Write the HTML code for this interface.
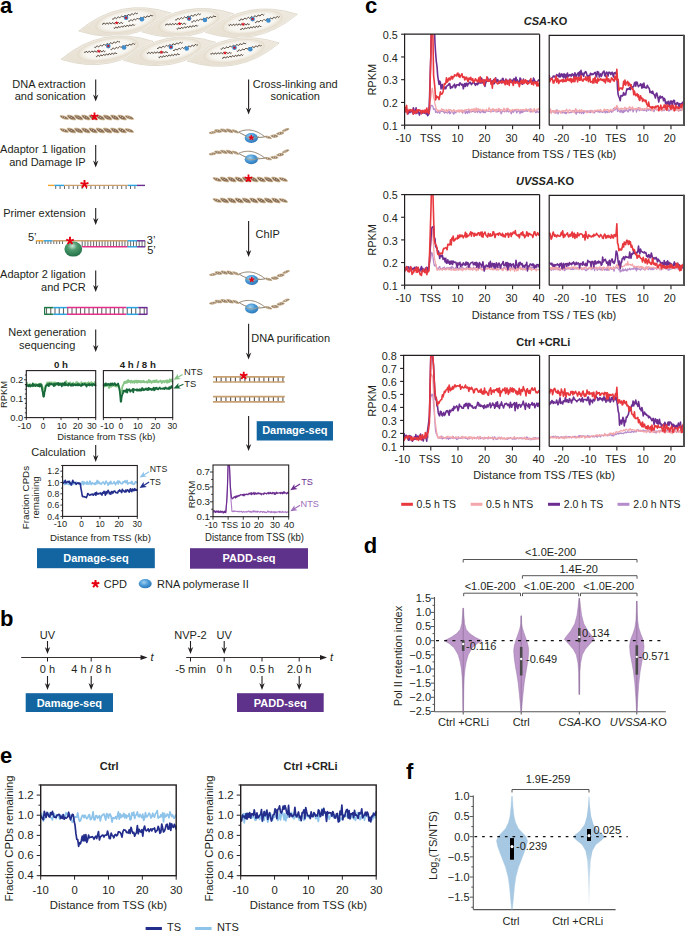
<!DOCTYPE html>
<html><head><meta charset="utf-8"><style>
html,body{margin:0;padding:0;background:#fff;}
svg{display:block;}
text{font-family:"Liberation Sans", sans-serif;}
</style></head><body>
<svg width="685" height="932" viewBox="0 0 685 932" font-family="Liberation Sans, sans-serif">
<rect width="685" height="932" fill="#fff"/>
<text x="365.00" y="12.50" font-size="22" text-anchor="start" font-weight="bold" font-style="normal" fill="#000" >c</text>
<clipPath id="c34a"><rect x="404.6" y="34.2" width="135.0" height="91.0"/></clipPath>
<clipPath id="c34b"><rect x="549.2" y="35.4" width="134.79999999999995" height="89.80000000000001"/></clipPath>
<g clip-path="url(#c34a)">
<polyline points="404.60,112.24 405.28,111.56 405.95,112.25 406.62,112.35 407.30,112.93 407.98,112.29 408.65,111.11 409.33,111.75 410.00,111.21 410.68,111.95 411.35,111.84 412.03,112.04 412.70,113.75 413.38,111.47 414.05,111.81 414.73,111.84 415.40,113.85 416.08,113.91 416.75,113.16 417.43,112.79 418.10,112.11 418.78,112.44 419.45,111.95 420.12,113.03 420.80,112.18 421.48,112.12 422.15,113.10 422.83,110.95 423.50,112.03 424.18,111.47 424.85,113.14 425.53,113.27 426.20,112.92 426.88,112.73 427.55,112.07 428.23,112.44 428.90,113.09 429.58,111.57 430.25,109.18 430.93,105.60 431.60,105.46 432.28,105.64 432.95,106.61 433.62,109.49 434.30,109.23 434.98,108.77 435.65,112.47 436.33,111.62 437.00,112.10 437.68,112.74 438.35,111.54 439.03,112.04 439.70,113.31 440.38,111.22 441.05,111.36 441.73,111.10 442.40,110.65 443.08,111.62 443.75,111.84 444.43,113.12 445.10,111.37 445.78,112.48 446.45,112.33 447.12,113.07 447.80,112.79 448.48,112.39 449.15,110.72 449.83,113.74 450.50,113.21 451.18,111.66 451.85,110.56 452.53,111.34 453.20,113.59 453.88,114.15 454.55,111.52 455.23,112.51 455.90,112.86 456.58,110.94 457.25,110.82 457.93,111.68 458.60,111.59 459.28,111.41 459.95,110.35 460.62,111.23 461.30,111.32 461.98,111.29 462.65,113.20 463.33,110.61 464.00,110.90 464.68,111.28 465.35,113.55 466.03,112.32 466.70,110.98 467.38,113.38 468.05,111.90 468.73,110.80 469.40,112.91 470.08,110.25 470.75,111.20 471.43,111.84 472.10,111.40 472.78,111.10 473.45,111.57 474.12,110.63 474.80,112.27 475.48,112.04 476.15,110.71 476.83,111.63 477.50,112.45 478.18,110.78 478.85,110.30 479.53,112.03 480.20,112.88 480.88,111.74 481.55,111.75 482.23,111.88 482.90,110.32 483.58,112.53 484.25,110.44 484.93,112.73 485.60,112.29 486.28,110.99 486.95,110.53 487.62,110.77 488.30,111.24 488.98,111.41 489.65,111.40 490.33,111.01 491.00,111.69 491.68,111.27 492.35,110.99 493.03,111.51 493.70,110.81 494.38,110.98 495.05,109.66 495.73,111.19 496.40,111.87 497.08,111.81 497.75,111.48 498.43,110.62 499.10,111.76 499.78,111.10 500.45,109.77 501.12,113.77 501.80,112.45 502.48,111.20 503.15,111.06 503.83,111.20 504.50,111.80 505.18,110.80 505.85,111.14 506.53,111.86 507.20,109.17 507.88,111.05 508.55,111.87 509.23,111.45 509.90,111.56 510.58,111.41 511.25,113.83 511.93,111.78 512.60,110.42 513.28,112.39 513.95,111.38 514.62,110.45 515.30,110.53 515.98,109.95 516.65,112.85 517.33,111.61 518.00,111.60 518.68,110.71 519.35,110.28 520.02,113.71 520.70,110.27 521.38,112.57 522.05,110.63 522.73,112.60 523.40,111.08 524.08,110.15 524.75,111.36 525.43,111.05 526.10,110.49 526.77,111.08 527.45,111.28 528.12,109.80 528.80,110.24 529.48,111.45 530.15,108.68 530.83,112.22 531.50,110.33 532.17,111.40 532.85,111.03 533.52,110.51 534.20,110.94 534.88,110.56 535.55,112.52 536.23,112.50 536.90,110.56 537.58,111.99 538.25,112.04 538.92,112.44 539.60,109.94" fill="none" stroke="#b68bcb" stroke-width="1.3" stroke-linejoin="round" />
<polyline points="404.60,109.73 405.28,109.10 405.95,111.33 406.62,110.51 407.30,111.58 407.98,109.87 408.65,109.16 409.33,111.44 410.00,109.25 410.68,109.80 411.35,110.89 412.03,112.55 412.70,109.51 413.38,110.91 414.05,111.40 414.73,110.52 415.40,110.54 416.08,109.59 416.75,111.91 417.43,109.98 418.10,109.69 418.78,109.75 419.45,111.27 420.12,111.82 420.80,110.24 421.48,111.10 422.15,111.12 422.83,109.97 423.50,111.54 424.18,113.42 424.85,111.71 425.53,113.08 426.20,110.68 426.88,111.17 427.55,112.04 428.23,111.53 428.90,110.79 429.58,106.60 430.25,100.59 430.93,97.05 431.60,91.49 432.28,88.20 432.95,91.88 433.62,97.75 434.30,99.18 434.98,104.30 435.65,106.18 436.33,109.59 437.00,109.44 437.68,111.53 438.35,110.42 439.03,110.57 439.70,110.42 440.38,110.93 441.05,110.17 441.73,108.75 442.40,110.34 443.08,109.89 443.75,109.46 444.43,110.54 445.10,111.50 445.78,110.86 446.45,109.37 447.12,111.84 447.80,110.88 448.48,109.42 449.15,109.61 449.83,110.32 450.50,109.59 451.18,110.17 451.85,111.39 452.53,111.73 453.20,110.89 453.88,109.46 454.55,110.81 455.23,111.11 455.90,110.99 456.58,111.68 457.25,110.38 457.93,111.35 458.60,109.94 459.28,112.41 459.95,109.96 460.62,110.84 461.30,112.02 461.98,109.59 462.65,110.49 463.33,112.27 464.00,111.03 464.68,109.96 465.35,110.64 466.03,109.51 466.70,109.53 467.38,109.60 468.05,109.91 468.73,108.99 469.40,109.60 470.08,109.78 470.75,112.08 471.43,109.37 472.10,108.99 472.78,110.44 473.45,110.60 474.12,108.40 474.80,111.76 475.48,109.73 476.15,107.95 476.83,110.99 477.50,109.52 478.18,108.42 478.85,110.24 479.53,109.62 480.20,109.30 480.88,110.94 481.55,110.20 482.23,109.85 482.90,109.36 483.58,110.13 484.25,110.28 484.93,111.02 485.60,110.42 486.28,109.27 486.95,109.99 487.62,110.85 488.30,110.84 488.98,107.64 489.65,109.02 490.33,109.48 491.00,112.41 491.68,109.48 492.35,109.61 493.03,108.51 493.70,109.65 494.38,110.09 495.05,109.55 495.73,111.79 496.40,109.08 497.08,109.72 497.75,110.65 498.43,108.80 499.10,108.35 499.78,111.27 500.45,110.60 501.12,109.72 501.80,109.81 502.48,110.34 503.15,110.86 503.83,108.04 504.50,109.02 505.18,111.05 505.85,111.18 506.53,108.40 507.20,109.05 507.88,108.28 508.55,109.20 509.23,110.73 509.90,109.69 510.58,111.89 511.25,110.60 511.93,109.97 512.60,109.43 513.28,110.57 513.95,110.01 514.62,109.48 515.30,109.55 515.98,109.31 516.65,109.69 517.33,110.17 518.00,109.16 518.68,109.82 519.35,110.62 520.02,110.43 520.70,109.86 521.38,109.95 522.05,109.70 522.73,109.84 523.40,109.68 524.08,109.96 524.75,110.97 525.43,109.44 526.10,108.86 526.77,109.42 527.45,109.98 528.12,109.40 528.80,110.68 529.48,111.52 530.15,109.74 530.83,110.64 531.50,109.11 532.17,110.77 532.85,112.17 533.52,110.72 534.20,108.33 534.88,110.11 535.55,111.00 536.23,110.45 536.90,109.27 537.58,109.29 538.25,109.58 538.92,108.38 539.60,109.09" fill="none" stroke="#f3a7aa" stroke-width="1.3" stroke-linejoin="round" />
<polyline points="404.60,111.59 405.28,110.53 405.95,108.67 406.62,109.97 407.30,109.94 407.98,113.84 408.65,112.20 409.33,110.66 410.00,112.60 410.68,110.17 411.35,111.10 412.03,110.59 412.70,112.69 413.38,107.74 414.05,110.18 414.73,112.89 415.40,112.40 416.08,107.90 416.75,113.31 417.43,111.16 418.10,111.03 418.78,112.87 419.45,115.06 420.12,112.66 420.80,112.41 421.48,111.07 422.15,111.77 422.83,113.21 423.50,111.77 424.18,112.40 424.85,113.07 425.53,113.41 426.20,114.02 426.88,112.39 427.55,115.62 428.23,114.91 428.90,113.82 429.58,96.18 430.25,73.99 430.93,53.02 431.60,12.69 432.28,10.42 432.95,10.42 433.62,11.55 434.30,24.87 434.98,43.28 435.65,53.62 436.33,61.70 437.00,66.33 437.68,75.62 438.35,80.04 439.03,84.43 439.70,81.12 440.38,82.26 441.05,88.84 441.73,85.60 442.40,84.47 443.08,88.94 443.75,89.16 444.43,87.89 445.10,87.22 445.78,88.74 446.45,86.24 447.12,85.96 447.80,85.37 448.48,85.11 449.15,83.51 449.83,83.98 450.50,88.34 451.18,86.73 451.85,87.60 452.53,87.49 453.20,85.54 453.88,85.24 454.55,84.21 455.23,87.85 455.90,87.07 456.58,84.72 457.25,84.90 457.93,84.96 458.60,84.37 459.28,85.58 459.95,82.86 460.62,83.43 461.30,84.18 461.98,85.19 462.65,84.23 463.33,88.81 464.00,85.58 464.68,83.67 465.35,86.42 466.03,83.26 466.70,83.30 467.38,86.02 468.05,83.91 468.73,83.97 469.40,82.50 470.08,82.17 470.75,83.29 471.43,84.72 472.10,83.38 472.78,83.17 473.45,81.66 474.12,82.41 474.80,84.20 475.48,85.29 476.15,83.45 476.83,84.06 477.50,84.68 478.18,82.81 478.85,83.44 479.53,82.29 480.20,81.48 480.88,83.12 481.55,78.09 482.23,82.84 482.90,80.20 483.58,81.92 484.25,80.06 484.93,86.36 485.60,83.34 486.28,81.51 486.95,80.85 487.62,77.68 488.30,81.33 488.98,79.57 489.65,80.49 490.33,80.15 491.00,80.93 491.68,82.13 492.35,80.91 493.03,83.78 493.70,79.65 494.38,83.64 495.05,81.32 495.73,77.90 496.40,82.15 497.08,81.70 497.75,79.60 498.43,81.66 499.10,83.16 499.78,81.21 500.45,80.60 501.12,80.36 501.80,83.04 502.48,78.43 503.15,78.57 503.83,81.56 504.50,81.09 505.18,82.34 505.85,78.97 506.53,82.82 507.20,80.29 507.88,82.38 508.55,82.75 509.23,80.17 509.90,79.04 510.58,81.47 511.25,82.67 511.93,79.94 512.60,81.50 513.28,80.83 513.95,78.61 514.62,79.30 515.30,82.30 515.98,77.18 516.65,81.31 517.33,79.88 518.00,82.47 518.68,81.36 519.35,84.45 520.02,78.00 520.70,78.75 521.38,83.43 522.05,83.95 522.73,84.14 523.40,79.04 524.08,82.00 524.75,81.26 525.43,81.71 526.10,81.34 526.77,83.09 527.45,81.05 528.12,83.70 528.80,81.20 529.48,80.49 530.15,80.19 530.83,81.44 531.50,82.65 532.17,80.70 532.85,81.86 533.52,78.12 534.20,79.55 534.88,81.15 535.55,81.78 536.23,82.19 536.90,82.60 537.58,81.52 538.25,80.33 538.92,79.91 539.60,79.80" fill="none" stroke="#6d2e91" stroke-width="1.6" stroke-linejoin="round" />
<polyline points="404.60,106.59 405.28,111.73 405.95,110.46 406.62,105.43 407.30,113.94 407.98,111.53 408.65,110.30 409.33,110.37 410.00,109.94 410.68,111.15 411.35,110.08 412.03,110.68 412.70,109.41 413.38,114.29 414.05,112.49 414.73,110.92 415.40,112.83 416.08,112.88 416.75,109.87 417.43,112.23 418.10,109.93 418.78,109.76 419.45,110.59 420.12,110.26 420.80,111.41 421.48,113.81 422.15,111.34 422.83,110.49 423.50,112.31 424.18,111.56 424.85,110.05 425.53,113.05 426.20,110.32 426.88,108.13 427.55,112.56 428.23,112.10 428.90,113.45 429.58,105.33 430.25,79.12 430.93,49.63 431.60,12.71 432.28,11.48 432.95,38.77 433.62,76.11 434.30,81.95 434.98,89.03 435.65,99.95 436.33,95.69 437.00,97.57 437.68,96.80 438.35,97.23 439.03,99.49 439.70,96.01 440.38,91.77 441.05,94.40 441.73,94.07 442.40,93.55 443.08,91.78 443.75,87.43 444.43,83.44 445.10,84.23 445.78,83.04 446.45,77.91 447.12,82.16 447.80,81.69 448.48,78.74 449.15,77.94 449.83,80.03 450.50,79.55 451.18,76.61 451.85,76.41 452.53,78.95 453.20,76.66 453.88,76.99 454.55,74.88 455.23,75.65 455.90,75.31 456.58,75.94 457.25,73.52 457.93,73.05 458.60,76.39 459.28,74.32 459.95,77.38 460.62,76.01 461.30,74.92 461.98,73.72 462.65,77.36 463.33,76.99 464.00,76.69 464.68,79.96 465.35,77.40 466.03,78.84 466.70,77.13 467.38,80.05 468.05,81.78 468.73,78.30 469.40,78.09 470.08,79.75 470.75,77.32 471.43,79.63 472.10,80.42 472.78,78.64 473.45,82.55 474.12,81.12 474.80,80.12 475.48,78.72 476.15,80.75 476.83,80.09 477.50,82.03 478.18,80.34 478.85,77.91 479.53,82.24 480.20,76.73 480.88,82.26 481.55,81.10 482.23,80.87 482.90,79.37 483.58,83.54 484.25,85.16 484.93,80.28 485.60,79.99 486.28,80.35 486.95,76.75 487.62,81.21 488.30,81.17 488.98,79.99 489.65,81.06 490.33,78.76 491.00,84.09 491.68,82.57 492.35,88.20 493.03,80.50 493.70,82.71 494.38,80.40 495.05,78.21 495.73,82.19 496.40,82.69 497.08,83.19 497.75,83.86 498.43,83.53 499.10,81.27 499.78,82.37 500.45,82.33 501.12,82.78 501.80,80.81 502.48,81.59 503.15,82.76 503.83,81.30 504.50,82.80 505.18,84.63 505.85,79.90 506.53,81.71 507.20,84.31 507.88,80.61 508.55,81.96 509.23,85.45 509.90,79.68 510.58,82.02 511.25,81.01 511.93,82.29 512.60,82.93 513.28,85.49 513.95,80.91 514.62,82.64 515.30,83.22 515.98,82.08 516.65,82.58 517.33,81.51 518.00,83.42 518.68,82.83 519.35,86.66 520.02,83.55 520.70,81.56 521.38,80.37 522.05,83.48 522.73,83.05 523.40,79.96 524.08,83.44 524.75,81.53 525.43,79.82 526.10,82.81 526.77,80.66 527.45,84.20 528.12,82.54 528.80,83.07 529.48,82.73 530.15,80.90 530.83,78.62 531.50,84.19 532.17,84.03 532.85,82.09 533.52,84.93 534.20,82.12 534.88,81.99 535.55,83.55 536.23,82.09 536.90,85.89 537.58,81.70 538.25,85.90 538.92,84.37 539.60,84.12" fill="none" stroke="#e8373d" stroke-width="1.6" stroke-linejoin="round" />
</g>
<g clip-path="url(#c34b)">
<polyline points="549.20,112.54 549.88,111.40 550.55,112.10 551.23,112.52 551.91,111.67 552.58,110.73 553.26,112.14 553.94,111.82 554.61,111.03 555.29,111.89 555.97,113.28 556.64,109.89 557.32,110.14 557.99,113.90 558.67,112.15 559.35,111.73 560.02,111.23 560.70,111.50 561.38,112.34 562.05,113.03 562.73,111.99 563.41,111.15 564.08,113.05 564.76,112.99 565.44,112.08 566.11,113.80 566.79,112.29 567.47,112.44 568.14,111.64 568.82,112.67 569.50,112.82 570.17,112.38 570.85,112.07 571.52,112.61 572.20,112.00 572.88,111.33 573.55,110.94 574.23,110.47 574.91,112.70 575.58,112.37 576.26,114.21 576.94,110.27 577.61,112.62 578.29,112.00 578.97,111.49 579.64,113.18 580.32,111.54 581.00,111.97 581.67,113.58 582.35,111.68 583.03,110.86 583.70,113.61 584.38,111.20 585.05,111.73 585.73,111.49 586.41,111.51 587.08,110.73 587.76,112.10 588.44,111.11 589.11,112.26 589.79,111.23 590.47,112.61 591.14,111.97 591.82,110.32 592.50,111.47 593.17,112.00 593.85,112.88 594.53,112.56 595.20,111.67 595.88,111.00 596.56,111.45 597.23,111.36 597.91,111.87 598.58,110.61 599.26,112.17 599.94,112.31 600.61,111.01 601.29,111.75 601.97,112.05 602.64,112.31 603.32,112.02 604.00,111.22 604.67,111.46 605.35,112.86 606.03,111.39 606.70,111.60 607.38,112.66 608.06,111.06 608.73,112.00 609.41,112.05 610.09,111.03 610.76,110.55 611.44,112.35 612.11,110.92 612.79,111.67 613.47,108.39 614.14,110.49 614.82,108.55 615.50,109.79 616.17,108.05 616.85,106.37 617.53,111.49 618.20,110.44 618.88,110.44 619.56,111.81 620.23,112.22 620.91,109.57 621.59,111.32 622.26,112.76 622.94,110.40 623.62,112.60 624.29,109.91 624.97,111.35 625.64,110.59 626.32,109.48 627.00,110.39 627.67,111.63 628.35,111.79 629.03,109.10 629.70,109.38 630.38,110.67 631.06,109.16 631.73,109.48 632.41,109.34 633.09,111.94 633.76,110.18 634.44,109.09 635.12,109.24 635.79,109.10 636.47,112.09 637.14,109.73 637.82,109.43 638.50,107.58 639.17,110.72 639.85,110.15 640.53,109.82 641.20,109.05 641.88,110.24 642.56,108.80 643.23,110.53 643.91,109.58 644.59,110.29 645.26,109.67 645.94,110.43 646.62,111.23 647.29,108.81 647.97,109.52 648.65,110.28 649.32,109.60 650.00,108.88 650.67,110.64 651.35,109.86 652.03,109.27 652.70,109.28 653.38,110.04 654.06,111.63 654.73,108.62 655.41,109.43 656.09,109.71 656.76,109.97 657.44,109.47 658.12,110.09 658.79,110.62 659.47,110.36 660.15,110.22 660.82,110.23 661.50,110.72 662.18,109.10 662.85,110.84 663.53,109.07 664.21,110.56 664.88,109.33 665.56,108.41 666.23,109.45 666.91,110.29 667.59,109.58 668.26,109.49 668.94,111.17 669.62,110.15 670.29,109.46 670.97,110.02 671.65,109.52 672.32,108.93 673.00,108.89 673.68,108.76 674.35,109.04 675.03,109.82 675.71,109.57 676.38,109.80 677.06,109.83 677.74,109.70 678.41,111.08 679.09,109.83 679.76,109.55 680.44,110.39 681.12,109.53 681.79,109.04 682.47,109.65 683.15,107.63 683.82,111.83 684.50,109.67" fill="none" stroke="#b68bcb" stroke-width="1.3" stroke-linejoin="round" />
<polyline points="549.20,112.92 549.88,110.39 550.55,108.88 551.23,113.51 551.91,111.14 552.58,110.78 553.26,111.51 553.94,110.73 554.61,113.24 555.29,110.45 555.97,110.87 556.64,111.18 557.32,111.72 557.99,110.61 558.67,111.61 559.35,110.97 560.02,111.62 560.70,113.17 561.38,111.18 562.05,110.96 562.73,110.46 563.41,111.91 564.08,111.15 564.76,110.56 565.44,110.97 566.11,109.98 566.79,109.30 567.47,111.90 568.14,112.80 568.82,110.30 569.50,109.69 570.17,110.23 570.85,110.32 571.52,111.59 572.20,111.67 572.88,110.23 573.55,111.84 574.23,112.64 574.91,111.90 575.58,108.76 576.26,109.26 576.94,111.60 577.61,111.63 578.29,110.76 578.97,111.63 579.64,109.78 580.32,111.01 581.00,111.91 581.67,109.75 582.35,111.45 583.03,110.72 583.70,110.92 584.38,111.18 585.05,110.60 585.73,111.51 586.41,112.53 587.08,112.85 587.76,112.00 588.44,111.54 589.11,110.87 589.79,110.79 590.47,110.34 591.14,110.72 591.82,111.53 592.50,111.45 593.17,112.71 593.85,110.95 594.53,110.36 595.20,110.31 595.88,110.88 596.56,110.92 597.23,109.92 597.91,110.74 598.58,110.08 599.26,110.22 599.94,110.54 600.61,109.55 601.29,111.23 601.97,111.03 602.64,111.43 603.32,111.41 604.00,109.29 604.67,109.10 605.35,110.65 606.03,110.16 606.70,109.60 607.38,109.93 608.06,109.56 608.73,111.77 609.41,111.20 610.09,110.22 610.76,109.33 611.44,110.51 612.11,110.96 612.79,110.08 613.47,109.94 614.14,109.69 614.82,107.15 615.50,108.64 616.17,107.64 616.85,105.30 617.53,106.85 618.20,108.29 618.88,109.81 619.56,109.57 620.23,108.28 620.91,108.98 621.59,108.21 622.26,109.06 622.94,108.49 623.62,108.94 624.29,108.18 624.97,107.19 625.64,109.66 626.32,108.44 627.00,108.19 627.67,108.93 628.35,108.70 629.03,107.73 629.70,106.65 630.38,107.90 631.06,108.18 631.73,109.88 632.41,106.77 633.09,108.45 633.76,108.56 634.44,109.55 635.12,108.60 635.79,109.55 636.47,108.52 637.14,108.17 637.82,108.58 638.50,108.37 639.17,109.40 639.85,107.36 640.53,109.24 641.20,110.30 641.88,108.85 642.56,109.38 643.23,109.61 643.91,109.04 644.59,108.47 645.26,109.81 645.94,108.88 646.62,107.49 647.29,108.17 647.97,108.93 648.65,108.69 649.32,108.93 650.00,108.88 650.67,108.19 651.35,108.94 652.03,111.03 652.70,108.90 653.38,109.70 654.06,108.33 654.73,109.47 655.41,108.80 656.09,106.99 656.76,109.90 657.44,109.98 658.12,110.26 658.79,111.15 659.47,110.70 660.15,108.70 660.82,109.61 661.50,110.73 662.18,110.40 662.85,108.52 663.53,109.79 664.21,109.43 664.88,108.82 665.56,107.91 666.23,107.40 666.91,108.23 667.59,109.04 668.26,109.01 668.94,107.57 669.62,107.92 670.29,109.50 670.97,108.82 671.65,108.98 672.32,109.21 673.00,109.72 673.68,110.47 674.35,109.77 675.03,110.69 675.71,108.22 676.38,108.85 677.06,110.43 677.74,108.10 678.41,108.57 679.09,111.10 679.76,107.74 680.44,108.68 681.12,107.57 681.79,110.54 682.47,108.97 683.15,109.08 683.82,109.29 684.50,109.33" fill="none" stroke="#f3a7aa" stroke-width="1.3" stroke-linejoin="round" />
<polyline points="549.20,75.04 549.88,79.56 550.55,79.05 551.23,79.27 551.91,77.71 552.58,77.74 553.26,75.94 553.94,76.06 554.61,76.43 555.29,77.64 555.97,77.16 556.64,74.60 557.32,74.89 557.99,76.02 558.67,76.73 559.35,73.30 560.02,77.10 560.70,74.81 561.38,73.85 562.05,76.34 562.73,74.33 563.41,77.76 564.08,73.88 564.76,75.28 565.44,78.44 566.11,74.33 566.79,77.08 567.47,73.11 568.14,76.58 568.82,75.60 569.50,74.74 570.17,75.79 570.85,74.67 571.52,76.07 572.20,73.82 572.88,74.96 573.55,74.53 574.23,79.80 574.91,72.71 575.58,74.69 576.26,77.89 576.94,74.50 577.61,73.81 578.29,72.70 578.97,76.55 579.64,71.81 580.32,74.85 581.00,70.25 581.67,74.79 582.35,73.29 583.03,75.15 583.70,76.47 584.38,72.48 585.05,72.80 585.73,71.64 586.41,72.85 587.08,75.40 587.76,77.33 588.44,75.50 589.11,75.52 589.79,75.75 590.47,73.22 591.14,73.66 591.82,74.71 592.50,73.90 593.17,74.45 593.85,73.78 594.53,72.80 595.20,72.40 595.88,75.34 596.56,76.79 597.23,71.50 597.91,73.84 598.58,72.04 599.26,76.96 599.94,74.58 600.61,73.92 601.29,76.53 601.97,74.85 602.64,72.60 603.32,71.95 604.00,71.00 604.67,75.40 605.35,76.34 606.03,72.87 606.70,72.10 607.38,73.42 608.06,76.08 608.73,72.32 609.41,72.28 610.09,72.69 610.76,74.54 611.44,73.10 612.11,72.21 612.79,74.61 613.47,76.90 614.14,72.97 614.82,72.70 615.50,73.54 616.17,71.97 616.85,74.62 617.53,88.68 618.20,94.83 618.88,96.70 619.56,98.31 620.23,100.70 620.91,95.64 621.59,95.65 622.26,96.05 622.94,95.49 623.62,92.44 624.29,95.02 624.97,93.97 625.64,94.84 626.32,91.24 627.00,88.83 627.67,89.45 628.35,88.80 629.03,89.08 629.70,87.57 630.38,89.59 631.06,84.73 631.73,86.93 632.41,87.76 633.09,86.70 633.76,86.41 634.44,82.97 635.12,82.19 635.79,86.11 636.47,82.10 637.14,82.26 637.82,84.99 638.50,86.71 639.17,85.47 639.85,85.37 640.53,83.71 641.20,85.06 641.88,88.15 642.56,84.18 643.23,87.45 643.91,83.16 644.59,87.52 645.26,87.16 645.94,88.01 646.62,88.01 647.29,85.27 647.97,86.63 648.65,87.64 649.32,88.71 650.00,92.62 650.67,91.34 651.35,91.95 652.03,93.28 652.70,91.17 653.38,93.98 654.06,94.48 654.73,95.65 655.41,98.03 656.09,93.82 656.76,93.06 657.44,95.70 658.12,98.33 658.79,102.00 659.47,97.39 660.15,96.08 660.82,98.06 661.50,97.27 662.18,96.62 662.85,97.58 663.53,100.74 664.21,98.39 664.88,99.22 665.56,103.71 666.23,102.02 666.91,104.18 667.59,102.16 668.26,101.26 668.94,104.56 669.62,106.67 670.29,100.98 670.97,102.97 671.65,101.10 672.32,106.20 673.00,102.01 673.68,100.28 674.35,100.49 675.03,104.56 675.71,103.79 676.38,104.64 677.06,102.66 677.74,102.68 678.41,104.48 679.09,107.17 679.76,103.48 680.44,105.75 681.12,103.87 681.79,104.61 682.47,102.26 683.15,103.22 683.82,106.16 684.50,104.82" fill="none" stroke="#6d2e91" stroke-width="1.6" stroke-linejoin="round" />
<polyline points="549.20,77.58 549.88,81.70 550.55,79.94 551.23,78.56 551.91,78.43 552.58,79.74 553.26,83.02 553.94,82.90 554.61,80.17 555.29,79.91 555.97,76.01 556.64,82.12 557.32,78.51 557.99,79.15 558.67,83.52 559.35,81.97 560.02,80.19 560.70,81.36 561.38,80.73 562.05,79.59 562.73,81.88 563.41,79.57 564.08,81.53 564.76,81.35 565.44,79.39 566.11,81.37 566.79,79.81 567.47,77.43 568.14,80.24 568.82,80.54 569.50,78.94 570.17,80.90 570.85,78.28 571.52,82.51 572.20,79.08 572.88,81.10 573.55,81.59 574.23,76.96 574.91,81.65 575.58,76.96 576.26,78.91 576.94,77.47 577.61,81.82 578.29,77.89 578.97,77.41 579.64,80.22 580.32,80.23 581.00,75.57 581.67,79.64 582.35,80.71 583.03,81.06 583.70,79.11 584.38,79.30 585.05,79.56 585.73,76.77 586.41,80.44 587.08,78.98 587.76,77.20 588.44,81.60 589.11,77.92 589.79,76.48 590.47,82.18 591.14,81.71 591.82,81.58 592.50,83.02 593.17,78.87 593.85,83.00 594.53,78.76 595.20,77.03 595.88,82.52 596.56,80.17 597.23,83.03 597.91,78.17 598.58,80.88 599.26,80.02 599.94,79.42 600.61,78.53 601.29,80.11 601.97,79.45 602.64,80.44 603.32,79.23 604.00,81.53 604.67,79.29 605.35,82.86 606.03,80.25 606.70,75.92 607.38,79.20 608.06,81.59 608.73,78.85 609.41,81.04 610.09,82.24 610.76,80.58 611.44,77.92 612.11,78.54 612.79,79.38 613.47,80.86 614.14,81.11 614.82,76.40 615.50,78.04 616.17,79.83 616.85,69.27 617.53,80.29 618.20,79.45 618.88,90.45 619.56,89.04 620.23,88.06 620.91,88.25 621.59,88.00 622.26,89.50 622.94,87.58 623.62,81.31 624.29,84.35 624.97,80.13 625.64,85.08 626.32,82.93 627.00,82.36 627.67,81.36 628.35,85.63 629.03,82.93 629.70,83.70 630.38,86.11 631.06,84.96 631.73,88.46 632.41,89.31 633.09,88.94 633.76,94.81 634.44,91.16 635.12,93.79 635.79,95.65 636.47,94.81 637.14,93.71 637.82,96.83 638.50,94.86 639.17,99.69 639.85,100.43 640.53,95.75 641.20,98.29 641.88,97.78 642.56,101.43 643.23,98.97 643.91,100.41 644.59,100.18 645.26,101.77 645.94,100.12 646.62,103.92 647.29,104.95 647.97,106.34 648.65,102.07 649.32,105.95 650.00,106.96 650.67,107.24 651.35,106.82 652.03,108.43 652.70,106.70 653.38,107.33 654.06,107.23 654.73,108.00 655.41,106.24 656.09,107.16 656.76,106.16 657.44,105.95 658.12,105.82 658.79,110.40 659.47,107.46 660.15,107.96 660.82,105.17 661.50,109.43 662.18,107.91 662.85,107.19 663.53,107.29 664.21,104.94 664.88,107.55 665.56,105.05 666.23,109.45 666.91,110.11 667.59,104.69 668.26,106.13 668.94,106.07 669.62,106.76 670.29,106.14 670.97,109.23 671.65,105.37 672.32,108.07 673.00,105.37 673.68,107.02 674.35,110.75 675.03,109.55 675.71,105.25 676.38,107.55 677.06,108.05 677.74,106.93 678.41,108.16 679.09,108.41 679.76,107.28 680.44,107.24 681.12,104.80 681.79,107.48 682.47,104.22 683.15,104.39 683.82,104.57 684.50,105.78" fill="none" stroke="#e8373d" stroke-width="1.6" stroke-linejoin="round" />
</g>
<path d="M404.6,125.2 L404.6,34.2 L539.6,34.2" fill="none" stroke="#231f20" stroke-width="1.2"/>
<path d="M539.6,34.2 L539.6,125.2 L404.6,125.2" fill="none" stroke="#231f20" stroke-width="1.2"/>
<path d="M549.2,125.2 L549.2,35.4 L684.0,35.4" fill="none" stroke="#231f20" stroke-width="1.2"/>
<path d="M549.2,125.2 L685.0,125.2" fill="none" stroke="#231f20" stroke-width="1.2"/>
<rect x="683" y="34.8" width="2" height="91.00000000000001" fill="#505050"/>
<line x1="401.10" y1="125.20" x2="404.60" y2="125.20" stroke="#231f20" stroke-width="1.1" />
<text x="397.80" y="129.80" font-size="10.8" text-anchor="end" font-weight="normal" font-style="normal" fill="#231f20" >0.1</text>
<line x1="401.10" y1="102.45" x2="404.60" y2="102.45" stroke="#231f20" stroke-width="1.1" />
<text x="397.80" y="107.05" font-size="10.8" text-anchor="end" font-weight="normal" font-style="normal" fill="#231f20" >0.2</text>
<line x1="401.10" y1="79.70" x2="404.60" y2="79.70" stroke="#231f20" stroke-width="1.1" />
<text x="397.80" y="84.30" font-size="10.8" text-anchor="end" font-weight="normal" font-style="normal" fill="#231f20" >0.3</text>
<line x1="401.10" y1="56.95" x2="404.60" y2="56.95" stroke="#231f20" stroke-width="1.1" />
<text x="397.80" y="61.55" font-size="10.8" text-anchor="end" font-weight="normal" font-style="normal" fill="#231f20" >0.4</text>
<line x1="401.10" y1="34.20" x2="404.60" y2="34.20" stroke="#231f20" stroke-width="1.1" />
<text x="397.80" y="38.80" font-size="10.8" text-anchor="end" font-weight="normal" font-style="normal" fill="#231f20" >0.5</text>
<line x1="404.60" y1="125.20" x2="404.60" y2="129.20" stroke="#231f20" stroke-width="1.1" />
<line x1="431.60" y1="125.20" x2="431.60" y2="129.20" stroke="#231f20" stroke-width="1.1" />
<line x1="458.60" y1="125.20" x2="458.60" y2="129.20" stroke="#231f20" stroke-width="1.1" />
<line x1="485.60" y1="125.20" x2="485.60" y2="129.20" stroke="#231f20" stroke-width="1.1" />
<line x1="512.60" y1="125.20" x2="512.60" y2="129.20" stroke="#231f20" stroke-width="1.1" />
<line x1="539.60" y1="125.20" x2="539.60" y2="129.20" stroke="#231f20" stroke-width="1.1" />
<line x1="562.73" y1="125.20" x2="562.73" y2="129.20" stroke="#231f20" stroke-width="1.1" />
<line x1="589.79" y1="125.20" x2="589.79" y2="129.20" stroke="#231f20" stroke-width="1.1" />
<line x1="616.85" y1="125.20" x2="616.85" y2="129.20" stroke="#231f20" stroke-width="1.1" />
<line x1="643.91" y1="125.20" x2="643.91" y2="129.20" stroke="#231f20" stroke-width="1.1" />
<line x1="670.97" y1="125.20" x2="670.97" y2="129.20" stroke="#231f20" stroke-width="1.1" />
<text x="403.40" y="141.70" font-size="10.8" text-anchor="middle" font-weight="normal" font-style="normal" fill="#231f20" >-10</text>
<text x="430.40" y="141.70" font-size="10.8" text-anchor="middle" font-weight="normal" font-style="normal" fill="#231f20" >TSS</text>
<text x="457.40" y="141.70" font-size="10.8" text-anchor="middle" font-weight="normal" font-style="normal" fill="#231f20" >10</text>
<text x="484.40" y="141.70" font-size="10.8" text-anchor="middle" font-weight="normal" font-style="normal" fill="#231f20" >20</text>
<text x="511.40" y="141.70" font-size="10.8" text-anchor="middle" font-weight="normal" font-style="normal" fill="#231f20" >30</text>
<text x="538.40" y="141.70" font-size="10.8" text-anchor="middle" font-weight="normal" font-style="normal" fill="#231f20" >40</text>
<text x="561.53" y="141.70" font-size="10.8" text-anchor="middle" font-weight="normal" font-style="normal" fill="#231f20" >-20</text>
<text x="588.59" y="141.70" font-size="10.8" text-anchor="middle" font-weight="normal" font-style="normal" fill="#231f20" >-10</text>
<text x="615.65" y="141.70" font-size="10.8" text-anchor="middle" font-weight="normal" font-style="normal" fill="#231f20" >TES</text>
<text x="642.71" y="141.70" font-size="10.8" text-anchor="middle" font-weight="normal" font-style="normal" fill="#231f20" >10</text>
<text x="669.77" y="141.70" font-size="10.8" text-anchor="middle" font-weight="normal" font-style="normal" fill="#231f20" >20</text>
<text x="544.00" y="158.00" font-size="11" text-anchor="middle" font-weight="normal" font-style="normal" fill="#231f20" >Distance from TSS / TES (kb)</text>
<text x="545.5" y="25.2" font-size="11" font-weight="bold" text-anchor="middle" fill="#231f20"><tspan font-style="italic">CSA</tspan>-KO</text>
<text transform="translate(375.8,79.7) rotate(-90)" font-size="11" text-anchor="middle" fill="#231f20">RPKM</text>
<clipPath id="c194a"><rect x="404.6" y="194.6" width="135.0" height="90.6"/></clipPath>
<clipPath id="c194b"><rect x="549.2" y="195.3" width="134.79999999999995" height="89.89999999999998"/></clipPath>
<g clip-path="url(#c194a)">
<polyline points="404.60,268.77 405.28,268.79 405.95,269.07 406.62,269.63 407.30,269.05 407.98,269.60 408.65,267.56 409.33,268.58 410.00,269.50 410.68,270.85 411.35,269.19 412.03,269.55 412.70,270.18 413.38,270.25 414.05,271.28 414.73,268.75 415.40,269.35 416.08,266.98 416.75,269.37 417.43,269.50 418.10,268.09 418.78,269.30 419.45,269.29 420.12,269.81 420.80,270.04 421.48,268.16 422.15,268.64 422.83,268.02 423.50,269.91 424.18,269.59 424.85,270.44 425.53,268.80 426.20,270.96 426.88,269.21 427.55,268.75 428.23,268.49 428.90,270.65 429.58,264.17 430.25,261.16 430.93,256.55 431.60,252.42 432.28,253.58 432.95,256.53 433.62,261.96 434.30,265.50 434.98,265.97 435.65,264.24 436.33,266.45 437.00,268.70 437.68,269.83 438.35,268.81 439.03,267.12 439.70,266.50 440.38,268.43 441.05,268.81 441.73,268.64 442.40,269.89 443.08,267.35 443.75,269.15 444.43,267.20 445.10,269.71 445.78,269.31 446.45,267.89 447.12,268.84 447.80,267.43 448.48,268.13 449.15,269.20 449.83,267.56 450.50,267.36 451.18,269.85 451.85,266.46 452.53,267.66 453.20,267.42 453.88,269.79 454.55,268.75 455.23,268.41 455.90,267.11 456.58,269.41 457.25,268.88 457.93,269.91 458.60,268.29 459.28,267.75 459.95,269.59 460.62,268.59 461.30,267.59 461.98,266.61 462.65,267.44 463.33,268.31 464.00,269.10 464.68,268.88 465.35,268.63 466.03,267.89 466.70,268.06 467.38,266.50 468.05,267.75 468.73,268.97 469.40,266.60 470.08,267.13 470.75,267.90 471.43,268.64 472.10,269.67 472.78,268.90 473.45,267.15 474.12,268.69 474.80,269.16 475.48,267.78 476.15,267.73 476.83,267.40 477.50,267.35 478.18,266.66 478.85,268.70 479.53,267.04 480.20,268.82 480.88,267.29 481.55,267.76 482.23,267.69 482.90,267.03 483.58,267.92 484.25,266.89 484.93,267.10 485.60,267.77 486.28,268.40 486.95,268.56 487.62,268.36 488.30,268.06 488.98,267.89 489.65,265.16 490.33,267.28 491.00,267.16 491.68,268.63 492.35,268.49 493.03,268.13 493.70,267.66 494.38,268.77 495.05,266.37 495.73,268.33 496.40,266.84 497.08,269.93 497.75,267.82 498.43,267.55 499.10,267.63 499.78,267.25 500.45,267.54 501.12,267.64 501.80,269.50 502.48,268.43 503.15,269.90 503.83,267.20 504.50,267.49 505.18,267.94 505.85,268.50 506.53,268.28 507.20,266.08 507.88,266.17 508.55,267.79 509.23,266.57 509.90,269.17 510.58,269.48 511.25,268.16 511.93,268.51 512.60,268.22 513.28,267.54 513.95,264.96 514.62,268.30 515.30,267.65 515.98,267.44 516.65,267.72 517.33,266.84 518.00,266.07 518.68,268.80 519.35,267.52 520.02,267.90 520.70,267.34 521.38,269.04 522.05,269.24 522.73,269.74 523.40,267.16 524.08,267.46 524.75,267.56 525.43,269.77 526.10,267.96 526.77,268.30 527.45,268.89 528.12,268.44 528.80,266.97 529.48,267.11 530.15,267.62 530.83,267.13 531.50,268.13 532.17,267.52 532.85,267.54 533.52,267.07 534.20,267.63 534.88,267.69 535.55,267.68 536.23,268.14 536.90,265.53 537.58,267.08 538.25,267.15 538.92,265.46 539.60,266.26" fill="none" stroke="#b68bcb" stroke-width="1.3" stroke-linejoin="round" />
<polyline points="404.60,272.34 405.28,270.32 405.95,270.21 406.62,269.28 407.30,269.81 407.98,270.33 408.65,272.11 409.33,271.85 410.00,270.84 410.68,270.64 411.35,272.04 412.03,271.49 412.70,271.52 413.38,271.12 414.05,270.89 414.73,271.47 415.40,272.35 416.08,270.13 416.75,269.82 417.43,271.39 418.10,270.38 418.78,270.92 419.45,270.75 420.12,270.93 420.80,272.08 421.48,270.88 422.15,270.51 422.83,272.25 423.50,269.68 424.18,269.58 424.85,269.85 425.53,269.71 426.20,270.86 426.88,271.86 427.55,272.12 428.23,272.33 428.90,271.50 429.58,261.73 430.25,251.18 430.93,243.71 431.60,233.28 432.28,227.65 432.95,237.01 433.62,246.89 434.30,257.59 434.98,260.60 435.65,263.87 436.33,266.62 437.00,270.09 437.68,269.18 438.35,269.36 439.03,269.05 439.70,270.11 440.38,269.29 441.05,269.28 441.73,268.78 442.40,270.28 443.08,268.94 443.75,268.42 444.43,268.77 445.10,269.64 445.78,269.75 446.45,269.52 447.12,268.64 447.80,267.89 448.48,269.44 449.15,269.87 449.83,268.95 450.50,269.10 451.18,270.11 451.85,269.95 452.53,269.37 453.20,268.66 453.88,270.35 454.55,270.19 455.23,268.81 455.90,270.37 456.58,269.16 457.25,268.94 457.93,269.35 458.60,270.17 459.28,269.30 459.95,269.54 460.62,268.94 461.30,270.00 461.98,268.25 462.65,270.75 463.33,269.39 464.00,269.22 464.68,268.35 465.35,269.77 466.03,268.72 466.70,269.73 467.38,268.54 468.05,267.63 468.73,269.57 469.40,268.80 470.08,270.04 470.75,268.31 471.43,268.10 472.10,269.16 472.78,270.22 473.45,268.82 474.12,268.14 474.80,268.19 475.48,268.44 476.15,270.83 476.83,269.79 477.50,267.88 478.18,270.27 478.85,268.14 479.53,267.45 480.20,268.46 480.88,268.14 481.55,269.45 482.23,270.26 482.90,269.24 483.58,269.32 484.25,269.18 484.93,268.50 485.60,269.26 486.28,268.95 486.95,268.74 487.62,269.13 488.30,267.45 488.98,268.71 489.65,269.04 490.33,269.30 491.00,269.67 491.68,267.89 492.35,268.96 493.03,270.08 493.70,269.60 494.38,269.22 495.05,269.49 495.73,268.10 496.40,270.14 497.08,268.63 497.75,268.95 498.43,270.14 499.10,269.03 499.78,269.15 500.45,268.61 501.12,269.47 501.80,268.78 502.48,270.56 503.15,270.03 503.83,268.34 504.50,268.10 505.18,269.06 505.85,269.58 506.53,268.06 507.20,270.93 507.88,269.76 508.55,268.42 509.23,268.43 509.90,269.96 510.58,270.73 511.25,267.70 511.93,268.88 512.60,269.82 513.28,268.96 513.95,268.19 514.62,271.35 515.30,267.99 515.98,268.33 516.65,270.88 517.33,268.29 518.00,270.60 518.68,267.95 519.35,268.62 520.02,266.94 520.70,269.53 521.38,268.97 522.05,268.02 522.73,269.55 523.40,269.60 524.08,269.30 524.75,269.02 525.43,269.94 526.10,268.51 526.77,268.46 527.45,268.88 528.12,267.40 528.80,269.24 529.48,267.75 530.15,269.43 530.83,268.25 531.50,270.68 532.17,268.75 532.85,269.08 533.52,269.37 534.20,269.47 534.88,269.23 535.55,269.56 536.23,270.89 536.90,269.44 537.58,269.40 538.25,269.37 538.92,269.85 539.60,269.01" fill="none" stroke="#f3a7aa" stroke-width="1.3" stroke-linejoin="round" />
<polyline points="404.60,267.47 405.28,269.36 405.95,269.81 406.62,266.47 407.30,267.17 407.98,267.28 408.65,266.87 409.33,269.57 410.00,269.23 410.68,266.99 411.35,270.02 412.03,269.25 412.70,268.36 413.38,268.38 414.05,269.57 414.73,267.30 415.40,269.42 416.08,267.79 416.75,267.18 417.43,267.94 418.10,267.81 418.78,271.26 419.45,271.54 420.12,270.30 420.80,268.33 421.48,266.49 422.15,271.43 422.83,268.68 423.50,270.79 424.18,270.58 424.85,269.77 425.53,268.03 426.20,268.91 426.88,267.17 427.55,271.11 428.23,267.72 428.90,267.66 429.58,258.70 430.25,247.45 430.93,238.66 431.60,228.28 432.28,227.04 432.95,227.47 433.62,226.17 434.30,237.38 434.98,238.61 435.65,246.33 436.33,247.64 437.00,248.37 437.68,252.64 438.35,251.07 439.03,253.56 439.70,258.50 440.38,255.23 441.05,255.89 441.73,256.63 442.40,255.15 443.08,259.34 443.75,258.23 444.43,258.36 445.10,261.92 445.78,258.25 446.45,263.19 447.12,263.05 447.80,259.88 448.48,262.94 449.15,261.31 449.83,264.22 450.50,261.25 451.18,263.56 451.85,261.02 452.53,264.56 453.20,261.10 453.88,262.53 454.55,262.07 455.23,262.45 455.90,262.22 456.58,264.99 457.25,267.38 457.93,262.81 458.60,264.70 459.28,263.87 459.95,262.32 460.62,266.74 461.30,264.57 461.98,264.34 462.65,265.19 463.33,262.73 464.00,263.62 464.68,264.90 465.35,265.24 466.03,262.04 466.70,264.74 467.38,262.53 468.05,262.82 468.73,267.11 469.40,265.69 470.08,263.77 470.75,263.20 471.43,262.45 472.10,262.46 472.78,262.08 473.45,264.68 474.12,264.43 474.80,262.68 475.48,264.91 476.15,262.27 476.83,267.11 477.50,263.09 478.18,264.63 478.85,267.93 479.53,262.63 480.20,263.89 480.88,264.46 481.55,266.49 482.23,265.43 482.90,261.89 483.58,266.18 484.25,271.02 484.93,266.32 485.60,266.99 486.28,265.05 486.95,265.53 487.62,266.47 488.30,266.34 488.98,262.92 489.65,267.43 490.33,261.27 491.00,265.80 491.68,266.79 492.35,263.39 493.03,263.79 493.70,266.70 494.38,263.46 495.05,268.15 495.73,266.49 496.40,262.77 497.08,265.28 497.75,267.17 498.43,263.88 499.10,263.15 499.78,264.86 500.45,268.09 501.12,265.44 501.80,264.06 502.48,263.42 503.15,261.46 503.83,265.27 504.50,265.69 505.18,264.88 505.85,262.63 506.53,266.52 507.20,262.45 507.88,269.80 508.55,263.37 509.23,266.04 509.90,263.98 510.58,263.57 511.25,266.96 511.93,264.97 512.60,264.38 513.28,263.75 513.95,266.50 514.62,266.61 515.30,268.30 515.98,260.21 516.65,265.16 517.33,265.22 518.00,267.52 518.68,263.13 519.35,265.78 520.02,262.21 520.70,263.27 521.38,264.78 522.05,263.50 522.73,266.83 523.40,265.41 524.08,265.86 524.75,267.12 525.43,264.78 526.10,265.08 526.77,262.21 527.45,270.89 528.12,266.03 528.80,266.48 529.48,265.66 530.15,264.05 530.83,264.08 531.50,264.76 532.17,265.67 532.85,263.92 533.52,264.16 534.20,268.15 534.88,265.29 535.55,267.31 536.23,266.96 536.90,264.55 537.58,264.71 538.25,264.61 538.92,266.40 539.60,265.18" fill="none" stroke="#6d2e91" stroke-width="1.6" stroke-linejoin="round" />
<polyline points="404.60,271.45 405.28,269.16 405.95,268.65 406.62,266.77 407.30,267.71 407.98,271.51 408.65,270.93 409.33,271.85 410.00,269.65 410.68,266.66 411.35,269.02 412.03,274.34 412.70,272.68 413.38,272.79 414.05,269.57 414.73,270.55 415.40,270.06 416.08,267.43 416.75,272.20 417.43,272.29 418.10,267.24 418.78,270.23 419.45,272.32 420.12,274.63 420.80,273.77 421.48,275.49 422.15,270.98 422.83,271.08 423.50,269.41 424.18,271.51 424.85,272.56 425.53,272.70 426.20,267.96 426.88,274.66 427.55,271.19 428.23,271.51 428.90,270.49 429.58,252.93 430.25,231.88 430.93,210.11 431.60,183.54 432.28,184.10 432.95,193.05 433.62,218.05 434.30,240.28 434.98,243.09 435.65,244.80 436.33,245.41 437.00,248.10 437.68,253.92 438.35,254.66 439.03,254.65 439.70,253.24 440.38,254.02 441.05,253.01 441.73,253.77 442.40,253.78 443.08,249.93 443.75,248.31 444.43,248.61 445.10,248.17 445.78,247.63 446.45,248.08 447.12,249.64 447.80,244.36 448.48,244.35 449.15,244.87 449.83,244.76 450.50,239.85 451.18,244.98 451.85,238.07 452.53,239.65 453.20,236.06 453.88,241.20 454.55,239.49 455.23,239.91 455.90,238.26 456.58,238.47 457.25,238.99 457.93,235.23 458.60,238.15 459.28,237.20 459.95,234.82 460.62,236.75 461.30,236.51 461.98,235.03 462.65,236.29 463.33,237.83 464.00,235.71 464.68,235.87 465.35,232.33 466.03,237.36 466.70,233.56 467.38,236.69 468.05,235.86 468.73,235.76 469.40,234.63 470.08,233.50 470.75,231.85 471.43,236.12 472.10,232.51 472.78,233.11 473.45,233.43 474.12,236.27 474.80,233.26 475.48,235.08 476.15,234.24 476.83,235.36 477.50,233.66 478.18,232.84 478.85,232.80 479.53,235.21 480.20,233.03 480.88,232.20 481.55,236.52 482.23,232.15 482.90,237.23 483.58,233.82 484.25,233.72 484.93,232.10 485.60,234.28 486.28,235.65 486.95,236.21 487.62,237.03 488.30,233.37 488.98,235.18 489.65,236.04 490.33,233.77 491.00,236.11 491.68,235.51 492.35,235.54 493.03,231.71 493.70,232.05 494.38,234.98 495.05,237.53 495.73,234.18 496.40,234.54 497.08,234.03 497.75,233.63 498.43,235.23 499.10,232.97 499.78,233.12 500.45,234.25 501.12,235.36 501.80,235.49 502.48,233.36 503.15,236.60 503.83,234.89 504.50,235.95 505.18,237.11 505.85,233.48 506.53,234.62 507.20,234.50 507.88,232.97 508.55,237.26 509.23,234.66 509.90,234.01 510.58,233.02 511.25,236.49 511.93,233.22 512.60,234.11 513.28,232.05 513.95,232.43 514.62,233.49 515.30,230.59 515.98,234.48 516.65,235.24 517.33,235.08 518.00,236.16 518.68,234.50 519.35,237.84 520.02,234.59 520.70,233.66 521.38,232.62 522.05,235.04 522.73,231.89 523.40,235.58 524.08,234.64 524.75,237.79 525.43,235.76 526.10,235.81 526.77,231.72 527.45,233.42 528.12,236.31 528.80,233.40 529.48,233.49 530.15,234.75 530.83,234.29 531.50,234.86 532.17,235.27 532.85,237.44 533.52,234.46 534.20,232.02 534.88,231.75 535.55,234.77 536.23,235.59 536.90,234.64 537.58,232.67 538.25,233.63 538.92,235.28 539.60,233.60" fill="none" stroke="#e8373d" stroke-width="1.6" stroke-linejoin="round" />
</g>
<g clip-path="url(#c194b)">
<polyline points="549.20,269.20 549.88,268.57 550.55,269.38 551.23,270.31 551.91,268.97 552.58,268.35 553.26,269.99 553.94,269.11 554.61,268.25 555.29,269.35 555.97,269.59 556.64,267.24 557.32,268.29 557.99,268.12 558.67,269.85 559.35,267.59 560.02,270.47 560.70,269.47 561.38,268.37 562.05,267.85 562.73,269.83 563.41,269.60 564.08,268.85 564.76,270.70 565.44,268.46 566.11,268.53 566.79,269.41 567.47,268.55 568.14,268.34 568.82,268.75 569.50,268.56 570.17,267.70 570.85,269.43 571.52,268.88 572.20,269.47 572.88,268.12 573.55,269.37 574.23,268.60 574.91,268.90 575.58,268.96 576.26,267.52 576.94,269.09 577.61,267.78 578.29,268.30 578.97,267.87 579.64,269.16 580.32,268.21 581.00,268.36 581.67,269.55 582.35,268.78 583.03,269.13 583.70,269.05 584.38,267.89 585.05,269.64 585.73,270.48 586.41,270.53 587.08,269.41 587.76,269.58 588.44,269.01 589.11,268.53 589.79,267.49 590.47,268.75 591.14,268.62 591.82,269.66 592.50,268.51 593.17,267.84 593.85,267.86 594.53,270.71 595.20,268.25 595.88,267.64 596.56,268.30 597.23,270.31 597.91,269.28 598.58,268.51 599.26,268.66 599.94,269.72 600.61,269.79 601.29,268.18 601.97,270.17 602.64,267.78 603.32,269.00 604.00,268.76 604.67,270.17 605.35,269.53 606.03,268.42 606.70,270.29 607.38,267.23 608.06,270.23 608.73,270.08 609.41,268.98 610.09,268.60 610.76,268.38 611.44,269.34 612.11,269.20 612.79,269.22 613.47,269.52 614.14,271.25 614.82,267.74 615.50,267.90 616.17,267.53 616.85,267.76 617.53,267.85 618.20,268.92 618.88,269.81 619.56,269.64 620.23,271.98 620.91,270.18 621.59,271.22 622.26,270.47 622.94,268.80 623.62,270.94 624.29,269.99 624.97,270.32 625.64,268.89 626.32,270.45 627.00,270.96 627.67,268.97 628.35,269.62 629.03,269.49 629.70,268.18 630.38,269.78 631.06,269.33 631.73,268.87 632.41,268.64 633.09,269.43 633.76,268.08 634.44,267.03 635.12,269.31 635.79,267.34 636.47,270.76 637.14,267.72 637.82,269.22 638.50,268.80 639.17,269.20 639.85,269.45 640.53,269.99 641.20,269.22 641.88,267.76 642.56,267.88 643.23,269.16 643.91,269.31 644.59,269.45 645.26,269.87 645.94,267.27 646.62,268.24 647.29,268.71 647.97,269.22 648.65,269.67 649.32,267.65 650.00,268.10 650.67,269.59 651.35,267.90 652.03,269.70 652.70,268.19 653.38,269.56 654.06,269.08 654.73,268.29 655.41,268.33 656.09,267.82 656.76,269.41 657.44,267.32 658.12,267.51 658.79,268.67 659.47,268.25 660.15,269.32 660.82,268.77 661.50,269.77 662.18,268.54 662.85,268.44 663.53,267.45 664.21,267.78 664.88,267.88 665.56,268.89 666.23,268.77 666.91,268.86 667.59,268.36 668.26,270.21 668.94,267.87 669.62,269.88 670.29,268.97 670.97,268.49 671.65,268.95 672.32,267.06 673.00,268.57 673.68,267.12 674.35,267.46 675.03,268.89 675.71,268.11 676.38,267.32 677.06,268.72 677.74,268.35 678.41,268.90 679.09,268.36 679.76,268.71 680.44,268.32 681.12,267.52 681.79,267.18 682.47,268.25 683.15,268.19 683.82,267.61 684.50,268.59" fill="none" stroke="#b68bcb" stroke-width="1.3" stroke-linejoin="round" />
<polyline points="549.20,269.26 549.88,267.38 550.55,269.14 551.23,267.52 551.91,269.15 552.58,266.73 553.26,269.20 553.94,267.56 554.61,266.99 555.29,269.11 555.97,266.99 556.64,268.98 557.32,269.78 557.99,267.63 558.67,267.64 559.35,268.41 560.02,270.41 560.70,268.27 561.38,268.48 562.05,268.54 562.73,268.45 563.41,269.74 564.08,268.68 564.76,266.63 565.44,266.84 566.11,268.48 566.79,268.78 567.47,267.81 568.14,267.23 568.82,267.52 569.50,269.14 570.17,267.99 570.85,268.00 571.52,266.87 572.20,267.07 572.88,267.65 573.55,267.04 574.23,268.43 574.91,266.75 575.58,268.44 576.26,267.72 576.94,267.26 577.61,268.84 578.29,268.65 578.97,269.55 579.64,267.89 580.32,268.07 581.00,268.30 581.67,267.58 582.35,269.83 583.03,268.01 583.70,267.91 584.38,268.21 585.05,267.29 585.73,266.45 586.41,268.34 587.08,268.76 587.76,268.47 588.44,267.86 589.11,267.42 589.79,268.67 590.47,267.05 591.14,268.79 591.82,267.19 592.50,267.53 593.17,267.49 593.85,266.02 594.53,268.10 595.20,268.01 595.88,267.45 596.56,267.11 597.23,269.00 597.91,267.60 598.58,268.47 599.26,267.28 599.94,266.64 600.61,267.77 601.29,267.89 601.97,267.64 602.64,270.34 603.32,267.12 604.00,267.29 604.67,267.63 605.35,268.10 606.03,268.38 606.70,267.90 607.38,266.69 608.06,267.82 608.73,266.56 609.41,269.94 610.09,268.11 610.76,267.47 611.44,267.71 612.11,269.12 612.79,268.26 613.47,266.60 614.14,268.78 614.82,267.85 615.50,267.27 616.17,266.12 616.85,264.42 617.53,265.02 618.20,267.85 618.88,265.40 619.56,267.73 620.23,267.45 620.91,265.22 621.59,266.45 622.26,267.17 622.94,266.37 623.62,266.16 624.29,266.12 624.97,265.26 625.64,263.93 626.32,264.11 627.00,265.32 627.67,261.44 628.35,264.98 629.03,264.31 629.70,264.66 630.38,264.32 631.06,265.54 631.73,265.14 632.41,264.00 633.09,266.01 633.76,267.13 634.44,266.01 635.12,267.08 635.79,266.81 636.47,266.43 637.14,266.40 637.82,267.03 638.50,266.15 639.17,267.15 639.85,268.21 640.53,266.42 641.20,267.59 641.88,266.33 642.56,268.04 643.23,267.08 643.91,267.40 644.59,270.00 645.26,268.96 645.94,268.64 646.62,266.46 647.29,269.30 647.97,266.88 648.65,266.73 649.32,267.24 650.00,267.09 650.67,268.10 651.35,267.68 652.03,267.48 652.70,267.31 653.38,267.06 654.06,267.85 654.73,268.27 655.41,268.15 656.09,267.31 656.76,269.10 657.44,268.75 658.12,268.02 658.79,268.15 659.47,267.90 660.15,269.97 660.82,267.96 661.50,267.89 662.18,267.00 662.85,269.38 663.53,267.93 664.21,267.26 664.88,267.25 665.56,266.64 666.23,266.76 666.91,268.58 667.59,267.12 668.26,267.96 668.94,268.36 669.62,266.34 670.29,268.21 670.97,268.41 671.65,268.02 672.32,268.41 673.00,266.80 673.68,267.34 674.35,266.46 675.03,267.31 675.71,268.20 676.38,266.76 677.06,268.24 677.74,268.07 678.41,267.81 679.09,267.64 679.76,266.64 680.44,268.19 681.12,267.37 681.79,267.69 682.47,268.76 683.15,268.62 683.82,267.86 684.50,267.32" fill="none" stroke="#f3a7aa" stroke-width="1.3" stroke-linejoin="round" />
<polyline points="549.20,263.29 549.88,263.02 550.55,263.76 551.23,264.62 551.91,263.11 552.58,265.58 553.26,266.17 553.94,264.43 554.61,266.32 555.29,264.74 555.97,265.14 556.64,264.81 557.32,263.93 557.99,265.24 558.67,264.58 559.35,266.81 560.02,263.60 560.70,265.37 561.38,263.15 562.05,268.75 562.73,265.24 563.41,263.43 564.08,268.08 564.76,264.47 565.44,263.68 566.11,263.67 566.79,266.44 567.47,263.45 568.14,263.59 568.82,265.54 569.50,262.56 570.17,263.93 570.85,263.82 571.52,264.63 572.20,262.90 572.88,263.68 573.55,261.88 574.23,263.07 574.91,264.92 575.58,264.24 576.26,262.25 576.94,264.48 577.61,263.18 578.29,262.94 578.97,264.16 579.64,267.89 580.32,263.62 581.00,263.48 581.67,263.61 582.35,265.17 583.03,261.75 583.70,264.08 584.38,264.93 585.05,265.10 585.73,263.23 586.41,265.75 587.08,265.59 587.76,260.37 588.44,261.57 589.11,262.02 589.79,261.48 590.47,262.74 591.14,266.64 591.82,261.56 592.50,261.41 593.17,262.64 593.85,266.83 594.53,261.19 595.20,260.91 595.88,264.07 596.56,262.92 597.23,261.72 597.91,263.15 598.58,261.02 599.26,262.72 599.94,261.59 600.61,262.58 601.29,265.23 601.97,264.32 602.64,257.00 603.32,261.96 604.00,260.09 604.67,260.32 605.35,259.25 606.03,261.20 606.70,263.13 607.38,261.99 608.06,265.30 608.73,262.21 609.41,260.23 610.09,265.51 610.76,261.33 611.44,260.16 612.11,258.91 612.79,262.47 613.47,261.61 614.14,263.37 614.82,261.51 615.50,258.42 616.17,251.02 616.85,251.91 617.53,255.52 618.20,262.35 618.88,264.90 619.56,261.14 620.23,268.67 620.91,263.69 621.59,262.48 622.26,258.44 622.94,258.32 623.62,256.80 624.29,259.82 624.97,257.64 625.64,256.41 626.32,257.34 627.00,257.04 627.67,257.43 628.35,257.26 629.03,258.13 629.70,252.01 630.38,255.64 631.06,258.21 631.73,253.84 632.41,254.08 633.09,253.43 633.76,250.28 634.44,253.36 635.12,253.36 635.79,253.92 636.47,252.37 637.14,252.82 637.82,251.41 638.50,246.03 639.17,251.12 639.85,253.63 640.53,249.09 641.20,251.28 641.88,251.68 642.56,252.18 643.23,252.33 643.91,252.90 644.59,251.94 645.26,252.97 645.94,252.70 646.62,256.26 647.29,255.71 647.97,257.31 648.65,254.68 649.32,255.23 650.00,257.82 650.67,256.31 651.35,253.00 652.03,255.70 652.70,260.08 653.38,258.55 654.06,257.54 654.73,258.98 655.41,258.51 656.09,257.38 656.76,259.14 657.44,261.90 658.12,258.99 658.79,260.67 659.47,260.57 660.15,262.02 660.82,263.72 661.50,263.74 662.18,262.44 662.85,263.96 663.53,267.11 664.21,260.61 664.88,264.83 665.56,264.18 666.23,262.09 666.91,267.36 667.59,260.90 668.26,264.71 668.94,262.32 669.62,264.43 670.29,263.17 670.97,263.63 671.65,263.93 672.32,267.25 673.00,266.73 673.68,264.35 674.35,261.92 675.03,265.46 675.71,263.68 676.38,264.44 677.06,264.00 677.74,263.22 678.41,267.70 679.09,264.70 679.76,265.61 680.44,265.96 681.12,267.02 681.79,267.02 682.47,267.56 683.15,267.79 683.82,261.59 684.50,263.12" fill="none" stroke="#6d2e91" stroke-width="1.6" stroke-linejoin="round" />
<polyline points="549.20,234.39 549.88,233.12 550.55,236.15 551.23,239.32 551.91,237.66 552.58,234.23 553.26,231.97 553.94,234.59 554.61,236.28 555.29,234.96 555.97,236.30 556.64,237.01 557.32,234.99 557.99,235.30 558.67,236.04 559.35,236.18 560.02,236.28 560.70,234.25 561.38,232.24 562.05,235.06 562.73,230.79 563.41,237.56 564.08,234.26 564.76,236.78 565.44,235.05 566.11,234.60 566.79,233.82 567.47,232.83 568.14,235.80 568.82,237.02 569.50,235.19 570.17,234.36 570.85,236.11 571.52,233.34 572.20,231.97 572.88,237.42 573.55,234.31 574.23,233.18 574.91,238.34 575.58,234.63 576.26,235.40 576.94,237.52 577.61,232.73 578.29,234.67 578.97,235.90 579.64,234.30 580.32,233.97 581.00,233.76 581.67,234.11 582.35,234.42 583.03,237.22 583.70,235.91 584.38,234.96 585.05,240.05 585.73,231.48 586.41,235.90 587.08,237.09 587.76,238.45 588.44,234.84 589.11,235.23 589.79,236.33 590.47,236.06 591.14,236.91 591.82,236.69 592.50,235.58 593.17,236.56 593.85,234.27 594.53,235.73 595.20,235.27 595.88,234.82 596.56,233.33 597.23,234.53 597.91,235.21 598.58,235.92 599.26,237.07 599.94,236.28 600.61,234.51 601.29,235.33 601.97,236.43 602.64,238.11 603.32,238.49 604.00,235.27 604.67,234.06 605.35,235.22 606.03,238.31 606.70,236.30 607.38,235.57 608.06,237.59 608.73,235.40 609.41,236.38 610.09,237.52 610.76,238.26 611.44,234.68 612.11,235.50 612.79,237.71 613.47,237.96 614.14,234.65 614.82,235.04 615.50,236.49 616.17,233.04 616.85,223.68 617.53,243.13 618.20,244.54 618.88,250.78 619.56,249.15 620.23,249.00 620.91,250.13 621.59,249.76 622.26,247.33 622.94,243.69 623.62,247.06 624.29,242.09 624.97,243.24 625.64,244.73 626.32,241.47 627.00,240.10 627.67,241.82 628.35,244.54 629.03,240.75 629.70,243.88 630.38,241.73 631.06,247.12 631.73,245.29 632.41,247.73 633.09,250.18 633.76,249.29 634.44,249.84 635.12,252.39 635.79,254.75 636.47,253.59 637.14,258.29 637.82,255.57 638.50,256.92 639.17,255.16 639.85,256.85 640.53,258.09 641.20,258.56 641.88,259.28 642.56,261.95 643.23,257.39 643.91,259.33 644.59,261.06 645.26,262.87 645.94,258.59 646.62,260.56 647.29,263.87 647.97,260.93 648.65,259.10 649.32,262.76 650.00,262.24 650.67,263.87 651.35,264.46 652.03,261.69 652.70,258.40 653.38,263.79 654.06,264.42 654.73,263.02 655.41,265.15 656.09,263.56 656.76,263.60 657.44,267.03 658.12,267.34 658.79,265.80 659.47,264.43 660.15,265.61 660.82,263.95 661.50,268.54 662.18,265.29 662.85,267.26 663.53,266.02 664.21,265.65 664.88,267.92 665.56,266.65 666.23,268.30 666.91,265.82 667.59,267.79 668.26,267.18 668.94,265.96 669.62,267.50 670.29,264.37 670.97,267.51 671.65,264.93 672.32,265.94 673.00,268.26 673.68,266.85 674.35,267.95 675.03,267.14 675.71,267.00 676.38,263.37 677.06,267.29 677.74,263.85 678.41,265.82 679.09,268.90 679.76,270.67 680.44,265.48 681.12,270.15 681.79,265.44 682.47,264.92 683.15,266.05 683.82,267.12 684.50,267.21" fill="none" stroke="#e8373d" stroke-width="1.6" stroke-linejoin="round" />
</g>
<path d="M404.6,285.2 L404.6,194.6 L539.6,194.6" fill="none" stroke="#231f20" stroke-width="1.2"/>
<path d="M539.6,194.6 L539.6,285.2 L404.6,285.2" fill="none" stroke="#231f20" stroke-width="1.2"/>
<path d="M549.2,285.2 L549.2,195.3 L684.0,195.3" fill="none" stroke="#231f20" stroke-width="1.2"/>
<path d="M549.2,285.2 L685.0,285.2" fill="none" stroke="#231f20" stroke-width="1.2"/>
<rect x="683" y="194.70000000000002" width="2" height="91.09999999999998" fill="#505050"/>
<line x1="401.10" y1="285.20" x2="404.60" y2="285.20" stroke="#231f20" stroke-width="1.1" />
<text x="397.80" y="289.80" font-size="10.8" text-anchor="end" font-weight="normal" font-style="normal" fill="#231f20" >0.1</text>
<line x1="401.10" y1="262.55" x2="404.60" y2="262.55" stroke="#231f20" stroke-width="1.1" />
<text x="397.80" y="267.15" font-size="10.8" text-anchor="end" font-weight="normal" font-style="normal" fill="#231f20" >0.2</text>
<line x1="401.10" y1="239.90" x2="404.60" y2="239.90" stroke="#231f20" stroke-width="1.1" />
<text x="397.80" y="244.50" font-size="10.8" text-anchor="end" font-weight="normal" font-style="normal" fill="#231f20" >0.3</text>
<line x1="401.10" y1="217.25" x2="404.60" y2="217.25" stroke="#231f20" stroke-width="1.1" />
<text x="397.80" y="221.85" font-size="10.8" text-anchor="end" font-weight="normal" font-style="normal" fill="#231f20" >0.4</text>
<line x1="401.10" y1="194.60" x2="404.60" y2="194.60" stroke="#231f20" stroke-width="1.1" />
<text x="397.80" y="199.20" font-size="10.8" text-anchor="end" font-weight="normal" font-style="normal" fill="#231f20" >0.5</text>
<line x1="404.60" y1="285.20" x2="404.60" y2="289.20" stroke="#231f20" stroke-width="1.1" />
<line x1="431.60" y1="285.20" x2="431.60" y2="289.20" stroke="#231f20" stroke-width="1.1" />
<line x1="458.60" y1="285.20" x2="458.60" y2="289.20" stroke="#231f20" stroke-width="1.1" />
<line x1="485.60" y1="285.20" x2="485.60" y2="289.20" stroke="#231f20" stroke-width="1.1" />
<line x1="512.60" y1="285.20" x2="512.60" y2="289.20" stroke="#231f20" stroke-width="1.1" />
<line x1="539.60" y1="285.20" x2="539.60" y2="289.20" stroke="#231f20" stroke-width="1.1" />
<line x1="562.73" y1="285.20" x2="562.73" y2="289.20" stroke="#231f20" stroke-width="1.1" />
<line x1="589.79" y1="285.20" x2="589.79" y2="289.20" stroke="#231f20" stroke-width="1.1" />
<line x1="616.85" y1="285.20" x2="616.85" y2="289.20" stroke="#231f20" stroke-width="1.1" />
<line x1="643.91" y1="285.20" x2="643.91" y2="289.20" stroke="#231f20" stroke-width="1.1" />
<line x1="670.97" y1="285.20" x2="670.97" y2="289.20" stroke="#231f20" stroke-width="1.1" />
<text x="403.40" y="302.00" font-size="10.8" text-anchor="middle" font-weight="normal" font-style="normal" fill="#231f20" >-10</text>
<text x="430.40" y="302.00" font-size="10.8" text-anchor="middle" font-weight="normal" font-style="normal" fill="#231f20" >TSS</text>
<text x="457.40" y="302.00" font-size="10.8" text-anchor="middle" font-weight="normal" font-style="normal" fill="#231f20" >10</text>
<text x="484.40" y="302.00" font-size="10.8" text-anchor="middle" font-weight="normal" font-style="normal" fill="#231f20" >20</text>
<text x="511.40" y="302.00" font-size="10.8" text-anchor="middle" font-weight="normal" font-style="normal" fill="#231f20" >30</text>
<text x="538.40" y="302.00" font-size="10.8" text-anchor="middle" font-weight="normal" font-style="normal" fill="#231f20" >40</text>
<text x="561.53" y="302.00" font-size="10.8" text-anchor="middle" font-weight="normal" font-style="normal" fill="#231f20" >-20</text>
<text x="588.59" y="302.00" font-size="10.8" text-anchor="middle" font-weight="normal" font-style="normal" fill="#231f20" >-10</text>
<text x="615.65" y="302.00" font-size="10.8" text-anchor="middle" font-weight="normal" font-style="normal" fill="#231f20" >TES</text>
<text x="642.71" y="302.00" font-size="10.8" text-anchor="middle" font-weight="normal" font-style="normal" fill="#231f20" >10</text>
<text x="669.77" y="302.00" font-size="10.8" text-anchor="middle" font-weight="normal" font-style="normal" fill="#231f20" >20</text>
<text x="544.00" y="319.00" font-size="11" text-anchor="middle" font-weight="normal" font-style="normal" fill="#231f20" >Distance from TSS / TES (kb)</text>
<text x="545" y="185.3" font-size="11" font-weight="bold" text-anchor="middle" fill="#231f20"><tspan font-style="italic">UVSSA</tspan>-KO</text>
<text transform="translate(375.8,239.9) rotate(-90)" font-size="11" text-anchor="middle" fill="#231f20">RPKM</text>
<clipPath id="c355a"><rect x="403.6" y="355.4" width="136.0" height="91.0"/></clipPath>
<clipPath id="c355b"><rect x="549.2" y="355.5" width="134.79999999999995" height="90.89999999999998"/></clipPath>
<g clip-path="url(#c355a)">
<polyline points="403.60,437.14 404.28,437.49 404.96,437.64 405.64,437.53 406.32,436.56 407.00,437.69 407.68,437.06 408.36,438.02 409.04,437.75 409.72,438.17 410.40,437.42 411.08,436.87 411.76,437.11 412.44,437.61 413.12,436.92 413.80,437.52 414.48,437.07 415.16,437.13 415.84,436.96 416.52,438.86 417.20,438.12 417.88,436.81 418.56,437.37 419.24,435.89 419.92,437.45 420.60,437.65 421.28,436.36 421.96,436.95 422.64,436.11 423.32,436.98 424.00,437.43 424.68,436.84 425.36,437.80 426.04,437.58 426.72,437.65 427.40,437.44 428.08,436.81 428.76,426.88 429.44,415.65 430.12,405.44 430.80,393.84 431.48,396.13 432.16,394.53 432.84,394.29 433.52,402.88 434.20,411.31 434.88,421.56 435.56,430.64 436.24,433.55 436.92,434.70 437.60,436.15 438.28,437.68 438.96,438.09 439.64,438.24 440.32,437.80 441.00,438.26 441.68,436.05 442.36,438.98 443.04,437.24 443.72,438.28 444.40,438.14 445.08,437.41 445.76,437.99 446.44,438.76 447.12,437.74 447.80,438.13 448.48,439.30 449.16,437.89 449.84,438.68 450.52,438.49 451.20,437.73 451.88,437.85 452.56,438.22 453.24,436.68 453.92,437.78 454.60,438.44 455.28,437.91 455.96,438.14 456.64,439.45 457.32,439.06 458.00,438.95 458.68,436.78 459.36,438.20 460.04,438.26 460.72,438.44 461.40,437.48 462.08,438.08 462.76,437.03 463.44,437.61 464.12,437.08 464.80,438.19 465.48,437.89 466.16,438.40 466.84,438.24 467.52,439.22 468.20,438.50 468.88,438.74 469.56,438.56 470.24,437.39 470.92,437.99 471.60,437.39 472.28,437.63 472.96,437.59 473.64,437.54 474.32,438.56 475.00,437.68 475.68,438.39 476.36,438.52 477.04,437.45 477.72,436.84 478.40,438.82 479.08,437.12 479.76,437.69 480.44,438.75 481.12,438.05 481.80,437.99 482.48,438.00 483.16,438.46 483.84,439.05 484.52,438.22 485.20,437.71 485.88,437.76 486.56,437.84 487.24,437.57 487.92,438.89 488.60,438.30 489.28,438.06 489.96,437.65 490.64,438.19 491.32,437.96 492.00,438.21 492.68,436.98 493.36,439.67 494.04,438.32 494.72,436.76 495.40,438.17 496.08,439.47 496.76,438.24 497.44,439.23 498.12,438.76 498.80,438.20 499.48,437.27 500.16,438.06 500.84,437.93 501.52,437.72 502.20,438.23 502.88,438.90 503.56,438.43 504.24,438.16 504.92,438.55 505.60,438.80 506.28,438.61 506.96,439.33 507.64,439.03 508.32,438.45 509.00,438.63 509.68,438.38 510.36,437.53 511.04,438.23 511.72,438.44 512.40,439.16 513.08,439.10 513.76,438.20 514.44,438.98 515.12,438.17 515.80,439.12 516.48,438.37 517.16,438.50 517.84,437.84 518.52,438.71 519.20,438.70 519.88,438.32 520.56,438.44 521.24,437.42 521.92,438.65 522.60,438.83 523.28,438.69 523.96,438.20 524.64,438.36 525.32,438.07 526.00,439.38 526.68,436.97 527.36,437.37 528.04,438.54 528.72,439.29 529.40,438.44 530.08,438.28 530.76,439.94 531.44,438.54 532.12,439.48 532.80,438.27 533.48,437.70 534.16,437.92 534.84,439.51 535.52,437.71 536.20,438.01 536.88,438.81 537.56,438.27 538.24,437.64 538.92,438.80 539.60,438.61" fill="none" stroke="#b68bcb" stroke-width="1.3" stroke-linejoin="round" />
<polyline points="403.60,438.30 404.28,437.23 404.96,439.30 405.64,437.06 406.32,438.56 407.00,437.37 407.68,438.97 408.36,438.54 409.04,438.32 409.72,437.43 410.40,438.96 411.08,437.57 411.76,438.35 412.44,437.17 413.12,438.14 413.80,437.65 414.48,438.06 415.16,436.83 415.84,438.18 416.52,437.97 417.20,436.71 417.88,437.90 418.56,437.52 419.24,438.41 419.92,437.83 420.60,439.37 421.28,437.88 421.96,438.35 422.64,438.89 423.32,438.84 424.00,437.24 424.68,437.68 425.36,438.90 426.04,436.82 426.72,438.39 427.40,438.18 428.08,437.80 428.76,422.90 429.44,407.44 430.12,391.13 430.80,374.16 431.48,374.30 432.16,375.89 432.84,376.99 433.52,391.94 434.20,405.87 434.88,420.37 435.56,424.37 436.24,429.48 436.92,433.64 437.60,437.74 438.28,437.54 438.96,436.93 439.64,438.09 440.32,436.34 441.00,437.74 441.68,437.72 442.36,436.92 443.04,437.10 443.72,437.59 444.40,438.06 445.08,438.02 445.76,438.40 446.44,436.70 447.12,436.74 447.80,436.26 448.48,437.13 449.16,437.24 449.84,436.98 450.52,436.87 451.20,437.64 451.88,437.26 452.56,436.14 453.24,438.56 453.92,438.39 454.60,438.12 455.28,437.05 455.96,436.79 456.64,437.75 457.32,437.13 458.00,437.59 458.68,437.38 459.36,437.92 460.04,437.60 460.72,437.60 461.40,436.90 462.08,436.22 462.76,438.76 463.44,437.30 464.12,437.64 464.80,437.04 465.48,436.99 466.16,437.18 466.84,437.17 467.52,438.28 468.20,438.76 468.88,436.65 469.56,436.95 470.24,438.31 470.92,436.92 471.60,437.32 472.28,439.28 472.96,437.19 473.64,438.38 474.32,437.04 475.00,438.20 475.68,438.25 476.36,438.76 477.04,437.94 477.72,437.17 478.40,438.24 479.08,438.99 479.76,436.49 480.44,436.69 481.12,437.42 481.80,438.20 482.48,438.63 483.16,438.91 483.84,437.54 484.52,437.08 485.20,438.57 485.88,437.92 486.56,438.10 487.24,438.09 487.92,437.63 488.60,436.64 489.28,438.36 489.96,437.44 490.64,437.29 491.32,438.16 492.00,438.09 492.68,438.84 493.36,437.34 494.04,438.35 494.72,438.44 495.40,437.99 496.08,438.58 496.76,438.71 497.44,438.25 498.12,437.14 498.80,438.21 499.48,437.76 500.16,439.02 500.84,439.33 501.52,436.98 502.20,438.37 502.88,439.10 503.56,438.21 504.24,437.77 504.92,439.24 505.60,438.72 506.28,438.01 506.96,438.76 507.64,437.69 508.32,437.60 509.00,437.93 509.68,438.49 510.36,438.26 511.04,438.63 511.72,438.33 512.40,438.05 513.08,438.45 513.76,437.66 514.44,436.65 515.12,438.63 515.80,438.08 516.48,437.79 517.16,437.91 517.84,438.47 518.52,438.63 519.20,437.71 519.88,437.96 520.56,438.04 521.24,438.87 521.92,437.98 522.60,437.88 523.28,438.51 523.96,438.00 524.64,437.05 525.32,439.60 526.00,438.05 526.68,439.17 527.36,439.30 528.04,438.60 528.72,438.12 529.40,438.44 530.08,439.21 530.76,439.39 531.44,438.85 532.12,438.50 532.80,439.03 533.48,439.47 534.16,437.43 534.84,439.07 535.52,438.65 536.20,438.90 536.88,438.93 537.56,438.55 538.24,438.77 538.92,438.20 539.60,439.34" fill="none" stroke="#f3a7aa" stroke-width="1.3" stroke-linejoin="round" />
<polyline points="403.60,439.92 404.28,433.87 404.96,437.45 405.64,435.97 406.32,435.25 407.00,436.36 407.68,437.28 408.36,440.09 409.04,440.18 409.72,435.65 410.40,436.18 411.08,436.38 411.76,440.31 412.44,441.16 413.12,439.27 413.80,439.50 414.48,437.14 415.16,439.23 415.84,434.65 416.52,438.54 417.20,438.44 417.88,435.94 418.56,436.89 419.24,439.06 419.92,436.03 420.60,434.10 421.28,439.66 421.96,437.94 422.64,439.41 423.32,440.95 424.00,436.42 424.68,436.31 425.36,435.82 426.04,436.80 426.72,441.12 427.40,431.69 428.08,426.91 428.76,421.89 429.44,415.85 430.12,383.30 430.80,355.92 431.48,351.93 432.16,354.57 432.84,358.77 433.52,364.96 434.20,378.26 434.88,394.34 435.56,399.58 436.24,397.34 436.92,405.82 437.60,406.68 438.28,412.94 438.96,414.82 439.64,415.93 440.32,411.32 441.00,411.49 441.68,414.62 442.36,416.02 443.04,413.45 443.72,412.40 444.40,415.49 445.08,414.56 445.76,412.42 446.44,410.71 447.12,411.55 447.80,410.60 448.48,413.34 449.16,415.26 449.84,410.01 450.52,411.92 451.20,410.23 451.88,410.40 452.56,408.60 453.24,410.55 453.92,406.34 454.60,408.57 455.28,407.41 455.96,406.95 456.64,405.95 457.32,407.00 458.00,410.74 458.68,408.68 459.36,404.18 460.04,406.57 460.72,406.33 461.40,406.42 462.08,408.32 462.76,408.30 463.44,408.17 464.12,404.88 464.80,406.22 465.48,403.62 466.16,405.83 466.84,403.27 467.52,405.75 468.20,408.59 468.88,403.31 469.56,405.73 470.24,404.13 470.92,405.79 471.60,406.68 472.28,405.78 472.96,408.07 473.64,408.19 474.32,407.63 475.00,406.97 475.68,408.44 476.36,406.19 477.04,405.45 477.72,402.36 478.40,402.68 479.08,406.05 479.76,404.36 480.44,406.32 481.12,405.22 481.80,405.97 482.48,406.86 483.16,405.74 483.84,408.51 484.52,405.07 485.20,406.36 485.88,407.76 486.56,406.46 487.24,404.81 487.92,407.00 488.60,404.92 489.28,404.74 489.96,402.96 490.64,407.68 491.32,405.92 492.00,404.79 492.68,403.01 493.36,405.21 494.04,404.32 494.72,408.29 495.40,406.69 496.08,402.66 496.76,406.13 497.44,401.73 498.12,406.90 498.80,406.08 499.48,408.43 500.16,404.41 500.84,405.07 501.52,401.91 502.20,405.22 502.88,405.95 503.56,408.02 504.24,405.62 504.92,403.76 505.60,404.12 506.28,403.23 506.96,403.87 507.64,405.49 508.32,404.31 509.00,405.08 509.68,407.77 510.36,402.28 511.04,404.67 511.72,407.22 512.40,404.63 513.08,404.79 513.76,403.50 514.44,402.68 515.12,410.74 515.80,404.26 516.48,402.49 517.16,406.93 517.84,408.56 518.52,404.70 519.20,404.59 519.88,404.55 520.56,407.16 521.24,405.99 521.92,404.79 522.60,403.78 523.28,401.16 523.96,404.57 524.64,406.17 525.32,409.32 526.00,403.12 526.68,405.28 527.36,405.23 528.04,406.80 528.72,403.68 529.40,408.23 530.08,404.79 530.76,404.75 531.44,404.41 532.12,402.59 532.80,405.11 533.48,404.75 534.16,403.36 534.84,407.69 535.52,405.41 536.20,404.74 536.88,403.13 537.56,406.28 538.24,403.37 538.92,404.12 539.60,407.49" fill="none" stroke="#6d2e91" stroke-width="1.6" stroke-linejoin="round" />
<polyline points="403.60,440.36 404.28,440.29 404.96,437.45 405.64,437.34 406.32,436.41 407.00,436.24 407.68,438.73 408.36,435.81 409.04,436.27 409.72,436.91 410.40,436.90 411.08,440.10 411.76,437.13 412.44,439.66 413.12,439.95 413.80,438.44 414.48,437.56 415.16,437.92 415.84,438.42 416.52,439.64 417.20,437.51 417.88,439.19 418.56,440.41 419.24,437.70 419.92,435.24 420.60,438.61 421.28,439.81 421.96,435.39 422.64,434.81 423.32,438.44 424.00,438.30 424.68,437.54 425.36,432.59 426.04,437.70 426.72,436.15 427.40,432.76 428.08,432.47 428.76,426.78 429.44,422.63 430.12,387.12 430.80,355.21 431.48,352.16 432.16,355.89 432.84,354.84 433.52,366.41 434.20,380.22 434.88,390.20 435.56,397.13 436.24,398.23 436.92,401.80 437.60,405.25 438.28,402.09 438.96,403.22 439.64,401.51 440.32,400.61 441.00,399.78 441.68,399.58 442.36,394.83 443.04,397.05 443.72,394.21 444.40,391.35 445.08,392.45 445.76,390.91 446.44,389.44 447.12,389.18 447.80,387.22 448.48,392.12 449.16,385.16 449.84,387.85 450.52,390.75 451.20,388.41 451.88,389.46 452.56,386.64 453.24,388.98 453.92,387.78 454.60,385.09 455.28,385.02 455.96,386.88 456.64,385.99 457.32,385.87 458.00,385.68 458.68,385.96 459.36,386.48 460.04,384.61 460.72,389.26 461.40,387.37 462.08,386.36 462.76,387.46 463.44,387.86 464.12,387.78 464.80,386.74 465.48,384.99 466.16,387.72 466.84,388.00 467.52,386.99 468.20,388.21 468.88,391.42 469.56,387.55 470.24,388.86 470.92,389.36 471.60,387.31 472.28,388.52 472.96,389.76 473.64,392.83 474.32,392.14 475.00,389.13 475.68,389.51 476.36,388.64 477.04,389.17 477.72,390.58 478.40,392.15 479.08,391.98 479.76,390.38 480.44,392.36 481.12,389.03 481.80,392.96 482.48,393.94 483.16,391.18 483.84,394.19 484.52,388.14 485.20,393.05 485.88,391.48 486.56,391.97 487.24,393.15 487.92,395.02 488.60,395.15 489.28,390.15 489.96,389.83 490.64,387.72 491.32,394.28 492.00,390.56 492.68,391.57 493.36,389.97 494.04,392.41 494.72,390.13 495.40,389.77 496.08,390.26 496.76,388.70 497.44,391.61 498.12,388.45 498.80,392.50 499.48,388.15 500.16,396.15 500.84,391.09 501.52,392.53 502.20,391.04 502.88,389.13 503.56,389.66 504.24,390.76 504.92,387.80 505.60,393.55 506.28,392.31 506.96,388.04 507.64,390.16 508.32,394.49 509.00,390.06 509.68,392.80 510.36,387.92 511.04,388.49 511.72,391.53 512.40,388.15 513.08,392.02 513.76,388.83 514.44,389.45 515.12,390.73 515.80,393.09 516.48,391.01 517.16,394.67 517.84,391.53 518.52,393.87 519.20,388.29 519.88,392.26 520.56,394.93 521.24,389.44 521.92,389.83 522.60,391.42 523.28,386.65 523.96,389.09 524.64,390.38 525.32,391.67 526.00,395.88 526.68,389.63 527.36,388.75 528.04,391.58 528.72,393.07 529.40,390.58 530.08,393.54 530.76,390.49 531.44,389.10 532.12,387.75 532.80,390.02 533.48,390.14 534.16,389.14 534.84,387.95 535.52,391.08 536.20,392.74 536.88,391.94 537.56,392.79 538.24,392.12 538.92,390.72 539.60,389.88" fill="none" stroke="#e8373d" stroke-width="1.6" stroke-linejoin="round" />
</g>
<g clip-path="url(#c355b)">
<polyline points="549.20,437.21 549.88,437.25 550.55,437.52 551.23,437.00 551.91,436.69 552.58,436.76 553.26,436.27 553.94,437.42 554.61,437.39 555.29,436.11 555.97,437.07 556.64,436.92 557.32,437.40 557.99,436.54 558.67,437.42 559.35,437.80 560.02,437.18 560.70,437.41 561.38,436.57 562.05,437.35 562.73,437.01 563.41,437.22 564.08,436.85 564.76,437.47 565.44,436.33 566.11,437.96 566.79,437.28 567.47,437.48 568.14,436.59 568.82,436.97 569.50,436.67 570.17,437.19 570.85,437.43 571.52,437.68 572.20,437.16 572.88,437.28 573.55,436.74 574.23,436.68 574.91,436.26 575.58,436.96 576.26,437.36 576.94,437.56 577.61,436.82 578.29,436.61 578.97,435.57 579.64,436.70 580.32,435.67 581.00,435.59 581.67,437.47 582.35,435.99 583.03,436.03 583.70,435.88 584.38,436.75 585.05,436.12 585.73,437.04 586.41,436.76 587.08,436.69 587.76,435.54 588.44,436.82 589.11,436.05 589.79,436.62 590.47,437.07 591.14,436.39 591.82,436.07 592.50,436.91 593.17,435.98 593.85,436.80 594.53,436.85 595.20,436.08 595.88,436.33 596.56,436.76 597.23,437.12 597.91,436.00 598.58,435.80 599.26,436.20 599.94,435.73 600.61,436.79 601.29,435.49 601.97,435.42 602.64,435.45 603.32,435.98 604.00,435.47 604.67,435.39 605.35,434.72 606.03,435.18 606.70,435.14 607.38,435.72 608.06,434.64 608.73,434.38 609.41,435.41 610.09,434.62 610.76,434.78 611.44,434.96 612.11,435.71 612.79,433.68 613.47,435.98 614.14,434.52 614.82,434.79 615.50,433.65 616.17,434.50 616.85,434.04 617.53,433.57 618.20,433.56 618.88,434.10 619.56,433.22 620.23,433.30 620.91,432.81 621.59,433.68 622.26,433.28 622.94,433.40 623.62,433.59 624.29,432.78 624.97,432.58 625.64,431.82 626.32,432.85 627.00,432.29 627.67,431.70 628.35,432.41 629.03,432.20 629.70,432.05 630.38,432.48 631.06,432.57 631.73,431.11 632.41,431.62 633.09,431.68 633.76,432.33 634.44,431.35 635.12,430.56 635.79,431.97 636.47,431.70 637.14,430.30 637.82,429.99 638.50,429.81 639.17,431.18 639.85,430.45 640.53,431.33 641.20,430.52 641.88,431.10 642.56,430.75 643.23,430.02 643.91,430.67 644.59,431.06 645.26,430.88 645.94,430.75 646.62,431.26 647.29,430.81 647.97,430.56 648.65,429.95 649.32,432.30 650.00,431.75 650.67,431.79 651.35,430.43 652.03,429.43 652.70,430.89 653.38,430.95 654.06,430.30 654.73,432.62 655.41,431.17 656.09,433.08 656.76,430.98 657.44,431.41 658.12,431.41 658.79,430.88 659.47,431.49 660.15,430.41 660.82,431.13 661.50,430.90 662.18,429.51 662.85,431.45 663.53,430.57 664.21,431.71 664.88,430.39 665.56,430.58 666.23,431.12 666.91,430.58 667.59,430.19 668.26,430.35 668.94,431.25 669.62,431.29 670.29,430.55 670.97,432.22 671.65,431.67 672.32,430.98 673.00,430.94 673.68,430.12 674.35,430.19 675.03,431.12 675.71,431.06 676.38,432.20 677.06,431.48 677.74,431.20 678.41,431.53 679.09,431.35 679.76,431.01 680.44,432.02 681.12,431.78 681.79,432.57 682.47,430.70 683.15,432.13 683.82,432.55 684.50,430.97" fill="none" stroke="#b68bcb" stroke-width="1.3" stroke-linejoin="round" />
<polyline points="549.20,438.10 549.88,437.32 550.55,438.15 551.23,436.53 551.91,437.41 552.58,437.75 553.26,437.76 553.94,437.94 554.61,437.27 555.29,436.48 555.97,438.01 556.64,438.42 557.32,437.32 557.99,436.99 558.67,438.61 559.35,438.08 560.02,438.25 560.70,437.23 561.38,437.25 562.05,438.02 562.73,438.25 563.41,437.07 564.08,438.80 564.76,437.05 565.44,437.54 566.11,436.19 566.79,436.76 567.47,437.75 568.14,437.53 568.82,437.51 569.50,437.78 570.17,437.24 570.85,436.65 571.52,438.21 572.20,437.37 572.88,436.25 573.55,436.70 574.23,437.68 574.91,437.65 575.58,437.66 576.26,438.12 576.94,436.34 577.61,437.01 578.29,437.48 578.97,437.92 579.64,437.23 580.32,437.29 581.00,435.84 581.67,437.21 582.35,436.82 583.03,436.19 583.70,436.43 584.38,436.95 585.05,438.21 585.73,435.89 586.41,436.39 587.08,437.02 587.76,436.78 588.44,437.31 589.11,437.26 589.79,437.61 590.47,436.25 591.14,436.15 591.82,436.28 592.50,435.80 593.17,435.87 593.85,436.04 594.53,436.59 595.20,435.56 595.88,435.09 596.56,435.36 597.23,434.87 597.91,435.88 598.58,436.11 599.26,434.60 599.94,435.68 600.61,435.06 601.29,435.25 601.97,435.02 602.64,435.12 603.32,435.20 604.00,435.90 604.67,433.46 605.35,434.46 606.03,435.72 606.70,434.98 607.38,435.03 608.06,434.70 608.73,435.76 609.41,433.68 610.09,432.91 610.76,434.02 611.44,433.30 612.11,433.30 612.79,434.39 613.47,432.73 614.14,434.49 614.82,433.46 615.50,432.99 616.17,431.64 616.85,432.04 617.53,432.06 618.20,432.37 618.88,431.67 619.56,431.57 620.23,431.00 620.91,430.45 621.59,430.74 622.26,431.07 622.94,431.04 623.62,429.80 624.29,430.56 624.97,430.57 625.64,429.29 626.32,429.30 627.00,429.81 627.67,430.11 628.35,430.31 629.03,429.10 629.70,429.94 630.38,428.91 631.06,430.11 631.73,429.65 632.41,429.55 633.09,429.82 633.76,429.86 634.44,429.86 635.12,430.91 635.79,431.00 636.47,430.49 637.14,429.35 637.82,430.67 638.50,431.28 639.17,431.20 639.85,430.86 640.53,430.23 641.20,431.44 641.88,430.82 642.56,431.15 643.23,431.59 643.91,432.07 644.59,431.57 645.26,431.95 645.94,431.16 646.62,432.63 647.29,430.80 647.97,431.05 648.65,431.17 649.32,430.60 650.00,431.18 650.67,432.66 651.35,431.55 652.03,431.31 652.70,432.04 653.38,432.33 654.06,431.35 654.73,431.32 655.41,431.92 656.09,431.81 656.76,431.99 657.44,432.04 658.12,431.73 658.79,431.02 659.47,432.74 660.15,431.94 660.82,430.71 661.50,431.55 662.18,431.66 662.85,431.24 663.53,432.42 664.21,432.56 664.88,432.85 665.56,432.74 666.23,431.67 666.91,431.30 667.59,432.11 668.26,432.29 668.94,431.61 669.62,431.49 670.29,431.73 670.97,433.10 671.65,432.25 672.32,433.52 673.00,431.78 673.68,432.48 674.35,432.37 675.03,431.01 675.71,431.14 676.38,431.68 677.06,431.82 677.74,431.90 678.41,432.39 679.09,432.06 679.76,430.83 680.44,432.60 681.12,432.48 681.79,431.97 682.47,431.52 683.15,431.57 683.82,432.72 684.50,432.20" fill="none" stroke="#f3a7aa" stroke-width="1.3" stroke-linejoin="round" />
<polyline points="549.20,402.72 549.88,404.40 550.55,402.04 551.23,402.99 551.91,400.48 552.58,401.31 553.26,403.42 553.94,401.86 554.61,402.60 555.29,403.05 555.97,402.76 556.64,399.98 557.32,402.56 557.99,404.82 558.67,403.13 559.35,400.29 560.02,397.88 560.70,403.51 561.38,402.24 562.05,402.16 562.73,404.03 563.41,400.80 564.08,401.56 564.76,400.95 565.44,397.45 566.11,401.84 566.79,399.93 567.47,399.82 568.14,402.39 568.82,402.28 569.50,398.44 570.17,399.89 570.85,400.87 571.52,403.02 572.20,399.49 572.88,400.08 573.55,397.10 574.23,398.34 574.91,399.49 575.58,400.40 576.26,400.73 576.94,401.78 577.61,400.23 578.29,400.30 578.97,399.55 579.64,398.75 580.32,400.08 581.00,401.55 581.67,399.13 582.35,397.78 583.03,401.97 583.70,399.71 584.38,399.45 585.05,399.44 585.73,399.46 586.41,400.47 587.08,400.46 587.76,397.26 588.44,397.15 589.11,402.65 589.79,404.62 590.47,399.33 591.14,401.26 591.82,400.95 592.50,402.81 593.17,399.34 593.85,400.02 594.53,400.85 595.20,398.27 595.88,395.52 596.56,397.18 597.23,397.68 597.91,400.44 598.58,398.52 599.26,399.71 599.94,397.57 600.61,398.55 601.29,399.60 601.97,398.53 602.64,400.74 603.32,398.03 604.00,396.74 604.67,400.00 605.35,398.35 606.03,402.24 606.70,397.60 607.38,397.67 608.06,400.99 608.73,396.07 609.41,398.92 610.09,402.14 610.76,401.47 611.44,397.47 612.11,399.46 612.79,396.99 613.47,401.65 614.14,399.05 614.82,397.00 615.50,399.78 616.17,397.24 616.85,401.26 617.53,405.70 618.20,411.32 618.88,413.52 619.56,425.21 620.23,421.32 620.91,420.06 621.59,424.04 622.26,421.58 622.94,417.32 623.62,419.22 624.29,425.99 624.97,420.85 625.64,421.99 626.32,416.97 627.00,417.33 627.67,415.58 628.35,414.60 629.03,411.14 629.70,411.03 630.38,410.34 631.06,407.68 631.73,405.10 632.41,405.87 633.09,400.94 633.76,405.83 634.44,402.18 635.12,403.58 635.79,400.12 636.47,404.03 637.14,404.07 637.82,406.31 638.50,401.47 639.17,404.92 639.85,408.97 640.53,408.68 641.20,410.82 641.88,407.48 642.56,410.47 643.23,415.84 643.91,412.92 644.59,412.14 645.26,414.22 645.94,413.86 646.62,415.36 647.29,415.26 647.97,415.72 648.65,417.82 649.32,416.42 650.00,417.21 650.67,418.04 651.35,419.65 652.03,420.70 652.70,418.95 653.38,418.39 654.06,424.59 654.73,421.73 655.41,418.87 656.09,420.11 656.76,423.17 657.44,419.71 658.12,424.03 658.79,423.86 659.47,419.23 660.15,423.61 660.82,423.41 661.50,426.13 662.18,425.18 662.85,425.66 663.53,424.01 664.21,427.20 664.88,422.26 665.56,424.95 666.23,425.49 666.91,425.63 667.59,423.29 668.26,421.98 668.94,425.51 669.62,422.03 670.29,422.13 670.97,422.69 671.65,424.63 672.32,427.89 673.00,424.15 673.68,426.16 674.35,425.19 675.03,428.95 675.71,426.22 676.38,425.40 677.06,427.56 677.74,425.47 678.41,423.13 679.09,425.77 679.76,427.48 680.44,422.15 681.12,430.27 681.79,428.18 682.47,425.92 683.15,427.78 683.82,430.89 684.50,426.46" fill="none" stroke="#6d2e91" stroke-width="1.6" stroke-linejoin="round" />
<polyline points="549.20,390.26 549.88,393.17 550.55,389.20 551.23,390.94 551.91,389.75 552.58,394.59 553.26,391.93 553.94,389.13 554.61,388.42 555.29,389.69 555.97,392.06 556.64,391.76 557.32,393.23 557.99,390.21 558.67,393.42 559.35,392.00 560.02,395.90 560.70,394.95 561.38,389.16 562.05,392.24 562.73,392.00 563.41,396.30 564.08,392.50 564.76,388.81 565.44,395.16 566.11,396.75 566.79,392.86 567.47,393.55 568.14,393.01 568.82,394.90 569.50,395.11 570.17,394.93 570.85,391.63 571.52,392.89 572.20,391.38 572.88,394.78 573.55,391.85 574.23,393.72 574.91,392.81 575.58,391.34 576.26,392.97 576.94,393.68 577.61,396.05 578.29,393.01 578.97,391.77 579.64,394.31 580.32,393.34 581.00,396.40 581.67,395.66 582.35,392.60 583.03,391.05 583.70,393.94 584.38,396.39 585.05,394.13 585.73,396.27 586.41,394.01 587.08,390.11 587.76,393.05 588.44,393.88 589.11,391.80 589.79,394.35 590.47,393.12 591.14,393.39 591.82,392.98 592.50,396.43 593.17,392.57 593.85,392.30 594.53,397.97 595.20,398.77 595.88,395.57 596.56,391.34 597.23,394.00 597.91,392.86 598.58,393.11 599.26,392.55 599.94,395.30 600.61,395.24 601.29,393.56 601.97,393.18 602.64,393.27 603.32,393.72 604.00,395.23 604.67,392.42 605.35,393.58 606.03,392.56 606.70,399.03 607.38,392.72 608.06,398.91 608.73,394.21 609.41,395.81 610.09,394.44 610.76,395.54 611.44,395.27 612.11,394.40 612.79,394.16 613.47,396.24 614.14,399.37 614.82,396.13 615.50,393.66 616.17,396.03 616.85,387.20 617.53,399.45 618.20,403.20 618.88,400.11 619.56,399.93 620.23,403.02 620.91,402.86 621.59,400.99 622.26,405.02 622.94,404.14 623.62,400.48 624.29,400.83 624.97,403.26 625.64,403.71 626.32,401.62 627.00,405.89 627.67,405.37 628.35,406.00 629.03,411.12 629.70,406.75 630.38,407.55 631.06,408.12 631.73,413.74 632.41,414.57 633.09,414.84 633.76,416.84 634.44,411.91 635.12,418.48 635.79,418.39 636.47,418.16 637.14,418.42 637.82,417.33 638.50,422.60 639.17,419.76 639.85,421.78 640.53,424.87 641.20,423.19 641.88,426.69 642.56,421.94 643.23,426.88 643.91,424.46 644.59,424.09 645.26,427.71 645.94,428.38 646.62,426.69 647.29,428.97 647.97,425.62 648.65,427.09 649.32,428.95 650.00,428.97 650.67,426.59 651.35,430.67 652.03,425.17 652.70,429.64 653.38,428.57 654.06,429.89 654.73,425.29 655.41,426.73 656.09,425.87 656.76,427.04 657.44,428.06 658.12,425.16 658.79,427.02 659.47,427.43 660.15,427.18 660.82,426.89 661.50,427.72 662.18,428.52 662.85,431.11 663.53,424.50 664.21,430.57 664.88,432.12 665.56,429.51 666.23,424.72 666.91,426.01 667.59,429.31 668.26,427.74 668.94,428.26 669.62,431.82 670.29,428.83 670.97,427.69 671.65,426.10 672.32,430.40 673.00,432.31 673.68,431.07 674.35,427.62 675.03,428.07 675.71,427.95 676.38,427.95 677.06,428.88 677.74,430.70 678.41,427.40 679.09,427.52 679.76,427.17 680.44,425.96 681.12,430.47 681.79,432.47 682.47,431.46 683.15,424.34 683.82,429.88 684.50,427.50" fill="none" stroke="#e8373d" stroke-width="1.6" stroke-linejoin="round" />
</g>
<path d="M403.6,446.4 L403.6,355.4 L539.6,355.4" fill="none" stroke="#231f20" stroke-width="1.2"/>
<path d="M539.6,355.4 L539.6,446.4 L403.6,446.4" fill="none" stroke="#231f20" stroke-width="1.2"/>
<path d="M549.2,446.4 L549.2,355.5 L684.0,355.5" fill="none" stroke="#231f20" stroke-width="1.2"/>
<path d="M549.2,446.4 L685.0,446.4" fill="none" stroke="#231f20" stroke-width="1.2"/>
<rect x="683" y="354.9" width="2" height="92.09999999999998" fill="#505050"/>
<line x1="400.10" y1="446.40" x2="403.60" y2="446.40" stroke="#231f20" stroke-width="1.1" />
<text x="396.80" y="451.00" font-size="10.8" text-anchor="end" font-weight="normal" font-style="normal" fill="#231f20" >0.1</text>
<line x1="400.10" y1="433.40" x2="403.60" y2="433.40" stroke="#231f20" stroke-width="1.1" />
<text x="396.80" y="438.00" font-size="10.8" text-anchor="end" font-weight="normal" font-style="normal" fill="#231f20" >0.2</text>
<line x1="400.10" y1="420.40" x2="403.60" y2="420.40" stroke="#231f20" stroke-width="1.1" />
<text x="396.80" y="425.00" font-size="10.8" text-anchor="end" font-weight="normal" font-style="normal" fill="#231f20" >0.3</text>
<line x1="400.10" y1="407.40" x2="403.60" y2="407.40" stroke="#231f20" stroke-width="1.1" />
<text x="396.80" y="412.00" font-size="10.8" text-anchor="end" font-weight="normal" font-style="normal" fill="#231f20" >0.4</text>
<line x1="400.10" y1="394.40" x2="403.60" y2="394.40" stroke="#231f20" stroke-width="1.1" />
<text x="396.80" y="399.00" font-size="10.8" text-anchor="end" font-weight="normal" font-style="normal" fill="#231f20" >0.5</text>
<line x1="400.10" y1="381.40" x2="403.60" y2="381.40" stroke="#231f20" stroke-width="1.1" />
<text x="396.80" y="386.00" font-size="10.8" text-anchor="end" font-weight="normal" font-style="normal" fill="#231f20" >0.6</text>
<line x1="400.10" y1="368.40" x2="403.60" y2="368.40" stroke="#231f20" stroke-width="1.1" />
<text x="396.80" y="373.00" font-size="10.8" text-anchor="end" font-weight="normal" font-style="normal" fill="#231f20" >0.7</text>
<line x1="400.10" y1="355.40" x2="403.60" y2="355.40" stroke="#231f20" stroke-width="1.1" />
<text x="396.80" y="360.00" font-size="10.8" text-anchor="end" font-weight="normal" font-style="normal" fill="#231f20" >0.8</text>
<line x1="403.60" y1="446.40" x2="403.60" y2="450.40" stroke="#231f20" stroke-width="1.1" />
<line x1="430.80" y1="446.40" x2="430.80" y2="450.40" stroke="#231f20" stroke-width="1.1" />
<line x1="458.00" y1="446.40" x2="458.00" y2="450.40" stroke="#231f20" stroke-width="1.1" />
<line x1="485.20" y1="446.40" x2="485.20" y2="450.40" stroke="#231f20" stroke-width="1.1" />
<line x1="512.40" y1="446.40" x2="512.40" y2="450.40" stroke="#231f20" stroke-width="1.1" />
<line x1="539.60" y1="446.40" x2="539.60" y2="450.40" stroke="#231f20" stroke-width="1.1" />
<line x1="562.73" y1="446.40" x2="562.73" y2="450.40" stroke="#231f20" stroke-width="1.1" />
<line x1="589.79" y1="446.40" x2="589.79" y2="450.40" stroke="#231f20" stroke-width="1.1" />
<line x1="616.85" y1="446.40" x2="616.85" y2="450.40" stroke="#231f20" stroke-width="1.1" />
<line x1="643.91" y1="446.40" x2="643.91" y2="450.40" stroke="#231f20" stroke-width="1.1" />
<line x1="670.97" y1="446.40" x2="670.97" y2="450.40" stroke="#231f20" stroke-width="1.1" />
<text x="402.40" y="462.60" font-size="10.8" text-anchor="middle" font-weight="normal" font-style="normal" fill="#231f20" >-10</text>
<text x="429.60" y="462.60" font-size="10.8" text-anchor="middle" font-weight="normal" font-style="normal" fill="#231f20" >TSS</text>
<text x="456.80" y="462.60" font-size="10.8" text-anchor="middle" font-weight="normal" font-style="normal" fill="#231f20" >10</text>
<text x="484.00" y="462.60" font-size="10.8" text-anchor="middle" font-weight="normal" font-style="normal" fill="#231f20" >20</text>
<text x="511.20" y="462.60" font-size="10.8" text-anchor="middle" font-weight="normal" font-style="normal" fill="#231f20" >30</text>
<text x="538.40" y="462.60" font-size="10.8" text-anchor="middle" font-weight="normal" font-style="normal" fill="#231f20" >40</text>
<text x="561.53" y="462.60" font-size="10.8" text-anchor="middle" font-weight="normal" font-style="normal" fill="#231f20" >-20</text>
<text x="588.59" y="462.60" font-size="10.8" text-anchor="middle" font-weight="normal" font-style="normal" fill="#231f20" >-10</text>
<text x="615.65" y="462.60" font-size="10.8" text-anchor="middle" font-weight="normal" font-style="normal" fill="#231f20" >TES</text>
<text x="642.71" y="462.60" font-size="10.8" text-anchor="middle" font-weight="normal" font-style="normal" fill="#231f20" >10</text>
<text x="669.77" y="462.60" font-size="10.8" text-anchor="middle" font-weight="normal" font-style="normal" fill="#231f20" >20</text>
<text x="544.00" y="479.30" font-size="11" text-anchor="middle" font-weight="normal" font-style="normal" fill="#231f20" >Distance from TSS /TES (kb)</text>
<text x="543.3" y="346" font-size="11" font-weight="bold" text-anchor="middle" fill="#231f20">Ctrl +CRLi</text>
<text transform="translate(375.8,400.9) rotate(-90)" font-size="11" text-anchor="middle" fill="#231f20">RPKM</text>
<line x1="401.20" y1="504.30" x2="412.90" y2="504.30" stroke="#e8373d" stroke-width="3" />
<text x="416.60" y="507.60" font-size="10.5" text-anchor="start" font-weight="normal" font-style="normal" fill="#231f20" >0.5 h TS</text>
<line x1="470.70" y1="504.30" x2="482.40" y2="504.30" stroke="#f3a7aa" stroke-width="3" />
<text x="486.00" y="507.60" font-size="10.5" text-anchor="start" font-weight="normal" font-style="normal" fill="#231f20" >0.5 h NTS</text>
<line x1="548.00" y1="504.30" x2="560.00" y2="504.30" stroke="#6d2e91" stroke-width="3" />
<text x="563.80" y="507.60" font-size="10.5" text-anchor="start" font-weight="normal" font-style="normal" fill="#231f20" >2.0 h TS</text>
<line x1="617.50" y1="504.30" x2="629.40" y2="504.30" stroke="#b68bcb" stroke-width="3" />
<text x="633.30" y="507.60" font-size="10.5" text-anchor="start" font-weight="normal" font-style="normal" fill="#231f20" >2.0 h NTS</text>
<text x="0.00" y="12.80" font-size="22" text-anchor="start" font-weight="bold" font-style="normal" fill="#000" >a</text>
<defs><radialGradient id="polg" cx="0.4" cy="0.35" r="0.7"><stop offset="0" stop-color="#9fd0f0"/><stop offset="0.5" stop-color="#4a9ad6"/><stop offset="1" stop-color="#2a73b5"/></radialGradient><radialGradient id="greeng" cx="0.45" cy="0.3" r="0.75"><stop offset="0" stop-color="#cfe8d8"/><stop offset="0.35" stop-color="#4f9c70"/><stop offset="1" stop-color="#1b6a40"/></radialGradient><radialGradient id="nucg" cx="0.5" cy="0.5" r="0.5"><stop offset="0" stop-color="#fdfcfa"/><stop offset="0.75" stop-color="#f7f5f0"/><stop offset="0.92" stop-color="#ece6da"/><stop offset="1" stop-color="#e2d9c8"/></radialGradient><linearGradient id="cellg" x1="0" y1="0" x2="0" y2="1"><stop offset="0" stop-color="#eee9df"/><stop offset="1" stop-color="#e7e0d2"/></linearGradient></defs>
<g transform="translate(78.80,31.00)">
<path d="M0,0 Q41,-34.5 92,-18 Q51,16.5 0,0 Z" fill="url(#cellg)" stroke="#fff" stroke-width="1.2"/>
<path d="M0,0 Q41,-34.5 92,-18 Q51,16.5 0,0 Z" fill="none" stroke="#cdc2ad" stroke-width="0.6"/>
<ellipse cx="47" cy="-10" rx="31" ry="10.5" transform="rotate(-11 47 -10)" fill="url(#nucg)"/>
<polyline points="33.40,-12.10 34.47,-11.56 35.53,-13.19 36.60,-13.16 37.67,-12.23 38.73,-13.65 39.80,-14.18 40.87,-13.04 41.93,-14.07 43.00,-15.10 44.07,-13.96 45.13,-14.48 46.20,-15.90 47.27,-14.97 48.33,-14.94 49.40,-16.57 50.47,-16.03 51.53,-15.49 52.60,-17.13 53.67,-17.10 54.73,-16.17 55.80,-17.59 56.87,-18.11 57.93,-16.97 59.00,-18.00" fill="none" stroke="#4a3c30" stroke-width="0.9" stroke-linejoin="round" />
<polyline points="49.50,-10.00 50.53,-9.46 51.57,-11.08 52.60,-11.05 53.63,-10.12 54.67,-11.53 55.70,-12.05 56.73,-10.91 57.77,-11.93 58.80,-12.96 59.83,-11.82 60.87,-12.33 61.90,-13.75 62.93,-12.82 63.97,-12.78 65.00,-14.41 66.03,-13.87 67.07,-13.32 68.10,-14.95 69.13,-14.92 70.17,-13.98 71.20,-15.40 72.23,-15.92 73.27,-14.77 74.30,-15.80" fill="none" stroke="#4a3c30" stroke-width="0.9" stroke-linejoin="round" />
<polyline points="23.20,-7.30 24.08,-6.55 24.97,-7.98 25.85,-7.74 26.73,-6.60 27.62,-7.81 28.50,-8.13 29.38,-6.78 30.27,-7.60 31.15,-8.42 32.03,-7.07 32.92,-7.39 33.80,-8.60 34.68,-7.46 35.57,-7.22 36.45,-8.65 37.33,-7.90 38.22,-7.15 39.10,-8.58 39.98,-8.34 40.87,-7.20 41.75,-8.41 42.63,-8.73 43.52,-7.38 44.40,-8.20" fill="none" stroke="#4a3c30" stroke-width="0.9" stroke-linejoin="round" />
<polyline points="34.90,-3.10 35.78,-2.45 36.67,-3.97 37.55,-3.83 38.43,-2.78 39.32,-4.09 40.20,-4.50 41.08,-3.25 41.97,-4.17 42.85,-5.09 43.73,-3.83 44.62,-4.24 45.50,-5.55 46.38,-4.51 47.27,-4.37 48.15,-5.89 49.03,-5.23 49.92,-4.58 50.80,-6.10 51.68,-5.96 52.57,-4.92 53.45,-6.23 54.33,-6.63 55.22,-5.38 56.10,-6.30" fill="none" stroke="#4a3c30" stroke-width="0.9" stroke-linejoin="round" />
<circle cx="47.3" cy="-13.2" r="2.3" fill="#3f8dcb"/>
<circle cx="63.1" cy="-11.8" r="2.3" fill="#3f8dcb"/>
</g>
<path d="M126.10,17.80 L126.10,16.50 M126.10,17.80 L127.34,17.40 M126.10,17.80 L126.86,18.85 M126.10,17.80 L125.34,18.85 M126.10,17.80 L124.86,17.40" stroke="#e60012" stroke-width="0.8" stroke-linecap="butt" fill="none"/>
<path d="M116.60,23.00 L116.60,21.40 M116.60,23.00 L118.12,22.51 M116.60,23.00 L117.54,24.29 M116.60,23.00 L115.66,24.29 M116.60,23.00 L115.08,22.51" stroke="#e60012" stroke-width="0.9" stroke-linecap="butt" fill="none"/>
<g transform="translate(141.80,31.80)">
<path d="M0,0 Q41,-34.5 92,-18 Q51,16.5 0,0 Z" fill="url(#cellg)" stroke="#fff" stroke-width="1.2"/>
<path d="M0,0 Q41,-34.5 92,-18 Q51,16.5 0,0 Z" fill="none" stroke="#cdc2ad" stroke-width="0.6"/>
<ellipse cx="47" cy="-10" rx="31" ry="10.5" transform="rotate(-11 47 -10)" fill="url(#nucg)"/>
<polyline points="33.40,-12.10 34.47,-11.56 35.53,-13.19 36.60,-13.16 37.67,-12.23 38.73,-13.65 39.80,-14.18 40.87,-13.04 41.93,-14.07 43.00,-15.10 44.07,-13.96 45.13,-14.48 46.20,-15.90 47.27,-14.97 48.33,-14.94 49.40,-16.57 50.47,-16.03 51.53,-15.49 52.60,-17.13 53.67,-17.10 54.73,-16.17 55.80,-17.59 56.87,-18.11 57.93,-16.97 59.00,-18.00" fill="none" stroke="#4a3c30" stroke-width="0.9" stroke-linejoin="round" />
<polyline points="49.50,-10.00 50.53,-9.46 51.57,-11.08 52.60,-11.05 53.63,-10.12 54.67,-11.53 55.70,-12.05 56.73,-10.91 57.77,-11.93 58.80,-12.96 59.83,-11.82 60.87,-12.33 61.90,-13.75 62.93,-12.82 63.97,-12.78 65.00,-14.41 66.03,-13.87 67.07,-13.32 68.10,-14.95 69.13,-14.92 70.17,-13.98 71.20,-15.40 72.23,-15.92 73.27,-14.77 74.30,-15.80" fill="none" stroke="#4a3c30" stroke-width="0.9" stroke-linejoin="round" />
<polyline points="23.20,-7.30 24.08,-6.55 24.97,-7.98 25.85,-7.74 26.73,-6.60 27.62,-7.81 28.50,-8.13 29.38,-6.78 30.27,-7.60 31.15,-8.42 32.03,-7.07 32.92,-7.39 33.80,-8.60 34.68,-7.46 35.57,-7.22 36.45,-8.65 37.33,-7.90 38.22,-7.15 39.10,-8.58 39.98,-8.34 40.87,-7.20 41.75,-8.41 42.63,-8.73 43.52,-7.38 44.40,-8.20" fill="none" stroke="#4a3c30" stroke-width="0.9" stroke-linejoin="round" />
<polyline points="34.90,-3.10 35.78,-2.45 36.67,-3.97 37.55,-3.83 38.43,-2.78 39.32,-4.09 40.20,-4.50 41.08,-3.25 41.97,-4.17 42.85,-5.09 43.73,-3.83 44.62,-4.24 45.50,-5.55 46.38,-4.51 47.27,-4.37 48.15,-5.89 49.03,-5.23 49.92,-4.58 50.80,-6.10 51.68,-5.96 52.57,-4.92 53.45,-6.23 54.33,-6.63 55.22,-5.38 56.10,-6.30" fill="none" stroke="#4a3c30" stroke-width="0.9" stroke-linejoin="round" />
<circle cx="47.3" cy="-13.2" r="2.3" fill="#3f8dcb"/>
<circle cx="63.1" cy="-11.8" r="2.3" fill="#3f8dcb"/>
</g>
<path d="M189.10,18.60 L189.10,17.30 M189.10,18.60 L190.34,18.20 M189.10,18.60 L189.86,19.65 M189.10,18.60 L188.34,19.65 M189.10,18.60 L187.86,18.20" stroke="#e60012" stroke-width="0.8" stroke-linecap="butt" fill="none"/>
<path d="M179.60,23.80 L179.60,22.20 M179.60,23.80 L181.12,23.31 M179.60,23.80 L180.54,25.09 M179.60,23.80 L178.66,25.09 M179.60,23.80 L178.08,23.31" stroke="#e60012" stroke-width="0.9" stroke-linecap="butt" fill="none"/>
<g transform="translate(205.30,32.30)">
<path d="M0,0 Q41,-34.5 92,-18 Q51,16.5 0,0 Z" fill="url(#cellg)" stroke="#fff" stroke-width="1.2"/>
<path d="M0,0 Q41,-34.5 92,-18 Q51,16.5 0,0 Z" fill="none" stroke="#cdc2ad" stroke-width="0.6"/>
<ellipse cx="47" cy="-10" rx="31" ry="10.5" transform="rotate(-11 47 -10)" fill="url(#nucg)"/>
<polyline points="33.40,-12.10 34.47,-11.56 35.53,-13.19 36.60,-13.16 37.67,-12.23 38.73,-13.65 39.80,-14.18 40.87,-13.04 41.93,-14.07 43.00,-15.10 44.07,-13.96 45.13,-14.48 46.20,-15.90 47.27,-14.97 48.33,-14.94 49.40,-16.57 50.47,-16.03 51.53,-15.49 52.60,-17.13 53.67,-17.10 54.73,-16.17 55.80,-17.59 56.87,-18.11 57.93,-16.97 59.00,-18.00" fill="none" stroke="#4a3c30" stroke-width="0.9" stroke-linejoin="round" />
<polyline points="49.50,-10.00 50.53,-9.46 51.57,-11.08 52.60,-11.05 53.63,-10.12 54.67,-11.53 55.70,-12.05 56.73,-10.91 57.77,-11.93 58.80,-12.96 59.83,-11.82 60.87,-12.33 61.90,-13.75 62.93,-12.82 63.97,-12.78 65.00,-14.41 66.03,-13.87 67.07,-13.32 68.10,-14.95 69.13,-14.92 70.17,-13.98 71.20,-15.40 72.23,-15.92 73.27,-14.77 74.30,-15.80" fill="none" stroke="#4a3c30" stroke-width="0.9" stroke-linejoin="round" />
<polyline points="23.20,-7.30 24.08,-6.55 24.97,-7.98 25.85,-7.74 26.73,-6.60 27.62,-7.81 28.50,-8.13 29.38,-6.78 30.27,-7.60 31.15,-8.42 32.03,-7.07 32.92,-7.39 33.80,-8.60 34.68,-7.46 35.57,-7.22 36.45,-8.65 37.33,-7.90 38.22,-7.15 39.10,-8.58 39.98,-8.34 40.87,-7.20 41.75,-8.41 42.63,-8.73 43.52,-7.38 44.40,-8.20" fill="none" stroke="#4a3c30" stroke-width="0.9" stroke-linejoin="round" />
<polyline points="34.90,-3.10 35.78,-2.45 36.67,-3.97 37.55,-3.83 38.43,-2.78 39.32,-4.09 40.20,-4.50 41.08,-3.25 41.97,-4.17 42.85,-5.09 43.73,-3.83 44.62,-4.24 45.50,-5.55 46.38,-4.51 47.27,-4.37 48.15,-5.89 49.03,-5.23 49.92,-4.58 50.80,-6.10 51.68,-5.96 52.57,-4.92 53.45,-6.23 54.33,-6.63 55.22,-5.38 56.10,-6.30" fill="none" stroke="#4a3c30" stroke-width="0.9" stroke-linejoin="round" />
<circle cx="47.3" cy="-13.2" r="2.3" fill="#3f8dcb"/>
<circle cx="63.1" cy="-11.8" r="2.3" fill="#3f8dcb"/>
</g>
<path d="M252.60,19.10 L252.60,17.80 M252.60,19.10 L253.84,18.70 M252.60,19.10 L253.36,20.15 M252.60,19.10 L251.84,20.15 M252.60,19.10 L251.36,18.70" stroke="#e60012" stroke-width="0.8" stroke-linecap="butt" fill="none"/>
<path d="M243.10,24.30 L243.10,22.70 M243.10,24.30 L244.62,23.81 M243.10,24.30 L244.04,25.59 M243.10,24.30 L242.16,25.59 M243.10,24.30 L241.58,23.81" stroke="#e60012" stroke-width="0.9" stroke-linecap="butt" fill="none"/>
<g transform="translate(61.00,59.30)">
<path d="M0,0 Q41,-34.5 92,-18 Q51,16.5 0,0 Z" fill="url(#cellg)" stroke="#fff" stroke-width="1.2"/>
<path d="M0,0 Q41,-34.5 92,-18 Q51,16.5 0,0 Z" fill="none" stroke="#cdc2ad" stroke-width="0.6"/>
<ellipse cx="47" cy="-10" rx="31" ry="10.5" transform="rotate(-11 47 -10)" fill="url(#nucg)"/>
<polyline points="33.40,-12.10 34.47,-11.56 35.53,-13.19 36.60,-13.16 37.67,-12.23 38.73,-13.65 39.80,-14.18 40.87,-13.04 41.93,-14.07 43.00,-15.10 44.07,-13.96 45.13,-14.48 46.20,-15.90 47.27,-14.97 48.33,-14.94 49.40,-16.57 50.47,-16.03 51.53,-15.49 52.60,-17.13 53.67,-17.10 54.73,-16.17 55.80,-17.59 56.87,-18.11 57.93,-16.97 59.00,-18.00" fill="none" stroke="#4a3c30" stroke-width="0.9" stroke-linejoin="round" />
<polyline points="49.50,-10.00 50.53,-9.46 51.57,-11.08 52.60,-11.05 53.63,-10.12 54.67,-11.53 55.70,-12.05 56.73,-10.91 57.77,-11.93 58.80,-12.96 59.83,-11.82 60.87,-12.33 61.90,-13.75 62.93,-12.82 63.97,-12.78 65.00,-14.41 66.03,-13.87 67.07,-13.32 68.10,-14.95 69.13,-14.92 70.17,-13.98 71.20,-15.40 72.23,-15.92 73.27,-14.77 74.30,-15.80" fill="none" stroke="#4a3c30" stroke-width="0.9" stroke-linejoin="round" />
<polyline points="23.20,-7.30 24.08,-6.55 24.97,-7.98 25.85,-7.74 26.73,-6.60 27.62,-7.81 28.50,-8.13 29.38,-6.78 30.27,-7.60 31.15,-8.42 32.03,-7.07 32.92,-7.39 33.80,-8.60 34.68,-7.46 35.57,-7.22 36.45,-8.65 37.33,-7.90 38.22,-7.15 39.10,-8.58 39.98,-8.34 40.87,-7.20 41.75,-8.41 42.63,-8.73 43.52,-7.38 44.40,-8.20" fill="none" stroke="#4a3c30" stroke-width="0.9" stroke-linejoin="round" />
<polyline points="34.90,-3.10 35.78,-2.45 36.67,-3.97 37.55,-3.83 38.43,-2.78 39.32,-4.09 40.20,-4.50 41.08,-3.25 41.97,-4.17 42.85,-5.09 43.73,-3.83 44.62,-4.24 45.50,-5.55 46.38,-4.51 47.27,-4.37 48.15,-5.89 49.03,-5.23 49.92,-4.58 50.80,-6.10 51.68,-5.96 52.57,-4.92 53.45,-6.23 54.33,-6.63 55.22,-5.38 56.10,-6.30" fill="none" stroke="#4a3c30" stroke-width="0.9" stroke-linejoin="round" />
<circle cx="47.3" cy="-13.2" r="2.3" fill="#3f8dcb"/>
<circle cx="63.1" cy="-11.8" r="2.3" fill="#3f8dcb"/>
</g>
<path d="M108.30,46.10 L108.30,44.80 M108.30,46.10 L109.54,45.70 M108.30,46.10 L109.06,47.15 M108.30,46.10 L107.54,47.15 M108.30,46.10 L107.06,45.70" stroke="#e60012" stroke-width="0.8" stroke-linecap="butt" fill="none"/>
<path d="M98.80,51.30 L98.80,49.70 M98.80,51.30 L100.32,50.81 M98.80,51.30 L99.74,52.59 M98.80,51.30 L97.86,52.59 M98.80,51.30 L97.28,50.81" stroke="#e60012" stroke-width="0.9" stroke-linecap="butt" fill="none"/>
<g transform="translate(123.60,60.30)">
<path d="M0,0 Q41,-34.5 92,-18 Q51,16.5 0,0 Z" fill="url(#cellg)" stroke="#fff" stroke-width="1.2"/>
<path d="M0,0 Q41,-34.5 92,-18 Q51,16.5 0,0 Z" fill="none" stroke="#cdc2ad" stroke-width="0.6"/>
<ellipse cx="47" cy="-10" rx="31" ry="10.5" transform="rotate(-11 47 -10)" fill="url(#nucg)"/>
<polyline points="33.40,-12.10 34.47,-11.56 35.53,-13.19 36.60,-13.16 37.67,-12.23 38.73,-13.65 39.80,-14.18 40.87,-13.04 41.93,-14.07 43.00,-15.10 44.07,-13.96 45.13,-14.48 46.20,-15.90 47.27,-14.97 48.33,-14.94 49.40,-16.57 50.47,-16.03 51.53,-15.49 52.60,-17.13 53.67,-17.10 54.73,-16.17 55.80,-17.59 56.87,-18.11 57.93,-16.97 59.00,-18.00" fill="none" stroke="#4a3c30" stroke-width="0.9" stroke-linejoin="round" />
<polyline points="49.50,-10.00 50.53,-9.46 51.57,-11.08 52.60,-11.05 53.63,-10.12 54.67,-11.53 55.70,-12.05 56.73,-10.91 57.77,-11.93 58.80,-12.96 59.83,-11.82 60.87,-12.33 61.90,-13.75 62.93,-12.82 63.97,-12.78 65.00,-14.41 66.03,-13.87 67.07,-13.32 68.10,-14.95 69.13,-14.92 70.17,-13.98 71.20,-15.40 72.23,-15.92 73.27,-14.77 74.30,-15.80" fill="none" stroke="#4a3c30" stroke-width="0.9" stroke-linejoin="round" />
<polyline points="23.20,-7.30 24.08,-6.55 24.97,-7.98 25.85,-7.74 26.73,-6.60 27.62,-7.81 28.50,-8.13 29.38,-6.78 30.27,-7.60 31.15,-8.42 32.03,-7.07 32.92,-7.39 33.80,-8.60 34.68,-7.46 35.57,-7.22 36.45,-8.65 37.33,-7.90 38.22,-7.15 39.10,-8.58 39.98,-8.34 40.87,-7.20 41.75,-8.41 42.63,-8.73 43.52,-7.38 44.40,-8.20" fill="none" stroke="#4a3c30" stroke-width="0.9" stroke-linejoin="round" />
<polyline points="34.90,-3.10 35.78,-2.45 36.67,-3.97 37.55,-3.83 38.43,-2.78 39.32,-4.09 40.20,-4.50 41.08,-3.25 41.97,-4.17 42.85,-5.09 43.73,-3.83 44.62,-4.24 45.50,-5.55 46.38,-4.51 47.27,-4.37 48.15,-5.89 49.03,-5.23 49.92,-4.58 50.80,-6.10 51.68,-5.96 52.57,-4.92 53.45,-6.23 54.33,-6.63 55.22,-5.38 56.10,-6.30" fill="none" stroke="#4a3c30" stroke-width="0.9" stroke-linejoin="round" />
<circle cx="47.3" cy="-13.2" r="2.3" fill="#3f8dcb"/>
<circle cx="63.1" cy="-11.8" r="2.3" fill="#3f8dcb"/>
</g>
<path d="M170.90,47.10 L170.90,45.80 M170.90,47.10 L172.14,46.70 M170.90,47.10 L171.66,48.15 M170.90,47.10 L170.14,48.15 M170.90,47.10 L169.66,46.70" stroke="#e60012" stroke-width="0.8" stroke-linecap="butt" fill="none"/>
<path d="M161.40,52.30 L161.40,50.70 M161.40,52.30 L162.92,51.81 M161.40,52.30 L162.34,53.59 M161.40,52.30 L160.46,53.59 M161.40,52.30 L159.88,51.81" stroke="#e60012" stroke-width="0.9" stroke-linecap="butt" fill="none"/>
<g transform="translate(187.20,61.00)">
<path d="M0,0 Q41,-34.5 92,-18 Q51,16.5 0,0 Z" fill="url(#cellg)" stroke="#fff" stroke-width="1.2"/>
<path d="M0,0 Q41,-34.5 92,-18 Q51,16.5 0,0 Z" fill="none" stroke="#cdc2ad" stroke-width="0.6"/>
<ellipse cx="47" cy="-10" rx="31" ry="10.5" transform="rotate(-11 47 -10)" fill="url(#nucg)"/>
<polyline points="33.40,-12.10 34.47,-11.56 35.53,-13.19 36.60,-13.16 37.67,-12.23 38.73,-13.65 39.80,-14.18 40.87,-13.04 41.93,-14.07 43.00,-15.10 44.07,-13.96 45.13,-14.48 46.20,-15.90 47.27,-14.97 48.33,-14.94 49.40,-16.57 50.47,-16.03 51.53,-15.49 52.60,-17.13 53.67,-17.10 54.73,-16.17 55.80,-17.59 56.87,-18.11 57.93,-16.97 59.00,-18.00" fill="none" stroke="#4a3c30" stroke-width="0.9" stroke-linejoin="round" />
<polyline points="49.50,-10.00 50.53,-9.46 51.57,-11.08 52.60,-11.05 53.63,-10.12 54.67,-11.53 55.70,-12.05 56.73,-10.91 57.77,-11.93 58.80,-12.96 59.83,-11.82 60.87,-12.33 61.90,-13.75 62.93,-12.82 63.97,-12.78 65.00,-14.41 66.03,-13.87 67.07,-13.32 68.10,-14.95 69.13,-14.92 70.17,-13.98 71.20,-15.40 72.23,-15.92 73.27,-14.77 74.30,-15.80" fill="none" stroke="#4a3c30" stroke-width="0.9" stroke-linejoin="round" />
<polyline points="23.20,-7.30 24.08,-6.55 24.97,-7.98 25.85,-7.74 26.73,-6.60 27.62,-7.81 28.50,-8.13 29.38,-6.78 30.27,-7.60 31.15,-8.42 32.03,-7.07 32.92,-7.39 33.80,-8.60 34.68,-7.46 35.57,-7.22 36.45,-8.65 37.33,-7.90 38.22,-7.15 39.10,-8.58 39.98,-8.34 40.87,-7.20 41.75,-8.41 42.63,-8.73 43.52,-7.38 44.40,-8.20" fill="none" stroke="#4a3c30" stroke-width="0.9" stroke-linejoin="round" />
<polyline points="34.90,-3.10 35.78,-2.45 36.67,-3.97 37.55,-3.83 38.43,-2.78 39.32,-4.09 40.20,-4.50 41.08,-3.25 41.97,-4.17 42.85,-5.09 43.73,-3.83 44.62,-4.24 45.50,-5.55 46.38,-4.51 47.27,-4.37 48.15,-5.89 49.03,-5.23 49.92,-4.58 50.80,-6.10 51.68,-5.96 52.57,-4.92 53.45,-6.23 54.33,-6.63 55.22,-5.38 56.10,-6.30" fill="none" stroke="#4a3c30" stroke-width="0.9" stroke-linejoin="round" />
<circle cx="47.3" cy="-13.2" r="2.3" fill="#3f8dcb"/>
<circle cx="63.1" cy="-11.8" r="2.3" fill="#3f8dcb"/>
</g>
<path d="M234.50,47.80 L234.50,46.50 M234.50,47.80 L235.74,47.40 M234.50,47.80 L235.26,48.85 M234.50,47.80 L233.74,48.85 M234.50,47.80 L233.26,47.40" stroke="#e60012" stroke-width="0.8" stroke-linecap="butt" fill="none"/>
<path d="M225.00,53.00 L225.00,51.40 M225.00,53.00 L226.52,52.51 M225.00,53.00 L225.94,54.29 M225.00,53.00 L224.06,54.29 M225.00,53.00 L223.48,52.51" stroke="#e60012" stroke-width="0.9" stroke-linecap="butt" fill="none"/>
<text x="85.70" y="87.50" font-size="11" text-anchor="end" font-weight="normal" font-style="normal" fill="#231f20" >DNA extraction</text>
<text x="85.70" y="100.00" font-size="11" text-anchor="end" font-weight="normal" font-style="normal" fill="#231f20" >and sonication</text>
<line x1="95.70" y1="79.50" x2="95.70" y2="96.50" stroke="#231f20" stroke-width="1.1" />
<path d="M93.00,94.50 L95.70,96.70 L98.40,94.50 L95.70,101.50 Z" fill="#231f20"/>
<g transform="translate(64.20,117.50) rotate(0.0)"><path d="M-4.20,-1.72 C0.00,-2.02 3.53,-0.69 4.20,1.72 C0.00,2.02 -3.53,0.69 -4.20,-1.72 Z" fill="#7d624c" stroke="#c8aa7e" stroke-width="0.8"/><path d="M-2.00,-0.78 L2.00,0.78" stroke="#efe9de" stroke-width="0.8" stroke-dasharray="1.1 1"/></g><g transform="translate(71.44,117.50) rotate(0.0)"><path d="M-4.20,-2.30 C0.00,-2.60 3.53,-0.92 4.20,2.30 C0.00,2.60 -3.53,0.92 -4.20,-2.30 Z" fill="#7d624c" stroke="#c8aa7e" stroke-width="0.8"/><path d="M-2.00,-1.03 L2.00,1.03" stroke="#efe9de" stroke-width="0.8" stroke-dasharray="1.1 1"/></g><g transform="translate(78.69,117.50) rotate(0.0)"><path d="M-4.20,-2.30 C0.00,-2.60 3.53,-0.92 4.20,2.30 C0.00,2.60 -3.53,0.92 -4.20,-2.30 Z" fill="#7d624c" stroke="#c8aa7e" stroke-width="0.8"/><path d="M-2.00,-1.03 L2.00,1.03" stroke="#efe9de" stroke-width="0.8" stroke-dasharray="1.1 1"/></g><g transform="translate(85.93,117.50) rotate(0.0)"><path d="M-4.20,-2.30 C0.00,-2.60 3.53,-0.92 4.20,2.30 C0.00,2.60 -3.53,0.92 -4.20,-2.30 Z" fill="#7d624c" stroke="#c8aa7e" stroke-width="0.8"/><path d="M-2.00,-1.03 L2.00,1.03" stroke="#efe9de" stroke-width="0.8" stroke-dasharray="1.1 1"/></g><g transform="translate(93.18,117.50) rotate(0.0)"><path d="M-4.20,-2.30 C0.00,-2.60 3.53,-0.92 4.20,2.30 C0.00,2.60 -3.53,0.92 -4.20,-2.30 Z" fill="#7d624c" stroke="#c8aa7e" stroke-width="0.8"/><path d="M-2.00,-1.03 L2.00,1.03" stroke="#efe9de" stroke-width="0.8" stroke-dasharray="1.1 1"/></g><g transform="translate(100.42,117.50) rotate(0.0)"><path d="M-4.20,-2.30 C0.00,-2.60 3.53,-0.92 4.20,2.30 C0.00,2.60 -3.53,0.92 -4.20,-2.30 Z" fill="#7d624c" stroke="#c8aa7e" stroke-width="0.8"/><path d="M-2.00,-1.03 L2.00,1.03" stroke="#efe9de" stroke-width="0.8" stroke-dasharray="1.1 1"/></g><g transform="translate(107.67,117.50) rotate(0.0)"><path d="M-4.20,-2.30 C0.00,-2.60 3.53,-0.92 4.20,2.30 C0.00,2.60 -3.53,0.92 -4.20,-2.30 Z" fill="#7d624c" stroke="#c8aa7e" stroke-width="0.8"/><path d="M-2.00,-1.03 L2.00,1.03" stroke="#efe9de" stroke-width="0.8" stroke-dasharray="1.1 1"/></g><g transform="translate(114.91,117.50) rotate(0.0)"><path d="M-4.20,-2.30 C0.00,-2.60 3.53,-0.92 4.20,2.30 C0.00,2.60 -3.53,0.92 -4.20,-2.30 Z" fill="#7d624c" stroke="#c8aa7e" stroke-width="0.8"/><path d="M-2.00,-1.03 L2.00,1.03" stroke="#efe9de" stroke-width="0.8" stroke-dasharray="1.1 1"/></g><g transform="translate(122.16,117.50) rotate(0.0)"><path d="M-4.20,-2.30 C0.00,-2.60 3.53,-0.92 4.20,2.30 C0.00,2.60 -3.53,0.92 -4.20,-2.30 Z" fill="#7d624c" stroke="#c8aa7e" stroke-width="0.8"/><path d="M-2.00,-1.03 L2.00,1.03" stroke="#efe9de" stroke-width="0.8" stroke-dasharray="1.1 1"/></g><g transform="translate(129.40,117.50) rotate(0.0)"><path d="M-4.20,-1.72 C0.00,-2.02 3.53,-0.69 4.20,1.72 C0.00,2.02 -3.53,0.69 -4.20,-1.72 Z" fill="#7d624c" stroke="#c8aa7e" stroke-width="0.8"/><path d="M-2.00,-0.78 L2.00,0.78" stroke="#efe9de" stroke-width="0.8" stroke-dasharray="1.1 1"/></g>
<path d="M94.50,116.50 L94.50,112.50 M94.50,116.50 L98.30,115.26 M94.50,116.50 L96.85,119.74 M94.50,116.50 L92.15,119.74 M94.50,116.50 L90.70,115.26" stroke="#e60012" stroke-width="1.8" stroke-linecap="butt" fill="none"/>
<g transform="translate(64.20,130.50) rotate(0.0)"><path d="M-4.20,-1.72 C0.00,-2.02 3.53,-0.69 4.20,1.72 C0.00,2.02 -3.53,0.69 -4.20,-1.72 Z" fill="#7d624c" stroke="#c8aa7e" stroke-width="0.8"/><path d="M-2.00,-0.78 L2.00,0.78" stroke="#efe9de" stroke-width="0.8" stroke-dasharray="1.1 1"/></g><g transform="translate(71.44,130.50) rotate(0.0)"><path d="M-4.20,-2.30 C0.00,-2.60 3.53,-0.92 4.20,2.30 C0.00,2.60 -3.53,0.92 -4.20,-2.30 Z" fill="#7d624c" stroke="#c8aa7e" stroke-width="0.8"/><path d="M-2.00,-1.03 L2.00,1.03" stroke="#efe9de" stroke-width="0.8" stroke-dasharray="1.1 1"/></g><g transform="translate(78.69,130.50) rotate(0.0)"><path d="M-4.20,-2.30 C0.00,-2.60 3.53,-0.92 4.20,2.30 C0.00,2.60 -3.53,0.92 -4.20,-2.30 Z" fill="#7d624c" stroke="#c8aa7e" stroke-width="0.8"/><path d="M-2.00,-1.03 L2.00,1.03" stroke="#efe9de" stroke-width="0.8" stroke-dasharray="1.1 1"/></g><g transform="translate(85.93,130.50) rotate(0.0)"><path d="M-4.20,-2.30 C0.00,-2.60 3.53,-0.92 4.20,2.30 C0.00,2.60 -3.53,0.92 -4.20,-2.30 Z" fill="#7d624c" stroke="#c8aa7e" stroke-width="0.8"/><path d="M-2.00,-1.03 L2.00,1.03" stroke="#efe9de" stroke-width="0.8" stroke-dasharray="1.1 1"/></g><g transform="translate(93.18,130.50) rotate(0.0)"><path d="M-4.20,-2.30 C0.00,-2.60 3.53,-0.92 4.20,2.30 C0.00,2.60 -3.53,0.92 -4.20,-2.30 Z" fill="#7d624c" stroke="#c8aa7e" stroke-width="0.8"/><path d="M-2.00,-1.03 L2.00,1.03" stroke="#efe9de" stroke-width="0.8" stroke-dasharray="1.1 1"/></g><g transform="translate(100.42,130.50) rotate(0.0)"><path d="M-4.20,-2.30 C0.00,-2.60 3.53,-0.92 4.20,2.30 C0.00,2.60 -3.53,0.92 -4.20,-2.30 Z" fill="#7d624c" stroke="#c8aa7e" stroke-width="0.8"/><path d="M-2.00,-1.03 L2.00,1.03" stroke="#efe9de" stroke-width="0.8" stroke-dasharray="1.1 1"/></g><g transform="translate(107.67,130.50) rotate(0.0)"><path d="M-4.20,-2.30 C0.00,-2.60 3.53,-0.92 4.20,2.30 C0.00,2.60 -3.53,0.92 -4.20,-2.30 Z" fill="#7d624c" stroke="#c8aa7e" stroke-width="0.8"/><path d="M-2.00,-1.03 L2.00,1.03" stroke="#efe9de" stroke-width="0.8" stroke-dasharray="1.1 1"/></g><g transform="translate(114.91,130.50) rotate(0.0)"><path d="M-4.20,-2.30 C0.00,-2.60 3.53,-0.92 4.20,2.30 C0.00,2.60 -3.53,0.92 -4.20,-2.30 Z" fill="#7d624c" stroke="#c8aa7e" stroke-width="0.8"/><path d="M-2.00,-1.03 L2.00,1.03" stroke="#efe9de" stroke-width="0.8" stroke-dasharray="1.1 1"/></g><g transform="translate(122.16,130.50) rotate(0.0)"><path d="M-4.20,-2.30 C0.00,-2.60 3.53,-0.92 4.20,2.30 C0.00,2.60 -3.53,0.92 -4.20,-2.30 Z" fill="#7d624c" stroke="#c8aa7e" stroke-width="0.8"/><path d="M-2.00,-1.03 L2.00,1.03" stroke="#efe9de" stroke-width="0.8" stroke-dasharray="1.1 1"/></g><g transform="translate(129.40,130.50) rotate(0.0)"><path d="M-4.20,-1.72 C0.00,-2.02 3.53,-0.69 4.20,1.72 C0.00,2.02 -3.53,0.69 -4.20,-1.72 Z" fill="#7d624c" stroke="#c8aa7e" stroke-width="0.8"/><path d="M-2.00,-0.78 L2.00,0.78" stroke="#efe9de" stroke-width="0.8" stroke-dasharray="1.1 1"/></g>
<text x="85.70" y="153.00" font-size="11" text-anchor="end" font-weight="normal" font-style="normal" fill="#231f20" >Adaptor 1 ligation</text>
<text x="85.70" y="166.00" font-size="11" text-anchor="end" font-weight="normal" font-style="normal" fill="#231f20" >and Damage IP</text>
<line x1="95.70" y1="145.00" x2="95.70" y2="162.50" stroke="#231f20" stroke-width="1.1" />
<path d="M93.00,160.50 L95.70,162.70 L98.40,160.50 L95.70,167.50 Z" fill="#231f20"/>
<line x1="48.00" y1="185.40" x2="54.50" y2="185.40" stroke="#f1a52c" stroke-width="1.4" />
<line x1="54.50" y1="185.40" x2="64.20" y2="185.40" stroke="#2ba3de" stroke-width="1.4" />
<line x1="64.20" y1="185.40" x2="127.80" y2="185.40" stroke="#c9a06e" stroke-width="1.4" />
<line x1="127.80" y1="185.40" x2="137.00" y2="185.40" stroke="#2ba3de" stroke-width="1.4" />
<line x1="137.00" y1="185.40" x2="145.00" y2="185.40" stroke="#6a2c91" stroke-width="1.4" />
<line x1="55.70" y1="186.00" x2="55.70" y2="189.00" stroke="#444" stroke-width="0.8" />
<line x1="60.10" y1="186.00" x2="60.10" y2="189.00" stroke="#444" stroke-width="0.8" />
<line x1="64.50" y1="186.00" x2="64.50" y2="189.00" stroke="#444" stroke-width="0.8" />
<line x1="68.90" y1="186.00" x2="68.90" y2="189.00" stroke="#444" stroke-width="0.8" />
<line x1="73.30" y1="186.00" x2="73.30" y2="189.00" stroke="#444" stroke-width="0.8" />
<line x1="77.70" y1="186.00" x2="77.70" y2="189.00" stroke="#444" stroke-width="0.8" />
<line x1="82.10" y1="186.00" x2="82.10" y2="189.00" stroke="#444" stroke-width="0.8" />
<line x1="86.50" y1="186.00" x2="86.50" y2="189.00" stroke="#444" stroke-width="0.8" />
<line x1="90.90" y1="186.00" x2="90.90" y2="189.00" stroke="#444" stroke-width="0.8" />
<line x1="95.30" y1="186.00" x2="95.30" y2="189.00" stroke="#444" stroke-width="0.8" />
<line x1="99.70" y1="186.00" x2="99.70" y2="189.00" stroke="#444" stroke-width="0.8" />
<line x1="104.10" y1="186.00" x2="104.10" y2="189.00" stroke="#444" stroke-width="0.8" />
<line x1="108.50" y1="186.00" x2="108.50" y2="189.00" stroke="#444" stroke-width="0.8" />
<line x1="112.90" y1="186.00" x2="112.90" y2="189.00" stroke="#444" stroke-width="0.8" />
<line x1="117.30" y1="186.00" x2="117.30" y2="189.00" stroke="#444" stroke-width="0.8" />
<line x1="121.70" y1="186.00" x2="121.70" y2="189.00" stroke="#444" stroke-width="0.8" />
<line x1="126.10" y1="186.00" x2="126.10" y2="189.00" stroke="#444" stroke-width="0.8" />
<line x1="130.50" y1="186.00" x2="130.50" y2="189.00" stroke="#444" stroke-width="0.8" />
<line x1="134.90" y1="186.00" x2="134.90" y2="189.00" stroke="#444" stroke-width="0.8" />
<path d="M84.50,184.20 L84.50,180.00 M84.50,184.20 L88.49,182.90 M84.50,184.20 L86.97,187.60 M84.50,184.20 L82.03,187.60 M84.50,184.20 L80.51,182.90" stroke="#e60012" stroke-width="1.9" stroke-linecap="butt" fill="none"/>
<text x="85.70" y="216.70" font-size="11" text-anchor="end" font-weight="normal" font-style="normal" fill="#231f20" >Primer extension</text>
<line x1="95.70" y1="208.00" x2="95.70" y2="220.00" stroke="#231f20" stroke-width="1.1" />
<path d="M93.00,218.00 L95.70,220.20 L98.40,218.00 L95.70,225.00 Z" fill="#231f20"/>
<line x1="82.20" y1="241.00" x2="82.20" y2="247.00" stroke="#555" stroke-width="0.9" />
<line x1="85.05" y1="241.00" x2="85.05" y2="247.00" stroke="#555" stroke-width="0.9" />
<line x1="87.90" y1="241.00" x2="87.90" y2="247.00" stroke="#555" stroke-width="0.9" />
<line x1="90.75" y1="241.00" x2="90.75" y2="247.00" stroke="#555" stroke-width="0.9" />
<line x1="93.60" y1="241.00" x2="93.60" y2="247.00" stroke="#555" stroke-width="0.9" />
<line x1="96.45" y1="241.00" x2="96.45" y2="247.00" stroke="#555" stroke-width="0.9" />
<line x1="99.30" y1="241.00" x2="99.30" y2="247.00" stroke="#555" stroke-width="0.9" />
<line x1="102.15" y1="241.00" x2="102.15" y2="247.00" stroke="#555" stroke-width="0.9" />
<line x1="105.00" y1="241.00" x2="105.00" y2="247.00" stroke="#555" stroke-width="0.9" />
<line x1="107.85" y1="241.00" x2="107.85" y2="247.00" stroke="#555" stroke-width="0.9" />
<line x1="110.70" y1="241.00" x2="110.70" y2="247.00" stroke="#555" stroke-width="0.9" />
<line x1="113.55" y1="241.00" x2="113.55" y2="247.00" stroke="#555" stroke-width="0.9" />
<line x1="116.40" y1="241.00" x2="116.40" y2="247.00" stroke="#555" stroke-width="0.9" />
<line x1="119.25" y1="241.00" x2="119.25" y2="247.00" stroke="#555" stroke-width="0.9" />
<line x1="122.10" y1="241.00" x2="122.10" y2="247.00" stroke="#555" stroke-width="0.9" />
<line x1="124.95" y1="241.00" x2="124.95" y2="247.00" stroke="#555" stroke-width="0.9" />
<line x1="127.80" y1="241.00" x2="127.80" y2="247.00" stroke="#555" stroke-width="0.9" />
<line x1="130.65" y1="241.00" x2="130.65" y2="247.00" stroke="#555" stroke-width="0.9" />
<line x1="133.50" y1="241.00" x2="133.50" y2="247.00" stroke="#555" stroke-width="0.9" />
<line x1="136.35" y1="241.00" x2="136.35" y2="247.00" stroke="#555" stroke-width="0.9" />
<line x1="139.20" y1="241.00" x2="139.20" y2="247.00" stroke="#555" stroke-width="0.9" />
<line x1="142.05" y1="241.00" x2="142.05" y2="247.00" stroke="#555" stroke-width="0.9" />
<line x1="144.90" y1="241.00" x2="144.90" y2="247.00" stroke="#555" stroke-width="0.9" />
<line x1="35.80" y1="240.80" x2="43.70" y2="240.80" stroke="#f1a52c" stroke-width="1.4" />
<line x1="43.70" y1="240.80" x2="52.60" y2="240.80" stroke="#2ba3de" stroke-width="1.4" />
<line x1="52.60" y1="240.80" x2="127.50" y2="240.80" stroke="#c9a06e" stroke-width="1.4" />
<line x1="127.50" y1="240.80" x2="137.00" y2="240.80" stroke="#2ba3de" stroke-width="1.4" />
<line x1="137.00" y1="240.80" x2="145.20" y2="240.80" stroke="#6a2c91" stroke-width="1.4" />
<line x1="82.20" y1="246.80" x2="127.50" y2="246.80" stroke="#e3318a" stroke-width="1.4" />
<line x1="127.50" y1="246.80" x2="137.00" y2="246.80" stroke="#2ba3de" stroke-width="1.4" />
<line x1="137.00" y1="246.80" x2="145.20" y2="246.80" stroke="#6a2c91" stroke-width="1.4" />
<line x1="36.40" y1="241.30" x2="36.40" y2="244.00" stroke="#444" stroke-width="0.8" />
<line x1="39.30" y1="241.30" x2="39.30" y2="244.00" stroke="#444" stroke-width="0.8" />
<line x1="42.20" y1="241.30" x2="42.20" y2="244.00" stroke="#444" stroke-width="0.8" />
<line x1="45.10" y1="241.30" x2="45.10" y2="244.00" stroke="#444" stroke-width="0.8" />
<line x1="48.00" y1="241.30" x2="48.00" y2="244.00" stroke="#444" stroke-width="0.8" />
<line x1="50.90" y1="241.30" x2="50.90" y2="244.00" stroke="#444" stroke-width="0.8" />
<line x1="53.80" y1="241.30" x2="53.80" y2="244.00" stroke="#444" stroke-width="0.8" />
<line x1="56.70" y1="241.30" x2="56.70" y2="244.00" stroke="#444" stroke-width="0.8" />
<line x1="59.60" y1="241.30" x2="59.60" y2="244.00" stroke="#444" stroke-width="0.8" />
<line x1="62.50" y1="241.30" x2="62.50" y2="244.00" stroke="#444" stroke-width="0.8" />
<ellipse cx="73.3" cy="249.1" rx="8.9" ry="7.5" fill="url(#greeng)"/>
<path d="M70.00,240.80 L70.00,236.80 M70.00,240.80 L73.80,239.56 M70.00,240.80 L72.35,244.04 M70.00,240.80 L67.65,244.04 M70.00,240.80 L66.20,239.56" stroke="#e60012" stroke-width="1.9" stroke-linecap="butt" fill="none"/>
<text x="28.00" y="241.40" font-size="11" text-anchor="start" font-weight="normal" font-style="normal" fill="#231f20" >5’</text>
<text x="146.80" y="243.50" font-size="11" text-anchor="start" font-weight="normal" font-style="normal" fill="#231f20" >3’</text>
<text x="147.20" y="253.80" font-size="11" text-anchor="start" font-weight="normal" font-style="normal" fill="#231f20" >5’</text>
<text x="85.70" y="277.50" font-size="11" text-anchor="end" font-weight="normal" font-style="normal" fill="#231f20" >Adaptor 2 ligation</text>
<text x="85.70" y="290.50" font-size="11" text-anchor="end" font-weight="normal" font-style="normal" fill="#231f20" >and PCR</text>
<line x1="95.70" y1="270.50" x2="95.70" y2="287.00" stroke="#231f20" stroke-width="1.1" />
<path d="M93.00,285.00 L95.70,287.20 L98.40,285.00 L95.70,292.00 Z" fill="#231f20"/>
<line x1="46.50" y1="307.60" x2="46.50" y2="314.30" stroke="#666" stroke-width="1.1" />
<line x1="50.75" y1="307.60" x2="50.75" y2="314.30" stroke="#666" stroke-width="1.1" />
<line x1="55.00" y1="307.60" x2="55.00" y2="314.30" stroke="#666" stroke-width="1.1" />
<line x1="59.25" y1="307.60" x2="59.25" y2="314.30" stroke="#666" stroke-width="1.1" />
<line x1="63.50" y1="307.60" x2="63.50" y2="314.30" stroke="#666" stroke-width="1.1" />
<line x1="67.75" y1="307.60" x2="67.75" y2="314.30" stroke="#666" stroke-width="1.1" />
<line x1="72.00" y1="307.60" x2="72.00" y2="314.30" stroke="#666" stroke-width="1.1" />
<line x1="76.25" y1="307.60" x2="76.25" y2="314.30" stroke="#666" stroke-width="1.1" />
<line x1="80.50" y1="307.60" x2="80.50" y2="314.30" stroke="#666" stroke-width="1.1" />
<line x1="84.75" y1="307.60" x2="84.75" y2="314.30" stroke="#666" stroke-width="1.1" />
<line x1="89.00" y1="307.60" x2="89.00" y2="314.30" stroke="#666" stroke-width="1.1" />
<line x1="93.25" y1="307.60" x2="93.25" y2="314.30" stroke="#666" stroke-width="1.1" />
<line x1="97.50" y1="307.60" x2="97.50" y2="314.30" stroke="#666" stroke-width="1.1" />
<line x1="101.75" y1="307.60" x2="101.75" y2="314.30" stroke="#666" stroke-width="1.1" />
<line x1="106.00" y1="307.60" x2="106.00" y2="314.30" stroke="#666" stroke-width="1.1" />
<line x1="110.25" y1="307.60" x2="110.25" y2="314.30" stroke="#666" stroke-width="1.1" />
<line x1="114.50" y1="307.60" x2="114.50" y2="314.30" stroke="#666" stroke-width="1.1" />
<line x1="118.75" y1="307.60" x2="118.75" y2="314.30" stroke="#666" stroke-width="1.1" />
<line x1="123.00" y1="307.60" x2="123.00" y2="314.30" stroke="#666" stroke-width="1.1" />
<line x1="127.25" y1="307.60" x2="127.25" y2="314.30" stroke="#666" stroke-width="1.1" />
<line x1="131.50" y1="307.60" x2="131.50" y2="314.30" stroke="#666" stroke-width="1.1" />
<line x1="135.75" y1="307.60" x2="135.75" y2="314.30" stroke="#666" stroke-width="1.1" />
<line x1="140.00" y1="307.60" x2="140.00" y2="314.30" stroke="#666" stroke-width="1.1" />
<line x1="144.25" y1="307.60" x2="144.25" y2="314.30" stroke="#666" stroke-width="1.1" />
<line x1="44.20" y1="307.60" x2="53.40" y2="307.60" stroke="#1f7a45" stroke-width="1.5" />
<line x1="44.20" y1="314.30" x2="53.40" y2="314.30" stroke="#1f7a45" stroke-width="1.5" />
<line x1="53.40" y1="307.60" x2="66.90" y2="307.60" stroke="#2ba3de" stroke-width="1.5" />
<line x1="53.40" y1="314.30" x2="66.90" y2="314.30" stroke="#2ba3de" stroke-width="1.5" />
<line x1="66.90" y1="307.60" x2="126.50" y2="307.60" stroke="#e3318a" stroke-width="1.5" />
<line x1="66.90" y1="314.30" x2="126.50" y2="314.30" stroke="#e3318a" stroke-width="1.5" />
<line x1="126.50" y1="307.60" x2="138.20" y2="307.60" stroke="#2ba3de" stroke-width="1.5" />
<line x1="126.50" y1="314.30" x2="138.20" y2="314.30" stroke="#2ba3de" stroke-width="1.5" />
<line x1="138.20" y1="307.60" x2="147.40" y2="307.60" stroke="#6a2c91" stroke-width="1.5" />
<line x1="138.20" y1="314.30" x2="147.40" y2="314.30" stroke="#6a2c91" stroke-width="1.5" />
<line x1="44.60" y1="307.60" x2="44.60" y2="314.30" stroke="#1f7a45" stroke-width="1.2" />
<line x1="147.00" y1="307.60" x2="147.00" y2="314.30" stroke="#6a2c91" stroke-width="1.2" />
<text x="47.20" y="336.20" font-size="11" text-anchor="middle" font-weight="normal" font-style="normal" fill="#231f20" >Next generation</text>
<text x="47.20" y="348.70" font-size="11" text-anchor="middle" font-weight="normal" font-style="normal" fill="#231f20" >sequencing</text>
<line x1="95.70" y1="329.50" x2="95.70" y2="347.00" stroke="#231f20" stroke-width="1.1" />
<path d="M93.00,345.00 L95.70,347.20 L98.40,345.00 L95.70,352.00 Z" fill="#231f20"/>
<text x="85.70" y="455.70" font-size="11" text-anchor="end" font-weight="normal" font-style="normal" fill="#231f20" >Calculation</text>
<line x1="95.70" y1="445.00" x2="95.70" y2="457.00" stroke="#231f20" stroke-width="1.1" />
<path d="M93.00,455.00 L95.70,457.20 L98.40,455.00 L95.70,462.00 Z" fill="#231f20"/>
<text x="295.20" y="87.50" font-size="11" text-anchor="middle" font-weight="normal" font-style="normal" fill="#231f20" >Cross-linking and</text>
<text x="295.20" y="99.50" font-size="11" text-anchor="middle" font-weight="normal" font-style="normal" fill="#231f20" >sonication</text>
<line x1="248.60" y1="79.50" x2="248.60" y2="109.50" stroke="#231f20" stroke-width="1.1" />
<path d="M245.90,107.50 L248.60,109.70 L251.30,107.50 L248.60,114.50 Z" fill="#231f20"/>
<g transform="translate(212.58,132.58) rotate(-22.8)"><path d="M-3.40,-1.20 C0.00,-1.50 2.86,-0.48 3.40,1.20 C0.00,1.50 -2.86,0.48 -3.40,-1.20 Z" fill="#86705a" stroke="#c0a47c" stroke-width="0.7"/><path d="M-1.20,-0.54 L1.20,0.54" stroke="#efe9de" stroke-width="0.8" stroke-dasharray="1.1 1"/></g><g transform="translate(218.14,131.02) rotate(-9.2)"><path d="M-3.40,-1.60 C0.00,-1.90 2.86,-0.64 3.40,1.60 C0.00,1.90 -2.86,0.64 -3.40,-1.60 Z" fill="#86705a" stroke="#c0a47c" stroke-width="0.7"/><path d="M-1.20,-0.72 L1.20,0.72" stroke="#efe9de" stroke-width="0.8" stroke-dasharray="1.1 1"/></g><g transform="translate(223.91,130.53) rotate(-0.7)"><path d="M-3.40,-1.60 C0.00,-1.90 2.86,-0.64 3.40,1.60 C0.00,1.90 -2.86,0.64 -3.40,-1.60 Z" fill="#86705a" stroke="#c0a47c" stroke-width="0.7"/><path d="M-1.20,-0.72 L1.20,0.72" stroke="#efe9de" stroke-width="0.8" stroke-dasharray="1.1 1"/></g><g transform="translate(229.70,130.75) rotate(4.6)"><path d="M-3.40,-1.60 C0.00,-1.90 2.86,-0.64 3.40,1.60 C0.00,1.90 -2.86,0.64 -3.40,-1.60 Z" fill="#86705a" stroke="#c0a47c" stroke-width="0.7"/><path d="M-1.20,-0.72 L1.20,0.72" stroke="#efe9de" stroke-width="0.8" stroke-dasharray="1.1 1"/></g><g transform="translate(235.45,131.43) rotate(8.5)"><path d="M-3.40,-1.20 C0.00,-1.50 2.86,-0.48 3.40,1.20 C0.00,1.50 -2.86,0.48 -3.40,-1.20 Z" fill="#86705a" stroke="#c0a47c" stroke-width="0.7"/><path d="M-1.20,-0.54 L1.20,0.54" stroke="#efe9de" stroke-width="0.8" stroke-dasharray="1.1 1"/></g>
<polyline points="238.80,132.00 239.67,131.63 240.53,131.30 241.40,131.00 242.27,130.74 243.13,130.52 244.00,130.34 244.87,130.19 245.73,130.07 246.60,130.00 247.47,129.96 248.33,129.95 249.20,129.98 250.07,130.05 250.93,130.16 251.80,130.30 252.67,130.48 253.53,130.69 254.40,130.94 255.27,131.23 256.13,131.56 257.00,131.92 257.87,132.31 258.73,132.75 259.60,133.22 260.47,133.72 261.33,134.26 262.20,134.84 263.07,135.46 263.93,136.11 264.80,136.80" fill="none" stroke="#8f806c" stroke-width="1.0" stroke-linejoin="round" />
<polyline points="238.80,132.00 239.51,132.49 240.22,132.95 240.95,133.40 241.69,133.82 242.44,134.22 243.20,134.59 243.97,134.94 244.76,135.27 245.55,135.58 246.36,135.87 247.17,136.13 248.00,136.37 248.84,136.58 249.69,136.78 250.55,136.95 251.42,137.10 252.31,137.22 253.20,137.33 254.11,137.41 255.02,137.47 255.95,137.50 256.89,137.51 257.84,137.50 258.80,137.47 259.77,137.42 260.76,137.34 261.75,137.24 262.76,137.11 263.77,136.97 264.80,136.80" fill="none" stroke="#7d6f5e" stroke-width="1.0" stroke-linejoin="round" />
<ellipse cx="251.30" cy="138.00" rx="6.6" ry="4.9" fill="url(#polg)"/>
<polyline points="244.80,136.00 245.45,136.46 246.12,136.86 246.78,137.22 247.46,137.54 248.14,137.80 248.83,138.02 249.53,138.18 250.24,138.30 250.95,138.38 251.68,138.40 252.40,138.38 253.14,138.30 253.88,138.18 254.64,138.02 255.39,137.80 256.16,137.54 256.93,137.22 257.72,136.86 258.50,136.46 259.30,136.00" fill="none" stroke="#b0a080" stroke-width="0.8" stroke-linejoin="round" />
<g transform="translate(268.15,137.31) rotate(-0.2)"><path d="M-3.40,-1.20 C0.00,-1.50 2.86,-0.48 3.40,1.20 C0.00,1.50 -2.86,0.48 -3.40,-1.20 Z" fill="#86705a" stroke="#c0a47c" stroke-width="0.7"/><path d="M-1.20,-0.54 L1.20,0.54" stroke="#efe9de" stroke-width="0.8" stroke-dasharray="1.1 1"/></g><g transform="translate(274.44,136.11) rotate(-19.4)"><path d="M-3.40,-1.60 C0.00,-1.90 2.86,-0.64 3.40,1.60 C0.00,1.90 -2.86,0.64 -3.40,-1.60 Z" fill="#86705a" stroke="#c0a47c" stroke-width="0.7"/><path d="M-1.20,-0.72 L1.20,0.72" stroke="#efe9de" stroke-width="0.8" stroke-dasharray="1.1 1"/></g><g transform="translate(280.25,133.39) rotate(-29.4)"><path d="M-3.40,-1.60 C0.00,-1.90 2.86,-0.64 3.40,1.60 C0.00,1.90 -2.86,0.64 -3.40,-1.60 Z" fill="#86705a" stroke="#c0a47c" stroke-width="0.7"/><path d="M-1.20,-0.72 L1.20,0.72" stroke="#efe9de" stroke-width="0.8" stroke-dasharray="1.1 1"/></g><g transform="translate(285.67,129.92) rotate(-35.4)"><path d="M-3.40,-1.20 C0.00,-1.50 2.86,-0.48 3.40,1.20 C0.00,1.50 -2.86,0.48 -3.40,-1.20 Z" fill="#86705a" stroke="#c0a47c" stroke-width="0.7"/><path d="M-1.20,-0.54 L1.20,0.54" stroke="#efe9de" stroke-width="0.8" stroke-dasharray="1.1 1"/></g>
<path d="M251.30,137.70 L251.30,135.10 M251.30,137.70 L253.77,136.90 M251.30,137.70 L252.83,139.80 M251.30,137.70 L249.77,139.80 M251.30,137.70 L248.83,136.90" stroke="#e60012" stroke-width="1.4" stroke-linecap="butt" fill="none"/>
<g transform="translate(212.58,153.88) rotate(-22.8)"><path d="M-3.40,-1.20 C0.00,-1.50 2.86,-0.48 3.40,1.20 C0.00,1.50 -2.86,0.48 -3.40,-1.20 Z" fill="#86705a" stroke="#c0a47c" stroke-width="0.7"/><path d="M-1.20,-0.54 L1.20,0.54" stroke="#efe9de" stroke-width="0.8" stroke-dasharray="1.1 1"/></g><g transform="translate(218.14,152.32) rotate(-9.2)"><path d="M-3.40,-1.60 C0.00,-1.90 2.86,-0.64 3.40,1.60 C0.00,1.90 -2.86,0.64 -3.40,-1.60 Z" fill="#86705a" stroke="#c0a47c" stroke-width="0.7"/><path d="M-1.20,-0.72 L1.20,0.72" stroke="#efe9de" stroke-width="0.8" stroke-dasharray="1.1 1"/></g><g transform="translate(223.91,151.83) rotate(-0.7)"><path d="M-3.40,-1.60 C0.00,-1.90 2.86,-0.64 3.40,1.60 C0.00,1.90 -2.86,0.64 -3.40,-1.60 Z" fill="#86705a" stroke="#c0a47c" stroke-width="0.7"/><path d="M-1.20,-0.72 L1.20,0.72" stroke="#efe9de" stroke-width="0.8" stroke-dasharray="1.1 1"/></g><g transform="translate(229.70,152.05) rotate(4.6)"><path d="M-3.40,-1.60 C0.00,-1.90 2.86,-0.64 3.40,1.60 C0.00,1.90 -2.86,0.64 -3.40,-1.60 Z" fill="#86705a" stroke="#c0a47c" stroke-width="0.7"/><path d="M-1.20,-0.72 L1.20,0.72" stroke="#efe9de" stroke-width="0.8" stroke-dasharray="1.1 1"/></g><g transform="translate(235.45,152.73) rotate(8.5)"><path d="M-3.40,-1.20 C0.00,-1.50 2.86,-0.48 3.40,1.20 C0.00,1.50 -2.86,0.48 -3.40,-1.20 Z" fill="#86705a" stroke="#c0a47c" stroke-width="0.7"/><path d="M-1.20,-0.54 L1.20,0.54" stroke="#efe9de" stroke-width="0.8" stroke-dasharray="1.1 1"/></g>
<polyline points="238.80,153.30 239.67,152.93 240.53,152.60 241.40,152.30 242.27,152.04 243.13,151.82 244.00,151.64 244.87,151.49 245.73,151.37 246.60,151.30 247.47,151.26 248.33,151.25 249.20,151.28 250.07,151.35 250.93,151.46 251.80,151.60 252.67,151.78 253.53,151.99 254.40,152.24 255.27,152.53 256.13,152.86 257.00,153.22 257.87,153.61 258.73,154.05 259.60,154.52 260.47,155.02 261.33,155.56 262.20,156.14 263.07,156.76 263.93,157.41 264.80,158.10" fill="none" stroke="#8f806c" stroke-width="1.0" stroke-linejoin="round" />
<polyline points="238.80,153.30 239.51,153.79 240.22,154.25 240.95,154.70 241.69,155.12 242.44,155.52 243.20,155.89 243.97,156.24 244.76,156.57 245.55,156.88 246.36,157.17 247.17,157.43 248.00,157.67 248.84,157.88 249.69,158.08 250.55,158.25 251.42,158.40 252.31,158.52 253.20,158.63 254.11,158.71 255.02,158.77 255.95,158.80 256.89,158.81 257.84,158.80 258.80,158.77 259.77,158.72 260.76,158.64 261.75,158.54 262.76,158.41 263.77,158.27 264.80,158.10" fill="none" stroke="#7d6f5e" stroke-width="1.0" stroke-linejoin="round" />
<ellipse cx="251.30" cy="159.30" rx="6.6" ry="4.9" fill="url(#polg)"/>
<polyline points="244.80,157.30 245.45,157.76 246.12,158.16 246.78,158.52 247.46,158.84 248.14,159.10 248.83,159.32 249.53,159.48 250.24,159.60 250.95,159.68 251.68,159.70 252.40,159.68 253.14,159.60 253.88,159.48 254.64,159.32 255.39,159.10 256.16,158.84 256.93,158.52 257.72,158.16 258.50,157.76 259.30,157.30" fill="none" stroke="#b0a080" stroke-width="0.8" stroke-linejoin="round" />
<g transform="translate(268.15,158.61) rotate(-0.2)"><path d="M-3.40,-1.20 C0.00,-1.50 2.86,-0.48 3.40,1.20 C0.00,1.50 -2.86,0.48 -3.40,-1.20 Z" fill="#86705a" stroke="#c0a47c" stroke-width="0.7"/><path d="M-1.20,-0.54 L1.20,0.54" stroke="#efe9de" stroke-width="0.8" stroke-dasharray="1.1 1"/></g><g transform="translate(274.44,157.41) rotate(-19.4)"><path d="M-3.40,-1.60 C0.00,-1.90 2.86,-0.64 3.40,1.60 C0.00,1.90 -2.86,0.64 -3.40,-1.60 Z" fill="#86705a" stroke="#c0a47c" stroke-width="0.7"/><path d="M-1.20,-0.72 L1.20,0.72" stroke="#efe9de" stroke-width="0.8" stroke-dasharray="1.1 1"/></g><g transform="translate(280.25,154.69) rotate(-29.4)"><path d="M-3.40,-1.60 C0.00,-1.90 2.86,-0.64 3.40,1.60 C0.00,1.90 -2.86,0.64 -3.40,-1.60 Z" fill="#86705a" stroke="#c0a47c" stroke-width="0.7"/><path d="M-1.20,-0.72 L1.20,0.72" stroke="#efe9de" stroke-width="0.8" stroke-dasharray="1.1 1"/></g><g transform="translate(285.67,151.22) rotate(-35.4)"><path d="M-3.40,-1.20 C0.00,-1.50 2.86,-0.48 3.40,1.20 C0.00,1.50 -2.86,0.48 -3.40,-1.20 Z" fill="#86705a" stroke="#c0a47c" stroke-width="0.7"/><path d="M-1.20,-0.54 L1.20,0.54" stroke="#efe9de" stroke-width="0.8" stroke-dasharray="1.1 1"/></g>
<g transform="translate(217.20,179.50) rotate(0.0)"><path d="M-4.20,-1.72 C0.00,-2.02 3.53,-0.69 4.20,1.72 C0.00,2.02 -3.53,0.69 -4.20,-1.72 Z" fill="#7d624c" stroke="#c8aa7e" stroke-width="0.8"/><path d="M-2.00,-0.78 L2.00,0.78" stroke="#efe9de" stroke-width="0.8" stroke-dasharray="1.1 1"/></g><g transform="translate(224.54,179.50) rotate(0.0)"><path d="M-4.20,-2.30 C0.00,-2.60 3.53,-0.92 4.20,2.30 C0.00,2.60 -3.53,0.92 -4.20,-2.30 Z" fill="#7d624c" stroke="#c8aa7e" stroke-width="0.8"/><path d="M-2.00,-1.03 L2.00,1.03" stroke="#efe9de" stroke-width="0.8" stroke-dasharray="1.1 1"/></g><g transform="translate(231.89,179.50) rotate(0.0)"><path d="M-4.20,-2.30 C0.00,-2.60 3.53,-0.92 4.20,2.30 C0.00,2.60 -3.53,0.92 -4.20,-2.30 Z" fill="#7d624c" stroke="#c8aa7e" stroke-width="0.8"/><path d="M-2.00,-1.03 L2.00,1.03" stroke="#efe9de" stroke-width="0.8" stroke-dasharray="1.1 1"/></g><g transform="translate(239.23,179.50) rotate(0.0)"><path d="M-4.20,-2.30 C0.00,-2.60 3.53,-0.92 4.20,2.30 C0.00,2.60 -3.53,0.92 -4.20,-2.30 Z" fill="#7d624c" stroke="#c8aa7e" stroke-width="0.8"/><path d="M-2.00,-1.03 L2.00,1.03" stroke="#efe9de" stroke-width="0.8" stroke-dasharray="1.1 1"/></g><g transform="translate(246.58,179.50) rotate(0.0)"><path d="M-4.20,-2.30 C0.00,-2.60 3.53,-0.92 4.20,2.30 C0.00,2.60 -3.53,0.92 -4.20,-2.30 Z" fill="#7d624c" stroke="#c8aa7e" stroke-width="0.8"/><path d="M-2.00,-1.03 L2.00,1.03" stroke="#efe9de" stroke-width="0.8" stroke-dasharray="1.1 1"/></g><g transform="translate(253.92,179.50) rotate(0.0)"><path d="M-4.20,-2.30 C0.00,-2.60 3.53,-0.92 4.20,2.30 C0.00,2.60 -3.53,0.92 -4.20,-2.30 Z" fill="#7d624c" stroke="#c8aa7e" stroke-width="0.8"/><path d="M-2.00,-1.03 L2.00,1.03" stroke="#efe9de" stroke-width="0.8" stroke-dasharray="1.1 1"/></g><g transform="translate(261.27,179.50) rotate(0.0)"><path d="M-4.20,-2.30 C0.00,-2.60 3.53,-0.92 4.20,2.30 C0.00,2.60 -3.53,0.92 -4.20,-2.30 Z" fill="#7d624c" stroke="#c8aa7e" stroke-width="0.8"/><path d="M-2.00,-1.03 L2.00,1.03" stroke="#efe9de" stroke-width="0.8" stroke-dasharray="1.1 1"/></g><g transform="translate(268.61,179.50) rotate(0.0)"><path d="M-4.20,-2.30 C0.00,-2.60 3.53,-0.92 4.20,2.30 C0.00,2.60 -3.53,0.92 -4.20,-2.30 Z" fill="#7d624c" stroke="#c8aa7e" stroke-width="0.8"/><path d="M-2.00,-1.03 L2.00,1.03" stroke="#efe9de" stroke-width="0.8" stroke-dasharray="1.1 1"/></g><g transform="translate(275.96,179.50) rotate(0.0)"><path d="M-4.20,-2.30 C0.00,-2.60 3.53,-0.92 4.20,2.30 C0.00,2.60 -3.53,0.92 -4.20,-2.30 Z" fill="#7d624c" stroke="#c8aa7e" stroke-width="0.8"/><path d="M-2.00,-1.03 L2.00,1.03" stroke="#efe9de" stroke-width="0.8" stroke-dasharray="1.1 1"/></g><g transform="translate(283.30,179.50) rotate(0.0)"><path d="M-4.20,-1.72 C0.00,-2.02 3.53,-0.69 4.20,1.72 C0.00,2.02 -3.53,0.69 -4.20,-1.72 Z" fill="#7d624c" stroke="#c8aa7e" stroke-width="0.8"/><path d="M-2.00,-0.78 L2.00,0.78" stroke="#efe9de" stroke-width="0.8" stroke-dasharray="1.1 1"/></g>
<path d="M248.50,178.50 L248.50,174.50 M248.50,178.50 L252.30,177.26 M248.50,178.50 L250.85,181.74 M248.50,178.50 L246.15,181.74 M248.50,178.50 L244.70,177.26" stroke="#e60012" stroke-width="1.8" stroke-linecap="butt" fill="none"/>
<g transform="translate(217.20,200.50) rotate(0.0)"><path d="M-4.20,-1.72 C0.00,-2.02 3.53,-0.69 4.20,1.72 C0.00,2.02 -3.53,0.69 -4.20,-1.72 Z" fill="#7d624c" stroke="#c8aa7e" stroke-width="0.8"/><path d="M-2.00,-0.78 L2.00,0.78" stroke="#efe9de" stroke-width="0.8" stroke-dasharray="1.1 1"/></g><g transform="translate(224.54,200.50) rotate(0.0)"><path d="M-4.20,-2.30 C0.00,-2.60 3.53,-0.92 4.20,2.30 C0.00,2.60 -3.53,0.92 -4.20,-2.30 Z" fill="#7d624c" stroke="#c8aa7e" stroke-width="0.8"/><path d="M-2.00,-1.03 L2.00,1.03" stroke="#efe9de" stroke-width="0.8" stroke-dasharray="1.1 1"/></g><g transform="translate(231.89,200.50) rotate(0.0)"><path d="M-4.20,-2.30 C0.00,-2.60 3.53,-0.92 4.20,2.30 C0.00,2.60 -3.53,0.92 -4.20,-2.30 Z" fill="#7d624c" stroke="#c8aa7e" stroke-width="0.8"/><path d="M-2.00,-1.03 L2.00,1.03" stroke="#efe9de" stroke-width="0.8" stroke-dasharray="1.1 1"/></g><g transform="translate(239.23,200.50) rotate(0.0)"><path d="M-4.20,-2.30 C0.00,-2.60 3.53,-0.92 4.20,2.30 C0.00,2.60 -3.53,0.92 -4.20,-2.30 Z" fill="#7d624c" stroke="#c8aa7e" stroke-width="0.8"/><path d="M-2.00,-1.03 L2.00,1.03" stroke="#efe9de" stroke-width="0.8" stroke-dasharray="1.1 1"/></g><g transform="translate(246.58,200.50) rotate(0.0)"><path d="M-4.20,-2.30 C0.00,-2.60 3.53,-0.92 4.20,2.30 C0.00,2.60 -3.53,0.92 -4.20,-2.30 Z" fill="#7d624c" stroke="#c8aa7e" stroke-width="0.8"/><path d="M-2.00,-1.03 L2.00,1.03" stroke="#efe9de" stroke-width="0.8" stroke-dasharray="1.1 1"/></g><g transform="translate(253.92,200.50) rotate(0.0)"><path d="M-4.20,-2.30 C0.00,-2.60 3.53,-0.92 4.20,2.30 C0.00,2.60 -3.53,0.92 -4.20,-2.30 Z" fill="#7d624c" stroke="#c8aa7e" stroke-width="0.8"/><path d="M-2.00,-1.03 L2.00,1.03" stroke="#efe9de" stroke-width="0.8" stroke-dasharray="1.1 1"/></g><g transform="translate(261.27,200.50) rotate(0.0)"><path d="M-4.20,-2.30 C0.00,-2.60 3.53,-0.92 4.20,2.30 C0.00,2.60 -3.53,0.92 -4.20,-2.30 Z" fill="#7d624c" stroke="#c8aa7e" stroke-width="0.8"/><path d="M-2.00,-1.03 L2.00,1.03" stroke="#efe9de" stroke-width="0.8" stroke-dasharray="1.1 1"/></g><g transform="translate(268.61,200.50) rotate(0.0)"><path d="M-4.20,-2.30 C0.00,-2.60 3.53,-0.92 4.20,2.30 C0.00,2.60 -3.53,0.92 -4.20,-2.30 Z" fill="#7d624c" stroke="#c8aa7e" stroke-width="0.8"/><path d="M-2.00,-1.03 L2.00,1.03" stroke="#efe9de" stroke-width="0.8" stroke-dasharray="1.1 1"/></g><g transform="translate(275.96,200.50) rotate(0.0)"><path d="M-4.20,-2.30 C0.00,-2.60 3.53,-0.92 4.20,2.30 C0.00,2.60 -3.53,0.92 -4.20,-2.30 Z" fill="#7d624c" stroke="#c8aa7e" stroke-width="0.8"/><path d="M-2.00,-1.03 L2.00,1.03" stroke="#efe9de" stroke-width="0.8" stroke-dasharray="1.1 1"/></g><g transform="translate(283.30,200.50) rotate(0.0)"><path d="M-4.20,-1.72 C0.00,-2.02 3.53,-0.69 4.20,1.72 C0.00,2.02 -3.53,0.69 -4.20,-1.72 Z" fill="#7d624c" stroke="#c8aa7e" stroke-width="0.8"/><path d="M-2.00,-0.78 L2.00,0.78" stroke="#efe9de" stroke-width="0.8" stroke-dasharray="1.1 1"/></g>
<text x="255.50" y="238.00" font-size="11" text-anchor="start" font-weight="normal" font-style="normal" fill="#231f20" >ChIP</text>
<line x1="248.60" y1="221.00" x2="248.60" y2="252.00" stroke="#231f20" stroke-width="1.1" />
<path d="M245.90,250.00 L248.60,252.20 L251.30,250.00 L248.60,257.00 Z" fill="#231f20"/>
<g transform="translate(212.98,274.58) rotate(-22.8)"><path d="M-3.40,-1.20 C0.00,-1.50 2.86,-0.48 3.40,1.20 C0.00,1.50 -2.86,0.48 -3.40,-1.20 Z" fill="#86705a" stroke="#c0a47c" stroke-width="0.7"/><path d="M-1.20,-0.54 L1.20,0.54" stroke="#efe9de" stroke-width="0.8" stroke-dasharray="1.1 1"/></g><g transform="translate(218.54,273.02) rotate(-9.2)"><path d="M-3.40,-1.60 C0.00,-1.90 2.86,-0.64 3.40,1.60 C0.00,1.90 -2.86,0.64 -3.40,-1.60 Z" fill="#86705a" stroke="#c0a47c" stroke-width="0.7"/><path d="M-1.20,-0.72 L1.20,0.72" stroke="#efe9de" stroke-width="0.8" stroke-dasharray="1.1 1"/></g><g transform="translate(224.31,272.53) rotate(-0.7)"><path d="M-3.40,-1.60 C0.00,-1.90 2.86,-0.64 3.40,1.60 C0.00,1.90 -2.86,0.64 -3.40,-1.60 Z" fill="#86705a" stroke="#c0a47c" stroke-width="0.7"/><path d="M-1.20,-0.72 L1.20,0.72" stroke="#efe9de" stroke-width="0.8" stroke-dasharray="1.1 1"/></g><g transform="translate(230.10,272.75) rotate(4.6)"><path d="M-3.40,-1.60 C0.00,-1.90 2.86,-0.64 3.40,1.60 C0.00,1.90 -2.86,0.64 -3.40,-1.60 Z" fill="#86705a" stroke="#c0a47c" stroke-width="0.7"/><path d="M-1.20,-0.72 L1.20,0.72" stroke="#efe9de" stroke-width="0.8" stroke-dasharray="1.1 1"/></g><g transform="translate(235.85,273.43) rotate(8.5)"><path d="M-3.40,-1.20 C0.00,-1.50 2.86,-0.48 3.40,1.20 C0.00,1.50 -2.86,0.48 -3.40,-1.20 Z" fill="#86705a" stroke="#c0a47c" stroke-width="0.7"/><path d="M-1.20,-0.54 L1.20,0.54" stroke="#efe9de" stroke-width="0.8" stroke-dasharray="1.1 1"/></g>
<polyline points="239.20,274.00 240.07,273.63 240.93,273.30 241.80,273.00 242.67,272.74 243.53,272.52 244.40,272.34 245.27,272.19 246.13,272.07 247.00,272.00 247.87,271.96 248.73,271.95 249.60,271.98 250.47,272.05 251.33,272.16 252.20,272.30 253.07,272.48 253.93,272.69 254.80,272.94 255.67,273.23 256.53,273.56 257.40,273.92 258.27,274.31 259.13,274.75 260.00,275.22 260.87,275.72 261.73,276.26 262.60,276.84 263.47,277.46 264.33,278.11 265.20,278.80" fill="none" stroke="#8f806c" stroke-width="1.0" stroke-linejoin="round" />
<polyline points="239.20,274.00 239.91,274.49 240.62,274.95 241.35,275.40 242.09,275.82 242.84,276.22 243.60,276.59 244.37,276.94 245.16,277.27 245.95,277.58 246.76,277.87 247.57,278.13 248.40,278.37 249.24,278.58 250.09,278.78 250.95,278.95 251.82,279.10 252.71,279.22 253.60,279.33 254.51,279.41 255.42,279.47 256.35,279.50 257.29,279.51 258.24,279.50 259.20,279.47 260.17,279.42 261.16,279.34 262.15,279.24 263.16,279.11 264.17,278.97 265.20,278.80" fill="none" stroke="#7d6f5e" stroke-width="1.0" stroke-linejoin="round" />
<ellipse cx="251.70" cy="280.00" rx="6.6" ry="4.9" fill="url(#polg)"/>
<polyline points="245.20,278.00 245.85,278.46 246.52,278.86 247.18,279.22 247.86,279.54 248.54,279.80 249.23,280.02 249.93,280.18 250.64,280.30 251.35,280.38 252.07,280.40 252.80,280.38 253.54,280.30 254.28,280.18 255.03,280.02 255.79,279.80 256.56,279.54 257.33,279.22 258.12,278.86 258.90,278.46 259.70,278.00" fill="none" stroke="#b0a080" stroke-width="0.8" stroke-linejoin="round" />
<g transform="translate(268.55,279.31) rotate(-0.2)"><path d="M-3.40,-1.20 C0.00,-1.50 2.86,-0.48 3.40,1.20 C0.00,1.50 -2.86,0.48 -3.40,-1.20 Z" fill="#86705a" stroke="#c0a47c" stroke-width="0.7"/><path d="M-1.20,-0.54 L1.20,0.54" stroke="#efe9de" stroke-width="0.8" stroke-dasharray="1.1 1"/></g><g transform="translate(274.84,278.11) rotate(-19.4)"><path d="M-3.40,-1.60 C0.00,-1.90 2.86,-0.64 3.40,1.60 C0.00,1.90 -2.86,0.64 -3.40,-1.60 Z" fill="#86705a" stroke="#c0a47c" stroke-width="0.7"/><path d="M-1.20,-0.72 L1.20,0.72" stroke="#efe9de" stroke-width="0.8" stroke-dasharray="1.1 1"/></g><g transform="translate(280.65,275.39) rotate(-29.4)"><path d="M-3.40,-1.60 C0.00,-1.90 2.86,-0.64 3.40,1.60 C0.00,1.90 -2.86,0.64 -3.40,-1.60 Z" fill="#86705a" stroke="#c0a47c" stroke-width="0.7"/><path d="M-1.20,-0.72 L1.20,0.72" stroke="#efe9de" stroke-width="0.8" stroke-dasharray="1.1 1"/></g><g transform="translate(286.07,271.92) rotate(-35.4)"><path d="M-3.40,-1.20 C0.00,-1.50 2.86,-0.48 3.40,1.20 C0.00,1.50 -2.86,0.48 -3.40,-1.20 Z" fill="#86705a" stroke="#c0a47c" stroke-width="0.7"/><path d="M-1.20,-0.54 L1.20,0.54" stroke="#efe9de" stroke-width="0.8" stroke-dasharray="1.1 1"/></g>
<path d="M251.70,279.70 L251.70,277.10 M251.70,279.70 L254.17,278.90 M251.70,279.70 L253.23,281.80 M251.70,279.70 L250.17,281.80 M251.70,279.70 L249.23,278.90" stroke="#e60012" stroke-width="1.4" stroke-linecap="butt" fill="none"/>
<g transform="translate(212.98,303.08) rotate(-22.8)"><path d="M-3.40,-1.20 C0.00,-1.50 2.86,-0.48 3.40,1.20 C0.00,1.50 -2.86,0.48 -3.40,-1.20 Z" fill="#86705a" stroke="#c0a47c" stroke-width="0.7"/><path d="M-1.20,-0.54 L1.20,0.54" stroke="#efe9de" stroke-width="0.8" stroke-dasharray="1.1 1"/></g><g transform="translate(218.54,301.52) rotate(-9.2)"><path d="M-3.40,-1.60 C0.00,-1.90 2.86,-0.64 3.40,1.60 C0.00,1.90 -2.86,0.64 -3.40,-1.60 Z" fill="#86705a" stroke="#c0a47c" stroke-width="0.7"/><path d="M-1.20,-0.72 L1.20,0.72" stroke="#efe9de" stroke-width="0.8" stroke-dasharray="1.1 1"/></g><g transform="translate(224.31,301.03) rotate(-0.7)"><path d="M-3.40,-1.60 C0.00,-1.90 2.86,-0.64 3.40,1.60 C0.00,1.90 -2.86,0.64 -3.40,-1.60 Z" fill="#86705a" stroke="#c0a47c" stroke-width="0.7"/><path d="M-1.20,-0.72 L1.20,0.72" stroke="#efe9de" stroke-width="0.8" stroke-dasharray="1.1 1"/></g><g transform="translate(230.10,301.25) rotate(4.6)"><path d="M-3.40,-1.60 C0.00,-1.90 2.86,-0.64 3.40,1.60 C0.00,1.90 -2.86,0.64 -3.40,-1.60 Z" fill="#86705a" stroke="#c0a47c" stroke-width="0.7"/><path d="M-1.20,-0.72 L1.20,0.72" stroke="#efe9de" stroke-width="0.8" stroke-dasharray="1.1 1"/></g><g transform="translate(235.85,301.93) rotate(8.5)"><path d="M-3.40,-1.20 C0.00,-1.50 2.86,-0.48 3.40,1.20 C0.00,1.50 -2.86,0.48 -3.40,-1.20 Z" fill="#86705a" stroke="#c0a47c" stroke-width="0.7"/><path d="M-1.20,-0.54 L1.20,0.54" stroke="#efe9de" stroke-width="0.8" stroke-dasharray="1.1 1"/></g>
<polyline points="239.20,302.50 240.07,302.13 240.93,301.80 241.80,301.50 242.67,301.24 243.53,301.02 244.40,300.84 245.27,300.69 246.13,300.57 247.00,300.50 247.87,300.46 248.73,300.45 249.60,300.48 250.47,300.55 251.33,300.66 252.20,300.80 253.07,300.98 253.93,301.19 254.80,301.44 255.67,301.73 256.53,302.06 257.40,302.42 258.27,302.81 259.13,303.25 260.00,303.72 260.87,304.22 261.73,304.76 262.60,305.34 263.47,305.96 264.33,306.61 265.20,307.30" fill="none" stroke="#8f806c" stroke-width="1.0" stroke-linejoin="round" />
<polyline points="239.20,302.50 239.91,302.99 240.62,303.45 241.35,303.90 242.09,304.32 242.84,304.72 243.60,305.09 244.37,305.44 245.16,305.77 245.95,306.08 246.76,306.37 247.57,306.63 248.40,306.87 249.24,307.08 250.09,307.28 250.95,307.45 251.82,307.60 252.71,307.72 253.60,307.83 254.51,307.91 255.42,307.97 256.35,308.00 257.29,308.01 258.24,308.00 259.20,307.97 260.17,307.92 261.16,307.84 262.15,307.74 263.16,307.61 264.17,307.47 265.20,307.30" fill="none" stroke="#7d6f5e" stroke-width="1.0" stroke-linejoin="round" />
<ellipse cx="251.70" cy="308.50" rx="6.6" ry="4.9" fill="url(#polg)"/>
<polyline points="245.20,306.50 245.85,306.96 246.52,307.36 247.18,307.72 247.86,308.04 248.54,308.30 249.23,308.52 249.93,308.68 250.64,308.80 251.35,308.88 252.07,308.90 252.80,308.88 253.54,308.80 254.28,308.68 255.03,308.52 255.79,308.30 256.56,308.04 257.33,307.72 258.12,307.36 258.90,306.96 259.70,306.50" fill="none" stroke="#b0a080" stroke-width="0.8" stroke-linejoin="round" />
<g transform="translate(268.55,307.81) rotate(-0.2)"><path d="M-3.40,-1.20 C0.00,-1.50 2.86,-0.48 3.40,1.20 C0.00,1.50 -2.86,0.48 -3.40,-1.20 Z" fill="#86705a" stroke="#c0a47c" stroke-width="0.7"/><path d="M-1.20,-0.54 L1.20,0.54" stroke="#efe9de" stroke-width="0.8" stroke-dasharray="1.1 1"/></g><g transform="translate(274.84,306.61) rotate(-19.4)"><path d="M-3.40,-1.60 C0.00,-1.90 2.86,-0.64 3.40,1.60 C0.00,1.90 -2.86,0.64 -3.40,-1.60 Z" fill="#86705a" stroke="#c0a47c" stroke-width="0.7"/><path d="M-1.20,-0.72 L1.20,0.72" stroke="#efe9de" stroke-width="0.8" stroke-dasharray="1.1 1"/></g><g transform="translate(280.65,303.89) rotate(-29.4)"><path d="M-3.40,-1.60 C0.00,-1.90 2.86,-0.64 3.40,1.60 C0.00,1.90 -2.86,0.64 -3.40,-1.60 Z" fill="#86705a" stroke="#c0a47c" stroke-width="0.7"/><path d="M-1.20,-0.72 L1.20,0.72" stroke="#efe9de" stroke-width="0.8" stroke-dasharray="1.1 1"/></g><g transform="translate(286.07,300.42) rotate(-35.4)"><path d="M-3.40,-1.20 C0.00,-1.50 2.86,-0.48 3.40,1.20 C0.00,1.50 -2.86,0.48 -3.40,-1.20 Z" fill="#86705a" stroke="#c0a47c" stroke-width="0.7"/><path d="M-1.20,-0.54 L1.20,0.54" stroke="#efe9de" stroke-width="0.8" stroke-dasharray="1.1 1"/></g>
<text x="251.20" y="341.70" font-size="11" text-anchor="start" font-weight="normal" font-style="normal" fill="#231f20" >DNA purification</text>
<line x1="248.60" y1="323.70" x2="248.60" y2="354.50" stroke="#231f20" stroke-width="1.1" />
<path d="M245.90,352.50 L248.60,354.70 L251.30,352.50 L248.60,359.50 Z" fill="#231f20"/>
<line x1="216.40" y1="376.80" x2="216.40" y2="382.00" stroke="#555" stroke-width="1.1" />
<line x1="221.15" y1="376.80" x2="221.15" y2="382.00" stroke="#555" stroke-width="1.1" />
<line x1="225.90" y1="376.80" x2="225.90" y2="382.00" stroke="#555" stroke-width="1.1" />
<line x1="230.65" y1="376.80" x2="230.65" y2="382.00" stroke="#555" stroke-width="1.1" />
<line x1="235.40" y1="376.80" x2="235.40" y2="382.00" stroke="#555" stroke-width="1.1" />
<line x1="240.15" y1="376.80" x2="240.15" y2="382.00" stroke="#555" stroke-width="1.1" />
<line x1="244.90" y1="376.80" x2="244.90" y2="382.00" stroke="#555" stroke-width="1.1" />
<line x1="249.65" y1="376.80" x2="249.65" y2="382.00" stroke="#555" stroke-width="1.1" />
<line x1="254.40" y1="376.80" x2="254.40" y2="382.00" stroke="#555" stroke-width="1.1" />
<line x1="259.15" y1="376.80" x2="259.15" y2="382.00" stroke="#555" stroke-width="1.1" />
<line x1="263.90" y1="376.80" x2="263.90" y2="382.00" stroke="#555" stroke-width="1.1" />
<line x1="268.65" y1="376.80" x2="268.65" y2="382.00" stroke="#555" stroke-width="1.1" />
<line x1="273.40" y1="376.80" x2="273.40" y2="382.00" stroke="#555" stroke-width="1.1" />
<line x1="278.15" y1="376.80" x2="278.15" y2="382.00" stroke="#555" stroke-width="1.1" />
<line x1="282.90" y1="376.80" x2="282.90" y2="382.00" stroke="#555" stroke-width="1.1" />
<line x1="213.00" y1="376.80" x2="284.80" y2="376.80" stroke="#c8a071" stroke-width="1.7" />
<line x1="213.00" y1="382.00" x2="284.80" y2="382.00" stroke="#c8a071" stroke-width="1.7" />
<line x1="216.40" y1="396.60" x2="216.40" y2="401.80" stroke="#555" stroke-width="1.1" />
<line x1="221.15" y1="396.60" x2="221.15" y2="401.80" stroke="#555" stroke-width="1.1" />
<line x1="225.90" y1="396.60" x2="225.90" y2="401.80" stroke="#555" stroke-width="1.1" />
<line x1="230.65" y1="396.60" x2="230.65" y2="401.80" stroke="#555" stroke-width="1.1" />
<line x1="235.40" y1="396.60" x2="235.40" y2="401.80" stroke="#555" stroke-width="1.1" />
<line x1="240.15" y1="396.60" x2="240.15" y2="401.80" stroke="#555" stroke-width="1.1" />
<line x1="244.90" y1="396.60" x2="244.90" y2="401.80" stroke="#555" stroke-width="1.1" />
<line x1="249.65" y1="396.60" x2="249.65" y2="401.80" stroke="#555" stroke-width="1.1" />
<line x1="254.40" y1="396.60" x2="254.40" y2="401.80" stroke="#555" stroke-width="1.1" />
<line x1="259.15" y1="396.60" x2="259.15" y2="401.80" stroke="#555" stroke-width="1.1" />
<line x1="263.90" y1="396.60" x2="263.90" y2="401.80" stroke="#555" stroke-width="1.1" />
<line x1="268.65" y1="396.60" x2="268.65" y2="401.80" stroke="#555" stroke-width="1.1" />
<line x1="273.40" y1="396.60" x2="273.40" y2="401.80" stroke="#555" stroke-width="1.1" />
<line x1="278.15" y1="396.60" x2="278.15" y2="401.80" stroke="#555" stroke-width="1.1" />
<line x1="282.90" y1="396.60" x2="282.90" y2="401.80" stroke="#555" stroke-width="1.1" />
<line x1="213.00" y1="396.60" x2="284.80" y2="396.60" stroke="#c8a071" stroke-width="1.7" />
<line x1="213.00" y1="401.80" x2="284.80" y2="401.80" stroke="#c8a071" stroke-width="1.7" />
<path d="M243.70,375.70 L243.70,371.70 M243.70,375.70 L247.50,374.46 M243.70,375.70 L246.05,378.94 M243.70,375.70 L241.35,378.94 M243.70,375.70 L239.90,374.46" stroke="#e60012" stroke-width="1.8" stroke-linecap="butt" fill="none"/>
<line x1="248.60" y1="416.00" x2="248.60" y2="446.00" stroke="#231f20" stroke-width="1.1" />
<path d="M245.90,444.00 L248.60,446.20 L251.30,444.00 L248.60,451.00 Z" fill="#231f20"/>
<rect x="256.7" y="421.2" width="76.3" height="19.3" fill="#1265a0"/>
<text x="294.85" y="434.40" font-size="11" text-anchor="middle" font-weight="bold" font-style="normal" fill="#fff" >Damage-seq</text>
<polyline points="26.30,385.08 26.73,384.52 27.17,382.64 27.60,385.46 28.04,385.20 28.47,385.52 28.90,384.88 29.34,384.68 29.77,385.80 30.20,384.07 30.64,384.20 31.07,384.73 31.51,385.15 31.94,385.25 32.37,386.31 32.81,384.57 33.24,385.81 33.67,385.45 34.11,384.32 34.54,385.76 34.98,385.46 35.41,384.42 35.84,383.66 36.28,385.59 36.71,384.23 37.14,385.56 37.58,384.78 38.01,384.70 38.45,385.93 38.88,384.29 39.31,383.71 39.75,385.03 40.18,384.86 40.61,385.96 41.05,383.72 41.48,385.02 41.92,386.03 42.35,386.48 42.78,390.15 43.22,391.55 43.65,394.62 44.08,390.08 44.52,387.56 44.95,387.82 45.39,385.94 45.82,385.41 46.25,384.93 46.69,383.61 47.12,382.45 47.55,384.32 47.99,383.22 48.42,384.92 48.86,382.40 49.29,383.62 49.72,384.09 50.16,382.40 50.59,383.64 51.02,382.52 51.46,382.74 51.89,382.30 52.33,384.16 52.76,383.51 53.19,383.28 53.63,383.70 54.06,382.40 54.49,384.10 54.93,382.80 55.36,382.52 55.80,385.03 56.23,384.29 56.66,384.24 57.10,383.97 57.53,383.26 57.96,383.69 58.40,383.50 58.83,383.90 59.27,383.62 59.70,383.19 60.13,382.99 60.57,384.15 61.00,383.64 61.43,384.13 61.87,383.69 62.30,384.64 62.73,382.83 63.17,383.05 63.60,383.65 64.04,384.07 64.47,383.90 64.90,384.06 65.34,384.72 65.77,382.32 66.20,381.07 66.64,384.49 67.07,384.44 67.51,383.12 67.94,383.10 68.37,384.75 68.81,385.01 69.24,383.15 69.67,385.06 70.11,382.48 70.54,383.93 70.98,383.49 71.41,383.56 71.84,383.98 72.28,383.66 72.71,383.78 73.15,382.61 73.58,383.63 74.01,383.58 74.45,383.96 74.88,384.04 75.31,384.11 75.75,383.55 76.18,382.17 76.62,382.71 77.05,383.38 77.48,382.29 77.92,382.79 78.35,383.40 78.78,383.68 79.22,384.39 79.65,383.37 80.09,383.79 80.52,384.75 80.95,384.53 81.39,382.09 81.82,383.39 82.25,383.18 82.69,383.40 83.12,383.91 83.56,383.21 83.99,382.74 84.42,383.79 84.86,383.17 85.29,382.78 85.72,383.92 86.16,383.43 86.59,384.12 87.03,383.10 87.46,383.83 87.89,382.69 88.33,384.13 88.76,382.28 89.19,383.79 89.63,384.19 90.06,384.24 90.50,383.05 90.93,384.20 91.36,382.19 91.80,382.59 92.23,383.16 92.66,384.63 93.10,383.57 93.53,384.11 93.97,384.93 94.40,383.23 94.83,381.89 95.27,383.96 95.70,382.94" fill="none" stroke="#86c586" stroke-width="1.8" stroke-linejoin="round" />
<polyline points="26.30,384.48 26.73,386.17 27.17,385.70 27.60,385.24 28.04,385.09 28.47,386.31 28.90,385.28 29.34,385.53 29.77,384.73 30.20,386.66 30.64,385.87 31.07,385.83 31.51,385.69 31.94,384.90 32.37,385.92 32.81,383.38 33.24,385.98 33.67,384.81 34.11,384.68 34.54,384.72 34.98,385.60 35.41,386.07 35.84,385.64 36.28,384.94 36.71,385.36 37.14,385.01 37.58,385.01 38.01,386.12 38.45,386.15 38.88,384.36 39.31,385.81 39.75,386.65 40.18,384.04 40.61,386.08 41.05,386.15 41.48,384.72 41.92,388.40 42.35,390.83 42.78,392.01 43.22,396.15 43.65,396.79 44.08,396.25 44.52,391.82 44.95,391.13 45.39,388.56 45.82,386.46 46.25,385.46 46.69,385.47 47.12,384.91 47.55,384.11 47.99,385.46 48.42,385.20 48.86,386.09 49.29,383.37 49.72,384.57 50.16,384.53 50.59,384.57 51.02,383.77 51.46,384.29 51.89,383.89 52.33,384.66 52.76,384.63 53.19,384.58 53.63,385.96 54.06,383.73 54.49,385.75 54.93,385.31 55.36,384.05 55.80,384.52 56.23,383.95 56.66,383.28 57.10,383.16 57.53,383.53 57.96,384.75 58.40,383.03 58.83,385.25 59.27,384.66 59.70,383.84 60.13,384.76 60.57,384.69 61.00,384.87 61.43,383.58 61.87,386.48 62.30,383.65 62.73,383.82 63.17,384.68 63.60,384.20 64.04,385.36 64.47,383.79 64.90,382.32 65.34,385.33 65.77,383.59 66.20,384.69 66.64,384.90 67.07,385.02 67.51,384.80 67.94,385.61 68.37,385.69 68.81,383.41 69.24,384.68 69.67,384.26 70.11,384.44 70.54,384.32 70.98,385.84 71.41,385.40 71.84,384.21 72.28,383.94 72.71,385.56 73.15,385.14 73.58,385.51 74.01,384.21 74.45,384.45 74.88,384.69 75.31,385.21 75.75,384.46 76.18,384.70 76.62,385.29 77.05,384.48 77.48,385.24 77.92,384.02 78.35,384.27 78.78,385.27 79.22,384.30 79.65,384.70 80.09,385.29 80.52,385.45 80.95,386.02 81.39,385.62 81.82,384.51 82.25,383.86 82.69,385.25 83.12,384.66 83.56,384.52 83.99,384.20 84.42,384.46 84.86,383.87 85.29,384.22 85.72,385.38 86.16,384.50 86.59,386.58 87.03,384.95 87.46,384.80 87.89,384.38 88.33,385.05 88.76,384.19 89.19,383.83 89.63,385.47 90.06,385.25 90.50,384.64 90.93,384.47 91.36,384.74 91.80,384.22 92.23,385.75 92.66,384.27 93.10,383.98 93.53,384.02 93.97,384.54 94.40,385.05 94.83,384.57 95.27,384.93 95.70,386.08" fill="none" stroke="#17693a" stroke-width="1.8" stroke-linejoin="round" />
<rect x="26.3" y="370.6" width="69.40" height="47.00" fill="none" stroke="#231f20" stroke-width="1.1"/>
<line x1="24.10" y1="417.60" x2="26.30" y2="417.60" stroke="#231f20" stroke-width="0.9" />
<text x="23.20" y="420.80" font-size="9.0" text-anchor="end" font-weight="normal" font-style="normal" fill="#231f20" textLength="13" lengthAdjust="spacingAndGlyphs">0.0</text>
<line x1="24.90" y1="412.87" x2="26.30" y2="412.87" stroke="#231f20" stroke-width="0.9" />
<line x1="24.90" y1="408.14" x2="26.30" y2="408.14" stroke="#231f20" stroke-width="0.9" />
<line x1="24.90" y1="403.41" x2="26.30" y2="403.41" stroke="#231f20" stroke-width="0.9" />
<line x1="24.10" y1="398.69" x2="26.30" y2="398.69" stroke="#231f20" stroke-width="0.9" />
<text x="23.20" y="401.89" font-size="9.0" text-anchor="end" font-weight="normal" font-style="normal" fill="#231f20" textLength="13" lengthAdjust="spacingAndGlyphs">0.1</text>
<line x1="24.90" y1="393.96" x2="26.30" y2="393.96" stroke="#231f20" stroke-width="0.9" />
<line x1="24.90" y1="389.23" x2="26.30" y2="389.23" stroke="#231f20" stroke-width="0.9" />
<line x1="24.90" y1="384.50" x2="26.30" y2="384.50" stroke="#231f20" stroke-width="0.9" />
<line x1="24.10" y1="379.77" x2="26.30" y2="379.77" stroke="#231f20" stroke-width="0.9" />
<text x="23.20" y="382.97" font-size="9.0" text-anchor="end" font-weight="normal" font-style="normal" fill="#231f20" textLength="13" lengthAdjust="spacingAndGlyphs">0.2</text>
<line x1="24.90" y1="375.04" x2="26.30" y2="375.04" stroke="#231f20" stroke-width="0.9" />
<line x1="26.30" y1="417.60" x2="26.30" y2="420.10" stroke="#231f20" stroke-width="0.9" />
<line x1="43.65" y1="417.60" x2="43.65" y2="420.10" stroke="#231f20" stroke-width="0.9" />
<line x1="61.00" y1="417.60" x2="61.00" y2="420.10" stroke="#231f20" stroke-width="0.9" />
<line x1="78.35" y1="417.60" x2="78.35" y2="420.10" stroke="#231f20" stroke-width="0.9" />
<line x1="95.70" y1="417.60" x2="95.70" y2="420.10" stroke="#231f20" stroke-width="0.9" />
<text x="24.40" y="428.80" font-size="9.3" text-anchor="middle" font-weight="normal" font-style="normal" fill="#231f20" textLength="13.7" lengthAdjust="spacingAndGlyphs">-10</text>
<text x="43.20" y="428.80" font-size="9.3" text-anchor="middle" font-weight="normal" font-style="normal" fill="#231f20" textLength="4.7" lengthAdjust="spacingAndGlyphs">0</text>
<text x="61.70" y="428.80" font-size="9.3" text-anchor="middle" font-weight="normal" font-style="normal" fill="#231f20" textLength="9.8" lengthAdjust="spacingAndGlyphs">10</text>
<text x="77.70" y="428.80" font-size="9.3" text-anchor="middle" font-weight="normal" font-style="normal" fill="#231f20" textLength="9.8" lengthAdjust="spacingAndGlyphs">20</text>
<text x="91.80" y="428.80" font-size="9.3" text-anchor="middle" font-weight="normal" font-style="normal" fill="#231f20" textLength="9.8" lengthAdjust="spacingAndGlyphs">30</text>
<text x="61.00" y="367.50" font-size="9.7" text-anchor="middle" font-weight="bold" font-style="normal" fill="#231f20" >0 h</text>
<polyline points="103.40,386.28 103.83,385.86 104.27,386.22 104.70,386.53 105.13,386.00 105.57,386.11 106.00,385.77 106.43,385.86 106.87,385.70 107.30,385.07 107.73,385.72 108.16,385.52 108.60,386.75 109.03,388.06 109.46,386.13 109.90,385.31 110.33,386.08 110.76,386.30 111.20,386.76 111.63,385.15 112.06,386.22 112.50,385.64 112.93,384.97 113.36,385.42 113.80,384.13 114.23,385.93 114.66,385.10 115.09,385.30 115.53,386.32 115.96,385.79 116.39,386.25 116.83,386.60 117.26,385.60 117.69,386.41 118.13,384.55 118.56,386.39 118.99,386.24 119.43,387.55 119.86,389.81 120.29,391.18 120.72,393.47 121.16,392.67 121.59,392.00 122.02,389.73 122.46,386.19 122.89,385.68 123.32,384.57 123.76,383.72 124.19,382.15 124.62,381.81 125.06,383.08 125.49,382.62 125.92,382.68 126.36,381.05 126.79,382.79 127.22,381.10 127.66,382.33 128.09,379.90 128.52,382.02 128.95,381.93 129.39,380.92 129.82,381.27 130.25,381.21 130.69,382.72 131.12,381.05 131.55,380.63 131.99,381.97 132.42,382.25 132.85,382.70 133.29,381.10 133.72,381.63 134.15,381.84 134.59,382.77 135.02,380.61 135.45,381.16 135.88,381.83 136.32,380.69 136.75,382.52 137.18,381.12 137.62,382.54 138.05,380.71 138.48,381.97 138.92,380.83 139.35,382.06 139.78,381.44 140.22,380.87 140.65,382.40 141.08,381.64 141.51,382.34 141.95,381.05 142.38,382.14 142.81,381.96 143.25,381.82 143.68,380.78 144.11,382.44 144.55,381.67 144.98,381.89 145.41,382.04 145.85,382.22 146.28,381.73 146.71,381.46 147.15,382.77 147.58,381.41 148.01,382.47 148.44,381.56 148.88,379.84 149.31,382.28 149.74,381.59 150.18,381.73 150.61,380.78 151.04,381.88 151.48,382.86 151.91,382.72 152.34,381.36 152.78,381.29 153.21,380.67 153.64,381.87 154.08,380.96 154.51,382.26 154.94,380.46 155.38,381.49 155.81,381.94 156.24,381.28 156.67,380.09 157.11,382.04 157.54,382.33 157.97,382.15 158.41,382.25 158.84,381.41 159.27,381.09 159.71,381.47 160.14,381.19 160.57,380.44 161.01,381.54 161.44,382.26 161.87,383.04 162.31,381.12 162.74,381.81 163.17,381.47 163.60,380.96 164.04,380.92 164.47,382.44 164.90,381.97 165.34,381.18 165.77,381.34 166.20,380.36 166.64,381.59 167.07,382.77 167.50,380.31 167.94,382.43 168.37,381.92 168.80,380.88 169.23,381.97 169.67,379.27 170.10,380.97 170.53,380.73 170.97,381.46 171.40,379.45 171.83,380.71 172.27,381.65 172.70,380.15" fill="none" stroke="#86c586" stroke-width="1.8" stroke-linejoin="round" />
<polyline points="103.40,385.78 103.83,384.95 104.27,384.28 104.70,384.40 105.13,385.23 105.57,383.31 106.00,383.39 106.43,385.21 106.87,384.22 107.30,384.98 107.73,384.83 108.16,383.76 108.60,384.41 109.03,384.58 109.46,384.42 109.90,385.39 110.33,383.58 110.76,385.07 111.20,383.51 111.63,384.85 112.06,384.85 112.50,383.38 112.93,384.36 113.36,384.99 113.80,384.91 114.23,384.04 114.66,383.09 115.09,384.04 115.53,384.80 115.96,385.35 116.39,385.01 116.83,384.59 117.26,384.32 117.69,385.00 118.13,383.53 118.56,385.23 118.99,387.35 119.43,389.33 119.86,392.23 120.29,396.46 120.72,401.74 121.16,401.64 121.59,397.45 122.02,395.38 122.46,393.90 122.89,393.63 123.32,390.58 123.76,391.77 124.19,390.56 124.62,391.46 125.06,390.91 125.49,390.41 125.92,391.88 126.36,390.68 126.79,389.20 127.22,392.68 127.66,390.15 128.09,389.72 128.52,390.14 128.95,390.22 129.39,389.29 129.82,390.06 130.25,391.71 130.69,390.97 131.12,390.45 131.55,390.09 131.99,390.51 132.42,390.23 132.85,388.86 133.29,392.31 133.72,389.20 134.15,389.33 134.59,389.56 135.02,389.97 135.45,389.91 135.88,389.66 136.32,389.72 136.75,390.43 137.18,389.26 137.62,390.45 138.05,389.83 138.48,390.04 138.92,390.62 139.35,389.27 139.78,389.76 140.22,390.56 140.65,389.71 141.08,390.67 141.51,388.52 141.95,389.19 142.38,388.06 142.81,389.97 143.25,388.98 143.68,390.22 144.11,390.11 144.55,389.51 144.98,389.11 145.41,388.70 145.85,389.57 146.28,388.52 146.71,388.60 147.15,389.96 147.58,389.41 148.01,389.94 148.44,387.94 148.88,389.62 149.31,388.51 149.74,388.47 150.18,389.33 150.61,389.48 151.04,388.83 151.48,389.65 151.91,389.99 152.34,389.75 152.78,388.74 153.21,388.82 153.64,387.62 154.08,390.30 154.51,388.52 154.94,389.74 155.38,387.98 155.81,388.29 156.24,388.68 156.67,387.63 157.11,388.98 157.54,389.06 157.97,389.42 158.41,389.08 158.84,388.46 159.27,388.00 159.71,387.51 160.14,388.64 160.57,388.95 161.01,388.61 161.44,388.64 161.87,388.64 162.31,388.55 162.74,388.86 163.17,388.21 163.60,388.52 164.04,388.22 164.47,389.10 164.90,387.91 165.34,387.55 165.77,387.46 166.20,388.32 166.64,388.72 167.07,388.81 167.50,388.67 167.94,388.24 168.37,387.95 168.80,389.01 169.23,387.14 169.67,388.76 170.10,388.08 170.53,388.07 170.97,386.87 171.40,386.07 171.83,387.68 172.27,387.58 172.70,387.63" fill="none" stroke="#17693a" stroke-width="1.8" stroke-linejoin="round" />
<rect x="103.4" y="370.6" width="69.30" height="47.00" fill="none" stroke="#231f20" stroke-width="1.1"/>
<line x1="103.40" y1="417.60" x2="103.40" y2="420.10" stroke="#231f20" stroke-width="0.9" />
<line x1="120.72" y1="417.60" x2="120.72" y2="420.10" stroke="#231f20" stroke-width="0.9" />
<line x1="138.05" y1="417.60" x2="138.05" y2="420.10" stroke="#231f20" stroke-width="0.9" />
<line x1="155.38" y1="417.60" x2="155.38" y2="420.10" stroke="#231f20" stroke-width="0.9" />
<line x1="172.70" y1="417.60" x2="172.70" y2="420.10" stroke="#231f20" stroke-width="0.9" />
<text x="107.20" y="428.80" font-size="9.3" text-anchor="middle" font-weight="normal" font-style="normal" fill="#231f20" textLength="13.7" lengthAdjust="spacingAndGlyphs">-10</text>
<text x="120.80" y="428.80" font-size="9.3" text-anchor="middle" font-weight="normal" font-style="normal" fill="#231f20" textLength="4.7" lengthAdjust="spacingAndGlyphs">0</text>
<text x="137.80" y="428.80" font-size="9.3" text-anchor="middle" font-weight="normal" font-style="normal" fill="#231f20" textLength="9.8" lengthAdjust="spacingAndGlyphs">10</text>
<text x="155.50" y="428.80" font-size="9.3" text-anchor="middle" font-weight="normal" font-style="normal" fill="#231f20" textLength="9.8" lengthAdjust="spacingAndGlyphs">20</text>
<text x="172.30" y="428.80" font-size="9.3" text-anchor="middle" font-weight="normal" font-style="normal" fill="#231f20" textLength="9.8" lengthAdjust="spacingAndGlyphs">30</text>
<text x="137.80" y="367.50" font-size="9.7" text-anchor="middle" font-weight="bold" font-style="normal" fill="#231f20" >4 h / 8 h</text>
<text transform="translate(7.3,394.4) rotate(-90)" font-size="9.4" text-anchor="middle" fill="#231f20" textLength="27" lengthAdjust="spacingAndGlyphs">RPKM</text>
<text x="106.30" y="440.00" font-size="9.6" text-anchor="middle" font-weight="normal" font-style="normal" fill="#231f20" textLength="98" lengthAdjust="spacingAndGlyphs">Distance from TSS (kb)</text>
<text x="184.00" y="374.60" font-size="9.4" text-anchor="start" font-weight="normal" font-style="normal" fill="#231f20" >NTS</text>
<text x="184.20" y="387.20" font-size="9.4" text-anchor="start" font-weight="normal" font-style="normal" fill="#231f20" >TS</text>
<line x1="182.60" y1="374.60" x2="176.99" y2="377.74" stroke="#86c586" stroke-width="1.1" />
<path d="M173.50,379.70 L177.97,373.76 L177.86,377.26 L180.90,378.99 Z" fill="#86c586"/>
<line x1="183.40" y1="384.20" x2="177.17" y2="386.91" stroke="#17693a" stroke-width="1.1" />
<path d="M173.50,388.50 L178.54,383.04 L178.09,386.51 L180.93,388.54 Z" fill="#17693a"/>
<polyline points="62.60,483.54 63.28,483.49 63.96,480.52 64.64,484.50 65.32,483.39 66.00,484.14 66.67,482.85 67.35,483.82 68.03,482.58 68.71,484.42 69.39,480.83 70.07,482.95 70.75,485.16 71.43,482.38 72.11,483.68 72.79,484.44 73.47,482.64 74.14,483.70 74.82,482.28 75.50,483.71 76.18,482.08 76.86,482.91 77.54,482.66 78.22,482.88 78.90,483.45 79.58,483.59 80.26,483.30 80.94,483.63 81.61,484.93 82.29,481.46 82.97,481.55 83.65,484.59 84.33,482.08 85.01,483.36 85.69,483.01 86.37,484.15 87.05,481.41 87.73,484.16 88.41,483.32 89.08,484.03 89.76,481.05 90.44,481.80 91.12,484.66 91.80,483.68 92.48,482.76 93.16,483.64 93.84,483.54 94.52,484.34 95.20,482.85 95.88,484.33 96.55,482.17 97.23,480.42 97.91,483.45 98.59,481.24 99.27,482.65 99.95,483.80 100.63,483.43 101.31,484.10 101.99,482.89 102.67,482.23 103.35,481.96 104.02,483.30 104.70,484.31 105.38,483.05 106.06,481.09 106.74,482.63 107.42,483.01 108.10,485.23 108.78,483.40 109.46,482.30 110.14,483.95 110.82,481.38 111.49,483.50 112.17,483.83 112.85,483.50 113.53,482.94 114.21,481.71 114.89,483.44 115.57,484.79 116.25,482.88 116.93,482.20 117.61,481.06 118.29,484.02 118.96,481.11 119.64,481.99 120.32,482.22 121.00,483.58 121.68,483.69 122.36,483.76 123.04,481.65 123.72,482.44 124.40,481.48 125.08,480.63 125.76,482.62 126.43,482.69 127.11,480.50 127.79,484.07 128.47,483.10 129.15,483.01 129.83,483.00 130.51,482.41 131.19,483.49 131.87,481.26 132.55,484.05 133.23,483.44 133.90,484.39 134.58,484.07 135.26,481.84 135.94,481.79 136.62,482.69 137.30,481.53" fill="none" stroke="#8ec3ea" stroke-width="1.6" stroke-linejoin="round" />
<polyline points="62.60,481.78 63.28,483.13 63.96,482.55 64.64,482.12 65.32,480.32 66.00,483.06 66.67,482.18 67.35,482.01 68.03,481.28 68.71,482.19 69.39,481.49 70.07,483.89 70.75,483.01 71.43,484.90 72.11,482.82 72.79,480.20 73.47,482.54 74.14,482.74 74.82,482.56 75.50,482.72 76.18,484.36 76.86,483.69 77.54,483.13 78.22,482.78 78.90,483.94 79.58,483.13 80.26,483.84 80.94,488.28 81.61,491.85 82.29,496.11 82.97,496.75 83.65,496.43 84.33,496.76 85.01,497.12 85.69,496.98 86.37,497.61 87.05,496.02 87.73,493.58 88.41,493.91 89.08,494.82 89.76,495.21 90.44,494.82 91.12,494.23 91.80,494.59 92.48,493.98 93.16,495.19 93.84,494.15 94.52,494.48 95.20,492.77 95.88,495.22 96.55,492.31 97.23,493.78 97.91,494.18 98.59,493.55 99.27,493.37 99.95,493.71 100.63,492.92 101.31,493.98 101.99,495.14 102.67,492.45 103.35,493.18 104.02,491.25 104.70,492.61 105.38,495.21 106.06,491.55 106.74,493.63 107.42,492.20 108.10,490.28 108.78,491.48 109.46,493.84 110.14,492.63 110.82,494.23 111.49,491.62 112.17,491.65 112.85,493.31 113.53,491.59 114.21,490.97 114.89,491.02 115.57,492.56 116.25,492.51 116.93,492.88 117.61,493.00 118.29,491.12 118.96,491.35 119.64,489.86 120.32,490.91 121.00,491.47 121.68,492.62 122.36,489.24 123.04,490.72 123.72,490.87 124.40,491.91 125.08,491.89 125.76,489.99 126.43,491.70 127.11,489.94 127.79,489.84 128.47,490.91 129.15,492.21 129.83,489.93 130.51,488.78 131.19,491.20 131.87,491.61 132.55,488.97 133.23,489.96 133.90,490.77 134.58,488.67 135.26,490.28 135.94,489.42 136.62,490.32 137.30,490.64" fill="none" stroke="#222d8c" stroke-width="1.6" stroke-linejoin="round" />
<rect x="62.6" y="465.5" width="74.70" height="50.90" fill="none" stroke="#231f20" stroke-width="1.1"/>
<line x1="60.40" y1="516.40" x2="62.60" y2="516.40" stroke="#231f20" stroke-width="0.9" />
<text x="59.20" y="519.60" font-size="9.4" text-anchor="end" font-weight="normal" font-style="normal" fill="#231f20" textLength="12" lengthAdjust="spacingAndGlyphs">0.4</text>
<line x1="61.20" y1="510.74" x2="62.60" y2="510.74" stroke="#231f20" stroke-width="0.9" />
<line x1="60.40" y1="505.09" x2="62.60" y2="505.09" stroke="#231f20" stroke-width="0.9" />
<text x="59.20" y="508.29" font-size="9.4" text-anchor="end" font-weight="normal" font-style="normal" fill="#231f20" textLength="12" lengthAdjust="spacingAndGlyphs">0.6</text>
<line x1="61.20" y1="499.43" x2="62.60" y2="499.43" stroke="#231f20" stroke-width="0.9" />
<line x1="60.40" y1="493.78" x2="62.60" y2="493.78" stroke="#231f20" stroke-width="0.9" />
<text x="59.20" y="496.98" font-size="9.4" text-anchor="end" font-weight="normal" font-style="normal" fill="#231f20" textLength="12" lengthAdjust="spacingAndGlyphs">0.8</text>
<line x1="61.20" y1="488.12" x2="62.60" y2="488.12" stroke="#231f20" stroke-width="0.9" />
<line x1="60.40" y1="482.47" x2="62.60" y2="482.47" stroke="#231f20" stroke-width="0.9" />
<text x="59.20" y="485.67" font-size="9.4" text-anchor="end" font-weight="normal" font-style="normal" fill="#231f20" textLength="12" lengthAdjust="spacingAndGlyphs">1.0</text>
<line x1="61.20" y1="476.81" x2="62.60" y2="476.81" stroke="#231f20" stroke-width="0.9" />
<line x1="60.40" y1="471.16" x2="62.60" y2="471.16" stroke="#231f20" stroke-width="0.9" />
<text x="59.20" y="474.36" font-size="9.4" text-anchor="end" font-weight="normal" font-style="normal" fill="#231f20" textLength="12" lengthAdjust="spacingAndGlyphs">1.2</text>
<line x1="61.20" y1="465.50" x2="62.60" y2="465.50" stroke="#231f20" stroke-width="0.9" />
<line x1="62.60" y1="516.40" x2="62.60" y2="518.90" stroke="#231f20" stroke-width="0.9" />
<line x1="81.28" y1="516.40" x2="81.28" y2="518.90" stroke="#231f20" stroke-width="0.9" />
<line x1="99.95" y1="516.40" x2="99.95" y2="518.90" stroke="#231f20" stroke-width="0.9" />
<line x1="118.63" y1="516.40" x2="118.63" y2="518.90" stroke="#231f20" stroke-width="0.9" />
<line x1="137.30" y1="516.40" x2="137.30" y2="518.90" stroke="#231f20" stroke-width="0.9" />
<text x="60.40" y="527.40" font-size="9.6" text-anchor="middle" font-weight="normal" font-style="normal" fill="#231f20" textLength="13.3" lengthAdjust="spacingAndGlyphs">-10</text>
<text x="81.50" y="527.40" font-size="9.6" text-anchor="middle" font-weight="normal" font-style="normal" fill="#231f20" textLength="4.6" lengthAdjust="spacingAndGlyphs">0</text>
<text x="100.10" y="527.40" font-size="9.6" text-anchor="middle" font-weight="normal" font-style="normal" fill="#231f20" textLength="9.3" lengthAdjust="spacingAndGlyphs">10</text>
<text x="119.10" y="527.40" font-size="9.6" text-anchor="middle" font-weight="normal" font-style="normal" fill="#231f20" textLength="9.3" lengthAdjust="spacingAndGlyphs">20</text>
<text x="137.20" y="527.40" font-size="9.6" text-anchor="middle" font-weight="normal" font-style="normal" fill="#231f20" textLength="9.3" lengthAdjust="spacingAndGlyphs">30</text>
<text x="100.50" y="540.70" font-size="9.7" text-anchor="middle" font-weight="normal" font-style="normal" fill="#231f20" textLength="101" lengthAdjust="spacingAndGlyphs">Distance from TSS (kb)</text>
<text transform="translate(29.2,497.6) rotate(-90)" font-size="9.7" text-anchor="middle" fill="#231f20" textLength="63.2" lengthAdjust="spacingAndGlyphs">Fraction CPDs</text>
<text transform="translate(39.4,497.5) rotate(-90)" font-size="9.7" text-anchor="middle" fill="#231f20" textLength="42.5" lengthAdjust="spacingAndGlyphs">remaining</text>
<text x="149.80" y="472.40" font-size="8.7" text-anchor="start" font-weight="normal" font-style="normal" fill="#231f20" >NTS</text>
<text x="149.80" y="484.50" font-size="8.7" text-anchor="start" font-weight="normal" font-style="normal" fill="#231f20" >TS</text>
<line x1="149.10" y1="471.70" x2="143.01" y2="475.42" stroke="#8ec3ea" stroke-width="1.2" />
<path d="M139.60,477.50 L143.84,471.40 L143.87,474.89 L146.97,476.52 Z" fill="#8ec3ea"/>
<line x1="149.10" y1="481.90" x2="142.95" y2="485.91" stroke="#222d8c" stroke-width="1.2" />
<path d="M139.60,488.10 L143.65,481.87 L143.79,485.37 L146.93,486.90 Z" fill="#222d8c"/>
<rect x="37" y="548.2" width="117.8" height="20" fill="#1265a0"/>
<text x="96.00" y="562.00" font-size="11" text-anchor="middle" font-weight="bold" font-style="normal" fill="#fff" >Damage-seq</text>
<clipPath id="paddc"><rect x="213" y="465" width="75.7" height="51.7"/></clipPath><g clip-path="url(#paddc)">
<polyline points="213.00,511.76 213.38,512.24 213.76,512.66 214.14,512.12 214.51,511.36 214.89,511.43 215.27,510.97 215.65,511.50 216.03,511.24 216.41,511.84 216.78,512.16 217.16,511.77 217.54,512.41 217.92,511.68 218.30,512.21 218.68,511.91 219.06,512.41 219.43,512.10 219.81,511.62 220.19,512.16 220.57,512.37 220.95,511.96 221.33,511.71 221.71,512.19 222.08,512.63 222.46,512.80 222.84,512.73 223.22,511.69 223.60,512.20 223.98,511.96 224.35,511.72 224.73,512.07 225.11,512.00 225.49,512.43 225.87,512.94 226.25,506.99 226.63,502.34 227.00,497.08 227.38,489.60 227.76,476.16 228.14,462.18 228.52,463.42 228.90,463.02 229.28,462.49 229.65,470.99 230.03,480.60 230.41,491.37 230.79,496.87 231.17,502.16 231.55,506.16 231.93,511.53 232.30,511.65 232.68,511.30 233.06,511.60 233.44,511.73 233.82,510.84 234.20,511.08 234.57,511.47 234.95,511.17 235.33,511.17 235.71,511.28 236.09,511.51 236.47,511.51 236.85,511.37 237.22,511.31 237.60,511.40 237.98,511.81 238.36,511.60 238.74,511.37 239.12,512.00 239.50,511.59 239.87,511.26 240.25,511.52 240.63,511.72 241.01,511.61 241.39,511.81 241.77,511.18 242.14,511.78 242.52,512.35 242.90,512.14 243.28,511.50 243.66,511.54 244.04,511.85 244.42,512.21 244.79,511.72 245.17,512.01 245.55,511.95 245.93,511.66 246.31,512.01 246.69,511.54 247.06,512.01 247.44,511.88 247.82,511.79 248.20,511.07 248.58,511.01 248.96,511.30 249.34,512.04 249.71,511.71 250.09,511.32 250.47,511.38 250.85,512.45 251.23,511.76 251.61,512.07 251.99,511.42 252.36,511.47 252.74,511.98 253.12,510.83 253.50,511.88 253.88,510.70 254.26,511.84 254.63,511.82 255.01,510.97 255.39,512.02 255.77,511.99 256.15,511.16 256.53,511.82 256.91,511.60 257.28,512.35 257.66,511.04 258.04,511.40 258.42,511.68 258.80,511.53 259.18,512.06 259.56,512.04 259.93,512.54 260.31,511.69 260.69,511.32 261.07,511.50 261.45,511.47 261.83,511.57 262.20,512.29 262.58,512.44 262.96,511.61 263.34,511.82 263.72,511.47 264.10,512.02 264.48,512.30 264.85,511.72 265.23,512.17 265.61,512.62 265.99,512.20 266.37,512.30 266.75,512.43 267.13,512.17 267.50,511.54 267.88,510.95 268.26,511.21 268.64,512.14 269.02,511.47 269.40,512.00 269.77,511.81 270.15,512.27 270.53,512.02 270.91,512.70 271.29,511.22 271.67,512.33 272.05,511.76 272.42,512.26 272.80,511.90 273.18,512.52 273.56,512.20 273.94,511.64 274.32,511.78 274.70,512.87 275.07,511.68 275.45,512.61 275.83,511.94 276.21,511.84 276.59,512.35 276.97,512.20 277.34,512.19 277.72,511.91 278.10,511.69 278.48,511.51 278.86,511.96 279.24,511.25 279.62,512.53 279.99,511.35 280.37,512.24 280.75,511.79 281.13,512.19 281.51,512.09 281.89,512.54 282.27,511.97 282.64,511.26 283.02,512.09 283.40,512.17 283.78,512.16 284.16,511.86 284.54,512.25 284.91,512.18 285.29,512.09 285.67,511.62 286.05,511.78 286.43,512.66 286.81,512.47 287.19,512.20 287.56,511.85 287.94,511.80 288.32,512.31 288.70,511.30" fill="none" stroke="#b07cc8" stroke-width="1.1" stroke-linejoin="round" />
<polyline points="213.00,511.56 213.38,510.78 213.76,510.79 214.14,510.70 214.51,511.42 214.89,511.25 215.27,512.30 215.65,512.47 216.03,511.87 216.41,511.22 216.78,511.06 217.16,511.66 217.54,511.09 217.92,511.33 218.30,510.88 218.68,512.46 219.06,512.06 219.43,512.16 219.81,512.19 220.19,510.85 220.57,512.15 220.95,512.14 221.33,511.92 221.71,511.29 222.08,511.97 222.46,511.38 222.84,511.49 223.22,512.11 223.60,512.95 223.98,512.27 224.35,512.42 224.73,510.99 225.11,512.18 225.49,512.39 225.87,511.66 226.25,506.97 226.63,502.59 227.00,496.71 227.38,488.68 227.76,475.96 228.14,463.43 228.52,463.51 228.90,464.07 229.28,462.87 229.65,469.75 230.03,479.04 230.41,487.16 230.79,490.32 231.17,494.82 231.55,497.42 231.93,498.51 232.30,498.79 232.68,498.56 233.06,497.76 233.44,497.88 233.82,497.07 234.20,497.07 234.57,496.60 234.95,496.99 235.33,498.01 235.71,496.09 236.09,497.50 236.47,495.97 236.85,496.22 237.22,496.89 237.60,496.04 237.98,495.49 238.36,496.32 238.74,495.63 239.12,495.89 239.50,495.87 239.87,495.55 240.25,494.46 240.63,494.69 241.01,495.00 241.39,494.98 241.77,494.81 242.14,494.68 242.52,494.68 242.90,495.60 243.28,494.21 243.66,495.06 244.04,495.85 244.42,494.15 244.79,495.05 245.17,494.48 245.55,494.39 245.93,494.60 246.31,493.97 246.69,494.33 247.06,494.27 247.44,494.57 247.82,494.16 248.20,494.51 248.58,493.90 248.96,493.20 249.34,493.31 249.71,493.55 250.09,494.38 250.47,493.13 250.85,493.14 251.23,492.54 251.61,494.70 251.99,493.58 252.36,493.74 252.74,493.01 253.12,494.09 253.50,493.75 253.88,492.39 254.26,493.03 254.63,494.52 255.01,493.51 255.39,492.83 255.77,493.83 256.15,493.20 256.53,493.44 256.91,494.21 257.28,493.80 257.66,492.90 258.04,492.86 258.42,493.75 258.80,492.87 259.18,493.79 259.56,493.31 259.93,493.43 260.31,494.06 260.69,493.25 261.07,493.60 261.45,494.76 261.83,493.82 262.20,493.80 262.58,493.80 262.96,493.85 263.34,493.71 263.72,494.57 264.10,492.89 264.48,493.30 264.85,493.20 265.23,493.45 265.61,493.28 265.99,493.43 266.37,493.86 266.75,494.04 267.13,493.25 267.50,492.77 267.88,493.15 268.26,492.46 268.64,493.96 269.02,493.38 269.40,493.56 269.77,492.62 270.15,492.36 270.53,493.47 270.91,492.84 271.29,493.32 271.67,493.71 272.05,493.24 272.42,493.72 272.80,492.40 273.18,492.86 273.56,492.57 273.94,492.97 274.32,494.35 274.70,492.73 275.07,493.08 275.45,494.34 275.83,493.06 276.21,492.59 276.59,492.25 276.97,493.62 277.34,492.69 277.72,492.91 278.10,493.15 278.48,493.21 278.86,492.79 279.24,492.75 279.62,492.71 279.99,493.24 280.37,493.68 280.75,492.34 281.13,492.36 281.51,493.29 281.89,493.01 282.27,492.57 282.64,493.85 283.02,492.72 283.40,491.76 283.78,492.82 284.16,493.30 284.54,491.90 284.91,492.93 285.29,492.82 285.67,493.13 286.05,492.82 286.43,493.80 286.81,493.56 287.19,493.63 287.56,492.42 287.94,492.92 288.32,492.28 288.70,493.88" fill="none" stroke="#6d2e91" stroke-width="1.2" stroke-linejoin="round" />
</g>
<rect x="213.0" y="465.0" width="75.70" height="51.70" fill="none" stroke="#231f20" stroke-width="1.1"/>
<line x1="210.00" y1="516.70" x2="213.00" y2="516.70" stroke="#231f20" stroke-width="0.9" />
<text x="210.00" y="520.10" font-size="9.6" text-anchor="end" font-weight="normal" font-style="normal" fill="#231f20" textLength="13.5" lengthAdjust="spacingAndGlyphs">0.1</text>
<line x1="211.20" y1="509.25" x2="213.00" y2="509.25" stroke="#231f20" stroke-width="0.9" />
<line x1="210.00" y1="501.80" x2="213.00" y2="501.80" stroke="#231f20" stroke-width="0.9" />
<text x="210.00" y="505.20" font-size="9.6" text-anchor="end" font-weight="normal" font-style="normal" fill="#231f20" textLength="13.5" lengthAdjust="spacingAndGlyphs">0.3</text>
<line x1="211.20" y1="494.35" x2="213.00" y2="494.35" stroke="#231f20" stroke-width="0.9" />
<line x1="210.00" y1="486.90" x2="213.00" y2="486.90" stroke="#231f20" stroke-width="0.9" />
<text x="210.00" y="490.30" font-size="9.6" text-anchor="end" font-weight="normal" font-style="normal" fill="#231f20" textLength="13.5" lengthAdjust="spacingAndGlyphs">0.5</text>
<line x1="211.20" y1="479.45" x2="213.00" y2="479.45" stroke="#231f20" stroke-width="0.9" />
<line x1="210.00" y1="472.00" x2="213.00" y2="472.00" stroke="#231f20" stroke-width="0.9" />
<text x="210.00" y="475.40" font-size="9.6" text-anchor="end" font-weight="normal" font-style="normal" fill="#231f20" textLength="13.5" lengthAdjust="spacingAndGlyphs">0.7</text>
<line x1="213.00" y1="516.70" x2="213.00" y2="519.70" stroke="#231f20" stroke-width="0.9" />
<line x1="228.14" y1="516.70" x2="228.14" y2="519.70" stroke="#231f20" stroke-width="0.9" />
<line x1="243.28" y1="516.70" x2="243.28" y2="519.70" stroke="#231f20" stroke-width="0.9" />
<line x1="258.42" y1="516.70" x2="258.42" y2="519.70" stroke="#231f20" stroke-width="0.9" />
<line x1="273.56" y1="516.70" x2="273.56" y2="519.70" stroke="#231f20" stroke-width="0.9" />
<line x1="288.70" y1="516.70" x2="288.70" y2="519.70" stroke="#231f20" stroke-width="0.9" />
<text x="211.30" y="527.50" font-size="9.2" text-anchor="middle" font-weight="normal" font-style="normal" fill="#231f20" textLength="12.5" lengthAdjust="spacingAndGlyphs">-10</text>
<text x="229.60" y="527.50" font-size="9.2" text-anchor="middle" font-weight="normal" font-style="normal" fill="#231f20" textLength="16.8" lengthAdjust="spacingAndGlyphs">TSS</text>
<text x="245.50" y="527.50" font-size="9.2" text-anchor="middle" font-weight="normal" font-style="normal" fill="#231f20" textLength="10" lengthAdjust="spacingAndGlyphs">10</text>
<text x="258.70" y="527.50" font-size="9.2" text-anchor="middle" font-weight="normal" font-style="normal" fill="#231f20" textLength="10" lengthAdjust="spacingAndGlyphs">20</text>
<text x="275.00" y="527.50" font-size="9.2" text-anchor="middle" font-weight="normal" font-style="normal" fill="#231f20" textLength="10" lengthAdjust="spacingAndGlyphs">30</text>
<text x="289.00" y="527.50" font-size="9.2" text-anchor="middle" font-weight="normal" font-style="normal" fill="#231f20" textLength="10.5" lengthAdjust="spacingAndGlyphs">40</text>
<text x="254.50" y="541.00" font-size="10" text-anchor="middle" font-weight="normal" font-style="normal" fill="#231f20" textLength="99" lengthAdjust="spacingAndGlyphs">Distance from TSS (kb)</text>
<text transform="translate(194.8,494.5) rotate(-90)" font-size="9.6" text-anchor="middle" fill="#231f20">RPKM</text>
<text x="301.20" y="485.00" font-size="9.2" text-anchor="start" font-weight="normal" font-style="normal" fill="#6d2e91" >TS</text>
<text x="300.50" y="507.00" font-size="9.2" text-anchor="start" font-weight="normal" font-style="normal" fill="#a070bb" >NTS</text>
<line x1="300.00" y1="484.00" x2="293.65" y2="488.12" stroke="#6d2e91" stroke-width="1.2" />
<path d="M290.30,490.30 L294.37,484.08 L294.49,487.58 L297.64,489.11 Z" fill="#6d2e91"/>
<line x1="300.00" y1="505.30" x2="293.70" y2="509.20" stroke="#a070bb" stroke-width="1.2" />
<path d="M290.30,511.30 L294.50,505.17 L294.55,508.67 L297.66,510.27 Z" fill="#a070bb"/>
<rect x="190" y="548.2" width="118" height="20.5" fill="#5e318a"/>
<text x="249.00" y="562.30" font-size="11" text-anchor="middle" font-weight="bold" font-style="normal" fill="#fff" >PADD-seq</text>
<path d="M95.50,584.00 L95.50,580.00 M95.50,584.00 L99.30,582.76 M95.50,584.00 L97.85,587.24 M95.50,584.00 L93.15,587.24 M95.50,584.00 L91.70,582.76" stroke="#e60012" stroke-width="2.0" stroke-linecap="butt" fill="none"/>
<text x="103.70" y="588.00" font-size="11" text-anchor="start" font-weight="normal" font-style="normal" fill="#231f20" >CPD</text>
<ellipse cx="145.2" cy="583.7" rx="6.5" ry="4.6" fill="url(#polg)"/>
<text x="157.00" y="588.00" font-size="11" text-anchor="start" font-weight="normal" font-style="normal" fill="#231f20" >RNA polymerase II</text>
<text x="0.00" y="625.70" font-size="22" text-anchor="start" font-weight="bold" font-style="normal" fill="#000" >b</text>
<line x1="21.20" y1="657.50" x2="142.50" y2="657.50" stroke="#3a3030" stroke-width="1.1" />
<path d="M147.50,657.50 L140.50,660.10 L140.50,654.90 Z" fill="#231f20"/>
<text x="150.50" y="661.00" font-size="11" text-anchor="start" font-weight="normal" font-style="italic" fill="#231f20" >t</text>
<line x1="186.20" y1="657.50" x2="322.00" y2="657.50" stroke="#3a3030" stroke-width="1.1" />
<path d="M327.00,657.50 L320.00,660.10 L320.00,654.90 Z" fill="#231f20"/>
<text x="330.00" y="661.00" font-size="11" text-anchor="start" font-weight="normal" font-style="italic" fill="#231f20" >t</text>
<text x="47.50" y="638.70" font-size="11" text-anchor="middle" font-weight="normal" font-style="normal" fill="#231f20" >UV</text>
<line x1="47.50" y1="641.00" x2="47.50" y2="649.00" stroke="#231f20" stroke-width="1.1" />
<path d="M44.80,647.00 L47.50,649.20 L50.20,647.00 L47.50,654.00 Z" fill="#231f20"/>
<text x="190.50" y="638.70" font-size="11" text-anchor="middle" font-weight="normal" font-style="normal" fill="#231f20" >NVP-2</text>
<line x1="190.50" y1="641.00" x2="190.50" y2="649.00" stroke="#231f20" stroke-width="1.1" />
<path d="M187.80,647.00 L190.50,649.20 L193.20,647.00 L190.50,654.00 Z" fill="#231f20"/>
<text x="224.20" y="638.70" font-size="11" text-anchor="middle" font-weight="normal" font-style="normal" fill="#231f20" >UV</text>
<line x1="224.20" y1="641.00" x2="224.20" y2="649.00" stroke="#231f20" stroke-width="1.1" />
<path d="M221.50,647.00 L224.20,649.20 L226.90,647.00 L224.20,654.00 Z" fill="#231f20"/>
<line x1="47.50" y1="657.50" x2="47.50" y2="661.50" stroke="#231f20" stroke-width="1" />
<text x="47.50" y="672.50" font-size="11" text-anchor="middle" font-weight="normal" font-style="normal" fill="#231f20" >0 h</text>
<line x1="91.20" y1="657.50" x2="91.20" y2="661.50" stroke="#231f20" stroke-width="1" />
<text x="91.20" y="672.50" font-size="11" text-anchor="middle" font-weight="normal" font-style="normal" fill="#231f20" >4 h / 8 h</text>
<line x1="190.50" y1="657.50" x2="190.50" y2="661.50" stroke="#231f20" stroke-width="1" />
<text x="190.50" y="672.50" font-size="11" text-anchor="middle" font-weight="normal" font-style="normal" fill="#231f20" >-5 min</text>
<line x1="224.20" y1="657.50" x2="224.20" y2="661.50" stroke="#231f20" stroke-width="1" />
<text x="224.20" y="672.50" font-size="11" text-anchor="middle" font-weight="normal" font-style="normal" fill="#231f20" >0 h</text>
<line x1="262.00" y1="657.50" x2="262.00" y2="661.50" stroke="#231f20" stroke-width="1" />
<text x="262.00" y="672.50" font-size="11" text-anchor="middle" font-weight="normal" font-style="normal" fill="#231f20" >0.5 h</text>
<line x1="299.20" y1="657.50" x2="299.20" y2="661.50" stroke="#231f20" stroke-width="1" />
<text x="299.20" y="672.50" font-size="11" text-anchor="middle" font-weight="normal" font-style="normal" fill="#231f20" >2.0 h</text>
<line x1="47.50" y1="676.00" x2="47.50" y2="685.00" stroke="#231f20" stroke-width="1.1" />
<path d="M44.80,683.00 L47.50,685.20 L50.20,683.00 L47.50,690.00 Z" fill="#231f20"/>
<line x1="91.20" y1="676.00" x2="91.20" y2="685.00" stroke="#231f20" stroke-width="1.1" />
<path d="M88.50,683.00 L91.20,685.20 L93.90,683.00 L91.20,690.00 Z" fill="#231f20"/>
<line x1="262.00" y1="676.00" x2="262.00" y2="685.00" stroke="#231f20" stroke-width="1.1" />
<path d="M259.30,683.00 L262.00,685.20 L264.70,683.00 L262.00,690.00 Z" fill="#231f20"/>
<line x1="299.20" y1="676.00" x2="299.20" y2="685.00" stroke="#231f20" stroke-width="1.1" />
<path d="M296.50,683.00 L299.20,685.20 L301.90,683.00 L299.20,690.00 Z" fill="#231f20"/>
<rect x="25.7" y="693.2" width="87.3" height="18.8" fill="#1265a0"/>
<text x="69.35" y="706.60" font-size="11" text-anchor="middle" font-weight="bold" font-style="normal" fill="#fff" >Damage-seq</text>
<rect x="237" y="693.2" width="86.7" height="18.8" fill="#5e318a"/>
<text x="280.35" y="706.60" font-size="11" text-anchor="middle" font-weight="bold" font-style="normal" fill="#fff" >PADD-seq</text>
<text x="363.70" y="553.00" font-size="22" text-anchor="start" font-weight="bold" font-style="normal" fill="#000" >d</text>
<path d="M463.2,562.5 L463.2,559.5 L637,559.5 L637,562.5" fill="none" stroke="#555" stroke-width="1"/>
<text x="550.60" y="555.70" font-size="11" text-anchor="middle" font-weight="normal" font-style="normal" fill="#231f20" >&lt;1.0E-200</text>
<path d="M522.4,578.7 L522.4,575.7 L637,575.7 L637,578.7" fill="none" stroke="#555" stroke-width="1"/>
<text x="578.70" y="572.50" font-size="11" text-anchor="middle" font-weight="normal" font-style="normal" fill="#231f20" >1.4E-20</text>
<path d="M463.7,596.2 L463.7,593.2 L520.5,593.2 L520.5,596.2" fill="none" stroke="#555" stroke-width="1"/>
<text x="490.20" y="590.00" font-size="11" text-anchor="middle" font-weight="normal" font-style="normal" fill="#231f20" >&lt;1.0E-200</text>
<path d="M522.5,596.2 L522.5,593.2 L578.7,593.2 L578.7,596.2" fill="none" stroke="#555" stroke-width="1"/>
<text x="549.30" y="590.00" font-size="11" text-anchor="middle" font-weight="normal" font-style="normal" fill="#231f20" >&lt;1.0E-200</text>
<path d="M580.5,596.2 L580.5,593.2 L637,593.2 L637,596.2" fill="none" stroke="#555" stroke-width="1"/>
<text x="608.70" y="590.00" font-size="11" text-anchor="middle" font-weight="normal" font-style="normal" fill="#231f20" >&lt;1.0E-200</text>
<line x1="434.50" y1="597.00" x2="434.50" y2="711.70" stroke="#555" stroke-width="1.1" />
<line x1="434.50" y1="711.70" x2="665.80" y2="711.70" stroke="#555" stroke-width="1.1" />
<line x1="431.00" y1="598.25" x2="434.50" y2="598.25" stroke="#555" stroke-width="1" />
<text x="431.00" y="602.05" font-size="11" text-anchor="end" font-weight="normal" font-style="normal" fill="#231f20" >1.5</text>
<line x1="432.50" y1="605.33" x2="434.50" y2="605.33" stroke="#555" stroke-width="1" />
<line x1="431.00" y1="612.40" x2="434.50" y2="612.40" stroke="#555" stroke-width="1" />
<text x="431.00" y="616.20" font-size="11" text-anchor="end" font-weight="normal" font-style="normal" fill="#231f20" >1.0</text>
<line x1="432.50" y1="619.48" x2="434.50" y2="619.48" stroke="#555" stroke-width="1" />
<line x1="431.00" y1="626.55" x2="434.50" y2="626.55" stroke="#555" stroke-width="1" />
<text x="431.00" y="630.35" font-size="11" text-anchor="end" font-weight="normal" font-style="normal" fill="#231f20" >0.5</text>
<line x1="432.50" y1="633.62" x2="434.50" y2="633.62" stroke="#555" stroke-width="1" />
<line x1="431.00" y1="640.70" x2="434.50" y2="640.70" stroke="#555" stroke-width="1" />
<text x="431.00" y="644.50" font-size="11" text-anchor="end" font-weight="normal" font-style="normal" fill="#231f20" >0.0</text>
<line x1="432.50" y1="647.78" x2="434.50" y2="647.78" stroke="#555" stroke-width="1" />
<line x1="431.00" y1="654.85" x2="434.50" y2="654.85" stroke="#555" stroke-width="1" />
<text x="431.00" y="658.65" font-size="11" text-anchor="end" font-weight="normal" font-style="normal" fill="#231f20" >−0.5</text>
<line x1="432.50" y1="661.93" x2="434.50" y2="661.93" stroke="#555" stroke-width="1" />
<line x1="431.00" y1="669.00" x2="434.50" y2="669.00" stroke="#555" stroke-width="1" />
<text x="431.00" y="672.80" font-size="11" text-anchor="end" font-weight="normal" font-style="normal" fill="#231f20" >−1.0</text>
<line x1="432.50" y1="676.08" x2="434.50" y2="676.08" stroke="#555" stroke-width="1" />
<line x1="431.00" y1="683.15" x2="434.50" y2="683.15" stroke="#555" stroke-width="1" />
<text x="431.00" y="686.95" font-size="11" text-anchor="end" font-weight="normal" font-style="normal" fill="#231f20" >−1.5</text>
<line x1="432.50" y1="690.23" x2="434.50" y2="690.23" stroke="#555" stroke-width="1" />
<line x1="431.00" y1="697.30" x2="434.50" y2="697.30" stroke="#555" stroke-width="1" />
<text x="431.00" y="701.10" font-size="11" text-anchor="end" font-weight="normal" font-style="normal" fill="#231f20" >−2.0</text>
<line x1="432.50" y1="704.38" x2="434.50" y2="704.38" stroke="#555" stroke-width="1" />
<line x1="431.00" y1="711.45" x2="434.50" y2="711.45" stroke="#555" stroke-width="1" />
<text x="431.00" y="715.25" font-size="11" text-anchor="end" font-weight="normal" font-style="normal" fill="#231f20" >−2.5</text>
<path d="M462.90,608.16 L462.50,615.23 L461.80,623.72 L460.20,629.38 L456.70,633.62 L451.20,637.30 L444.20,640.70 L449.20,643.53 L454.20,647.78 L458.20,654.85 L460.20,661.93 L461.40,669.00 L462.20,677.49 L462.60,688.81 L462.90,711.45 L463.50,711.45 L463.80,688.81 L464.20,677.49 L465.00,669.00 L466.20,661.93 L468.20,654.85 L472.20,647.78 L477.20,643.53 L482.20,640.70 L475.20,637.30 L469.70,633.62 L466.20,629.38 L464.60,623.72 L463.90,615.23 L463.50,608.16 Z" fill="#bd97c9" stroke="#9a78aa" stroke-width="0.5"/>
<line x1="463.20" y1="608.16" x2="463.20" y2="711.45" stroke="#8a6c98" stroke-width="0.7" />
<path d="M520.90,615.80 L520.70,623.72 L520.00,627.97 L518.70,632.21 L517.20,636.46 L515.70,640.70 L514.20,646.36 L513.70,650.61 L514.20,657.68 L515.40,666.17 L516.90,674.66 L518.20,683.15 L519.40,694.47 L520.20,702.96 L520.90,711.45 L521.50,711.45 L522.20,702.96 L523.00,694.47 L524.20,683.15 L525.50,674.66 L527.00,666.17 L528.20,657.68 L528.70,650.61 L528.20,646.36 L526.70,640.70 L525.20,636.46 L523.70,632.21 L522.40,627.97 L521.70,623.72 L521.50,615.80 Z" fill="#bd97c9" stroke="#9a78aa" stroke-width="0.5"/>
<line x1="521.20" y1="615.80" x2="521.20" y2="711.45" stroke="#8a6c98" stroke-width="0.7" />
<path d="M579.00,598.25 L578.10,606.74 L577.00,615.23 L574.80,623.72 L570.80,630.80 L566.30,636.46 L564.30,639.29 L568.30,643.53 L573.30,649.19 L576.30,654.85 L578.00,663.34 L578.70,671.83 L578.95,694.47 L579.65,694.47 L579.90,671.83 L580.60,663.34 L582.30,654.85 L585.30,649.19 L590.30,643.53 L594.30,639.29 L592.30,636.46 L587.80,630.80 L583.80,623.72 L581.60,615.23 L580.50,606.74 L579.60,598.25 Z" fill="#bd97c9" stroke="#9a78aa" stroke-width="0.5"/>
<line x1="579.30" y1="598.25" x2="579.30" y2="694.47" stroke="#8a6c98" stroke-width="0.7" />
<path d="M636.50,601.08 L636.30,612.40 L635.90,620.89 L634.80,627.97 L633.00,633.62 L631.30,637.87 L630.30,640.70 L629.60,646.36 L630.20,653.44 L632.00,663.34 L633.50,671.83 L634.80,683.15 L635.80,697.30 L636.50,711.45 L637.10,711.45 L637.80,697.30 L638.80,683.15 L640.10,671.83 L641.60,663.34 L643.40,653.44 L644.00,646.36 L643.30,640.70 L642.30,637.87 L640.60,633.62 L638.80,627.97 L637.70,620.89 L637.30,612.40 L637.10,601.08 Z" fill="#bd97c9" stroke="#9a78aa" stroke-width="0.5"/>
<line x1="636.80" y1="601.08" x2="636.80" y2="711.45" stroke="#8a6c98" stroke-width="0.7" />
<line x1="436.00" y1="640.70" x2="662.80" y2="640.70" stroke="#111" stroke-width="1.3" stroke-dasharray="3 5.2"/>
<rect x="461.90" y="640.13" width="2.6" height="10.75" fill="#4a4a4a"/>
<circle cx="463.2" cy="643.98" r="1.2" fill="#fff"/>
<rect x="519.90" y="646.93" width="2.6" height="28.58" fill="#4a4a4a"/>
<circle cx="521.2" cy="659.07" r="1.2" fill="#fff"/>
<rect x="578.00" y="627.97" width="2.6" height="14.15" fill="#4a4a4a"/>
<circle cx="579.3" cy="636.91" r="1.2" fill="#fff"/>
<rect x="635.50" y="645.23" width="2.6" height="29.43" fill="#4a4a4a"/>
<circle cx="636.8" cy="656.86" r="1.2" fill="#fff"/>
<text x="466.00" y="650.00" font-size="11" text-anchor="start" font-weight="normal" font-style="normal" fill="#231f20" >-0.116</text>
<text x="526.00" y="662.50" font-size="11" text-anchor="start" font-weight="normal" font-style="normal" fill="#231f20" >-0.649</text>
<text x="582.00" y="636.70" font-size="11" text-anchor="start" font-weight="normal" font-style="normal" fill="#231f20" >0.134</text>
<text x="638.50" y="660.00" font-size="11" text-anchor="start" font-weight="normal" font-style="normal" fill="#231f20" >-0.571</text>
<line x1="463.20" y1="711.70" x2="463.20" y2="714.50" stroke="#555" stroke-width="1" />
<line x1="521.20" y1="711.70" x2="521.20" y2="714.50" stroke="#555" stroke-width="1" />
<line x1="579.30" y1="711.70" x2="579.30" y2="714.50" stroke="#555" stroke-width="1" />
<line x1="636.80" y1="711.70" x2="636.80" y2="714.50" stroke="#555" stroke-width="1" />
<text x="463.50" y="725.50" font-size="11" text-anchor="middle" font-weight="normal" font-style="normal" fill="#231f20" >Ctrl +CRLi</text>
<text x="521.20" y="725.50" font-size="11" text-anchor="middle" font-weight="normal" font-style="normal" fill="#231f20" >Ctrl</text>
<text x="579.7" y="725.5" font-size="11" text-anchor="middle" fill="#231f20"><tspan font-style="italic">CSA</tspan>-KO</text>
<text x="638.3" y="725.5" font-size="11" text-anchor="middle" fill="#231f20"><tspan font-style="italic">UVSSA</tspan>-KO</text>
<text transform="translate(401.5,656) rotate(-90)" font-size="11" text-anchor="middle" fill="#231f20">Pol II retention index</text>
<text x="0.00" y="762.50" font-size="22" text-anchor="start" font-weight="bold" font-style="normal" fill="#000" >e</text>
<polyline points="40.70,818.17 41.60,813.35 42.51,818.60 43.41,821.01 44.31,818.46 45.22,817.46 46.12,816.69 47.02,813.61 47.93,813.46 48.83,813.01 49.73,815.21 50.64,817.74 51.54,817.74 52.44,819.97 53.35,813.51 54.25,813.61 55.15,816.29 56.06,818.55 56.96,814.87 57.86,815.32 58.77,816.08 59.67,819.12 60.57,815.85 61.48,817.71 62.38,814.63 63.28,814.98 64.19,815.31 65.09,817.33 65.99,812.71 66.90,814.51 67.80,813.28 68.70,814.33 69.61,814.69 70.51,815.34 71.41,819.12 72.32,822.13 73.22,821.49 74.12,818.56 75.03,816.67 75.93,817.25 76.83,817.02 77.74,812.96 78.64,818.15 79.54,821.31 80.45,820.84 81.35,817.89 82.25,815.47 83.16,815.40 84.06,817.62 84.96,815.18 85.87,817.17 86.77,818.71 87.67,817.92 88.58,815.25 89.48,814.72 90.38,819.57 91.29,819.29 92.19,816.64 93.09,811.86 94.00,819.60 94.90,819.85 95.80,815.88 96.71,815.63 97.61,818.23 98.51,816.86 99.42,815.66 100.32,820.90 101.22,816.80 102.13,815.30 103.03,814.57 103.93,813.92 104.84,816.84 105.74,820.07 106.64,813.52 107.55,814.79 108.45,818.07 109.35,814.13 110.26,814.15 111.16,816.88 112.06,822.00 112.97,817.62 113.87,818.24 114.77,818.46 115.68,816.64 116.58,819.00 117.48,815.51 118.39,811.92 119.29,819.14 120.19,813.90 121.10,817.58 122.00,815.04 122.90,816.60 123.81,813.25 124.71,817.92 125.61,814.52 126.52,818.03 127.42,815.67 128.32,816.23 129.23,813.60 130.13,819.82 131.03,819.34 131.94,812.90 132.84,815.19 133.74,812.15 134.65,818.51 135.55,815.56 136.45,814.61 137.36,811.92 138.26,816.12 139.16,817.02 140.07,814.27 140.97,816.18 141.87,817.70 142.78,814.14 143.68,820.40 144.58,818.22 145.49,812.63 146.39,816.99 147.29,816.58 148.20,814.94 149.10,813.12 150.00,814.54 150.91,818.03 151.81,817.04 152.71,813.22 153.62,815.96 154.52,817.16 155.42,813.63 156.33,812.93 157.23,810.57 158.13,818.14 159.04,817.22 159.94,817.20 160.84,814.72 161.75,816.65 162.65,812.92 163.55,821.84 164.46,813.24 165.36,816.97 166.26,816.07 167.17,814.07 168.07,814.93 168.97,817.77 169.88,811.88 170.78,813.98 171.68,816.46 172.59,814.81 173.49,817.85 174.39,818.17 175.30,815.95 176.20,814.37" fill="none" stroke="#8ec3ea" stroke-width="1.7" stroke-linejoin="round" />
<polyline points="40.70,814.98 41.60,817.24 42.51,818.77 43.41,819.61 44.31,811.33 45.22,814.43 46.12,817.41 47.02,812.39 47.93,814.10 48.83,816.54 49.73,817.05 50.64,812.62 51.54,814.74 52.44,811.41 53.35,814.71 54.25,817.14 55.15,817.18 56.06,817.50 56.96,815.09 57.86,815.11 58.77,814.26 59.67,814.66 60.57,818.48 61.48,816.39 62.38,818.26 63.28,814.69 64.19,819.26 65.09,817.47 65.99,818.16 66.90,817.61 67.80,816.71 68.70,812.23 69.61,816.76 70.51,819.81 71.41,816.93 72.32,814.29 73.22,814.84 74.12,820.95 75.03,825.06 75.93,833.71 76.83,839.38 77.74,839.58 78.64,846.31 79.54,842.71 80.45,843.78 81.35,840.48 82.25,836.19 83.16,840.85 84.06,834.91 84.96,840.98 85.87,834.63 86.77,842.37 87.67,840.02 88.58,835.18 89.48,837.80 90.38,837.04 91.29,837.27 92.19,836.62 93.09,837.37 94.00,839.25 94.90,837.33 95.80,836.15 96.71,838.54 97.61,834.92 98.51,831.52 99.42,839.97 100.32,837.00 101.22,836.18 102.13,835.30 103.03,835.03 103.93,837.02 104.84,835.21 105.74,835.03 106.64,835.19 107.55,831.02 108.45,834.48 109.35,838.45 110.26,838.65 111.16,833.10 112.06,835.37 112.97,835.98 113.87,837.80 114.77,835.05 115.68,834.43 116.58,835.85 117.48,834.94 118.39,831.74 119.29,831.89 120.19,832.44 121.10,834.18 122.00,837.07 122.90,831.61 123.81,829.75 124.71,830.18 125.61,830.42 126.52,832.52 127.42,832.17 128.32,833.03 129.23,829.73 130.13,833.45 131.03,827.26 131.94,830.56 132.84,833.23 133.74,832.31 134.65,836.23 135.55,833.94 136.45,832.72 137.36,825.61 138.26,833.78 139.16,829.28 140.07,831.31 140.97,832.14 141.87,829.70 142.78,836.23 143.68,828.66 144.58,826.00 145.49,830.07 146.39,830.85 147.29,830.18 148.20,828.78 149.10,831.58 150.00,829.94 150.91,828.88 151.81,830.94 152.71,828.97 153.62,829.00 154.52,827.95 155.42,832.15 156.33,830.89 157.23,830.53 158.13,826.33 159.04,828.61 159.94,833.30 160.84,832.29 161.75,824.06 162.65,827.98 163.55,831.99 164.46,830.95 165.36,828.18 166.26,824.80 167.17,824.26 168.07,829.16 168.97,828.88 169.88,823.15 170.78,830.40 171.68,823.85 172.59,826.88 173.49,827.39 174.39,824.29 175.30,826.20 176.20,829.43" fill="none" stroke="#222d8c" stroke-width="1.7" stroke-linejoin="round" />
<rect x="40.7" y="785.0" width="135.50" height="90.70" fill="none" stroke="#231f20" stroke-width="1.4"/>
<line x1="36.70" y1="875.70" x2="40.70" y2="875.70" stroke="#231f20" stroke-width="1" />
<text x="33.70" y="879.30" font-size="11.2" text-anchor="end" font-weight="normal" font-style="normal" fill="#231f20" textLength="16" lengthAdjust="spacingAndGlyphs">0.4</text>
<line x1="38.50" y1="865.62" x2="40.70" y2="865.62" stroke="#231f20" stroke-width="1" />
<line x1="36.70" y1="855.54" x2="40.70" y2="855.54" stroke="#231f20" stroke-width="1" />
<text x="33.70" y="859.14" font-size="11.2" text-anchor="end" font-weight="normal" font-style="normal" fill="#231f20" textLength="16" lengthAdjust="spacingAndGlyphs">0.6</text>
<line x1="38.50" y1="845.47" x2="40.70" y2="845.47" stroke="#231f20" stroke-width="1" />
<line x1="36.70" y1="835.39" x2="40.70" y2="835.39" stroke="#231f20" stroke-width="1" />
<text x="33.70" y="838.99" font-size="11.2" text-anchor="end" font-weight="normal" font-style="normal" fill="#231f20" textLength="16" lengthAdjust="spacingAndGlyphs">0.8</text>
<line x1="38.50" y1="825.31" x2="40.70" y2="825.31" stroke="#231f20" stroke-width="1" />
<line x1="36.70" y1="815.23" x2="40.70" y2="815.23" stroke="#231f20" stroke-width="1" />
<text x="33.70" y="818.83" font-size="11.2" text-anchor="end" font-weight="normal" font-style="normal" fill="#231f20" textLength="16" lengthAdjust="spacingAndGlyphs">1.0</text>
<line x1="38.50" y1="805.16" x2="40.70" y2="805.16" stroke="#231f20" stroke-width="1" />
<line x1="36.70" y1="795.08" x2="40.70" y2="795.08" stroke="#231f20" stroke-width="1" />
<text x="33.70" y="798.68" font-size="11.2" text-anchor="end" font-weight="normal" font-style="normal" fill="#231f20" textLength="16" lengthAdjust="spacingAndGlyphs">1.2</text>
<line x1="38.50" y1="785.00" x2="40.70" y2="785.00" stroke="#231f20" stroke-width="1" />
<line x1="40.70" y1="875.70" x2="40.70" y2="879.70" stroke="#231f20" stroke-width="1" />
<text x="40.70" y="893.70" font-size="11.3" text-anchor="middle" font-weight="normal" font-style="normal" fill="#231f20" >-10</text>
<line x1="74.58" y1="875.70" x2="74.58" y2="879.70" stroke="#231f20" stroke-width="1" />
<text x="74.58" y="893.70" font-size="11.3" text-anchor="middle" font-weight="normal" font-style="normal" fill="#231f20" >0</text>
<line x1="108.45" y1="875.70" x2="108.45" y2="879.70" stroke="#231f20" stroke-width="1" />
<text x="108.45" y="893.70" font-size="11.3" text-anchor="middle" font-weight="normal" font-style="normal" fill="#231f20" >10</text>
<line x1="142.32" y1="875.70" x2="142.32" y2="879.70" stroke="#231f20" stroke-width="1" />
<text x="142.32" y="893.70" font-size="11.3" text-anchor="middle" font-weight="normal" font-style="normal" fill="#231f20" >20</text>
<line x1="176.20" y1="875.70" x2="176.20" y2="879.70" stroke="#231f20" stroke-width="1" />
<text x="176.20" y="893.70" font-size="11.3" text-anchor="middle" font-weight="normal" font-style="normal" fill="#231f20" >30</text>
<text x="109.20" y="769.50" font-size="11" text-anchor="middle" font-weight="bold" font-style="normal" fill="#231f20" >Ctrl</text>
<text x="108.45" y="908.70" font-size="11.3" text-anchor="middle" font-weight="normal" font-style="normal" fill="#231f20" >Distance from TSS (kb)</text>
<text transform="translate(12.9,838.5) rotate(-90)" font-size="11.3" text-anchor="middle" fill="#231f20">Fraction CPDs remaining</text>
<polyline points="240.70,820.32 241.60,816.70 242.51,815.53 243.41,813.56 244.31,822.87 245.22,813.61 246.12,815.27 247.02,813.20 247.93,814.85 248.83,816.22 249.73,815.70 250.64,815.78 251.54,818.18 252.44,816.97 253.35,816.40 254.25,817.74 255.15,820.13 256.06,820.04 256.96,815.50 257.86,815.47 258.77,816.42 259.67,819.39 260.57,814.67 261.48,817.58 262.38,821.54 263.28,813.03 264.19,820.16 265.09,811.42 265.99,815.40 266.90,817.67 267.80,822.17 268.70,818.27 269.61,813.16 270.51,813.47 271.41,816.02 272.32,820.60 273.22,817.52 274.12,817.28 275.03,815.53 275.93,816.90 276.83,815.80 277.74,820.40 278.64,818.11 279.54,813.25 280.45,820.01 281.35,814.45 282.25,811.17 283.16,815.07 284.06,819.85 284.96,813.69 285.87,820.93 286.77,815.79 287.67,817.53 288.58,813.69 289.48,813.79 290.38,816.12 291.29,812.35 292.19,814.27 293.09,817.67 294.00,818.83 294.90,810.76 295.80,817.48 296.71,815.57 297.61,816.80 298.51,817.64 299.42,820.27 300.32,816.86 301.22,816.79 302.13,814.21 303.03,817.71 303.93,820.18 304.84,819.00 305.74,816.60 306.64,815.92 307.55,814.79 308.45,817.38 309.35,815.22 310.26,816.15 311.16,812.52 312.06,816.61 312.97,816.14 313.87,815.15 314.77,813.61 315.68,818.61 316.58,817.57 317.48,817.10 318.39,821.46 319.29,813.42 320.19,813.93 321.10,816.39 322.00,808.54 322.90,813.48 323.81,811.68 324.71,812.78 325.61,814.30 326.52,819.72 327.42,812.82 328.32,815.44 329.23,819.22 330.13,816.29 331.03,814.64 331.94,814.11 332.84,815.99 333.74,817.62 334.65,814.60 335.55,818.16 336.45,816.57 337.36,814.61 338.26,819.76 339.16,815.51 340.07,820.98 340.97,818.53 341.87,819.26 342.78,816.57 343.68,814.68 344.58,816.48 345.49,814.21 346.39,816.13 347.29,816.83 348.20,815.20 349.10,816.90 350.00,816.02 350.91,813.89 351.81,817.66 352.71,813.62 353.62,818.91 354.52,816.84 355.42,820.36 356.33,817.56 357.23,812.61 358.13,815.47 359.04,813.34 359.94,819.75 360.84,818.66 361.75,815.20 362.65,814.36 363.55,814.32 364.46,820.19 365.36,815.08 366.26,816.45 367.17,815.99 368.07,815.16 368.97,816.93 369.88,820.21 370.78,818.77 371.68,819.63 372.59,819.35 373.49,816.56 374.39,813.17 375.30,817.91 376.20,818.04" fill="none" stroke="#8ec3ea" stroke-width="1.7" stroke-linejoin="round" />
<polyline points="240.70,819.03 241.60,820.99 242.51,815.01 243.41,816.85 244.31,816.03 245.22,818.44 246.12,813.62 247.02,819.24 247.93,813.42 248.83,817.44 249.73,812.63 250.64,818.19 251.54,813.77 252.44,813.77 253.35,815.50 254.25,809.79 255.15,814.65 256.06,818.19 256.96,812.94 257.86,817.98 258.77,817.02 259.67,815.19 260.57,814.63 261.48,809.55 262.38,821.01 263.28,816.09 264.19,811.50 265.09,815.76 265.99,814.17 266.90,810.14 267.80,819.31 268.70,815.09 269.61,812.61 270.51,817.19 271.41,821.03 272.32,818.56 273.22,814.59 274.12,814.60 275.03,808.78 275.93,809.73 276.83,818.56 277.74,809.26 278.64,808.98 279.54,805.88 280.45,811.71 281.35,813.06 282.25,810.72 283.16,806.04 284.06,809.14 284.96,805.54 285.87,808.60 286.77,813.16 287.67,814.55 288.58,805.29 289.48,817.02 290.38,813.71 291.29,814.13 292.19,816.66 293.09,816.05 294.00,814.68 294.90,807.36 295.80,815.40 296.71,816.88 297.61,814.68 298.51,811.94 299.42,817.73 300.32,816.31 301.22,820.75 302.13,812.55 303.03,812.56 303.93,809.81 304.84,818.74 305.74,807.49 306.64,811.74 307.55,815.52 308.45,815.87 309.35,815.54 310.26,818.52 311.16,811.87 312.06,816.41 312.97,816.73 313.87,812.57 314.77,813.87 315.68,816.18 316.58,815.03 317.48,815.90 318.39,809.81 319.29,810.95 320.19,816.72 321.10,814.46 322.00,809.79 322.90,815.31 323.81,808.46 324.71,812.90 325.61,812.18 326.52,821.35 327.42,811.61 328.32,813.31 329.23,812.53 330.13,812.86 331.03,812.74 331.94,816.20 332.84,811.53 333.74,814.32 334.65,818.02 335.55,817.96 336.45,814.04 337.36,813.47 338.26,821.93 339.16,821.52 340.07,811.15 340.97,814.69 341.87,805.21 342.78,819.80 343.68,815.52 344.58,816.71 345.49,812.88 346.39,810.03 347.29,809.40 348.20,818.14 349.10,810.69 350.00,818.86 350.91,813.79 351.81,814.26 352.71,812.78 353.62,817.53 354.52,810.43 355.42,815.12 356.33,814.97 357.23,815.81 358.13,818.48 359.04,812.54 359.94,813.85 360.84,813.46 361.75,808.80 362.65,817.91 363.55,815.97 364.46,815.01 365.36,812.21 366.26,815.66 367.17,811.98 368.07,813.57 368.97,820.96 369.88,817.41 370.78,821.89 371.68,816.11 372.59,816.56 373.49,813.22 374.39,814.64 375.30,815.43 376.20,811.04" fill="none" stroke="#222d8c" stroke-width="1.7" stroke-linejoin="round" />
<rect x="240.7" y="785.0" width="135.50" height="90.70" fill="none" stroke="#231f20" stroke-width="1.4"/>
<line x1="236.70" y1="875.70" x2="240.70" y2="875.70" stroke="#231f20" stroke-width="1" />
<text x="233.70" y="879.30" font-size="11.2" text-anchor="end" font-weight="normal" font-style="normal" fill="#231f20" textLength="16" lengthAdjust="spacingAndGlyphs">0.4</text>
<line x1="238.50" y1="865.62" x2="240.70" y2="865.62" stroke="#231f20" stroke-width="1" />
<line x1="236.70" y1="855.54" x2="240.70" y2="855.54" stroke="#231f20" stroke-width="1" />
<text x="233.70" y="859.14" font-size="11.2" text-anchor="end" font-weight="normal" font-style="normal" fill="#231f20" textLength="16" lengthAdjust="spacingAndGlyphs">0.6</text>
<line x1="238.50" y1="845.47" x2="240.70" y2="845.47" stroke="#231f20" stroke-width="1" />
<line x1="236.70" y1="835.39" x2="240.70" y2="835.39" stroke="#231f20" stroke-width="1" />
<text x="233.70" y="838.99" font-size="11.2" text-anchor="end" font-weight="normal" font-style="normal" fill="#231f20" textLength="16" lengthAdjust="spacingAndGlyphs">0.8</text>
<line x1="238.50" y1="825.31" x2="240.70" y2="825.31" stroke="#231f20" stroke-width="1" />
<line x1="236.70" y1="815.23" x2="240.70" y2="815.23" stroke="#231f20" stroke-width="1" />
<text x="233.70" y="818.83" font-size="11.2" text-anchor="end" font-weight="normal" font-style="normal" fill="#231f20" textLength="16" lengthAdjust="spacingAndGlyphs">1.0</text>
<line x1="238.50" y1="805.16" x2="240.70" y2="805.16" stroke="#231f20" stroke-width="1" />
<line x1="236.70" y1="795.08" x2="240.70" y2="795.08" stroke="#231f20" stroke-width="1" />
<text x="233.70" y="798.68" font-size="11.2" text-anchor="end" font-weight="normal" font-style="normal" fill="#231f20" textLength="16" lengthAdjust="spacingAndGlyphs">1.2</text>
<line x1="238.50" y1="785.00" x2="240.70" y2="785.00" stroke="#231f20" stroke-width="1" />
<line x1="240.70" y1="875.70" x2="240.70" y2="879.70" stroke="#231f20" stroke-width="1" />
<text x="240.70" y="893.70" font-size="11.3" text-anchor="middle" font-weight="normal" font-style="normal" fill="#231f20" >-10</text>
<line x1="274.57" y1="875.70" x2="274.57" y2="879.70" stroke="#231f20" stroke-width="1" />
<text x="274.57" y="893.70" font-size="11.3" text-anchor="middle" font-weight="normal" font-style="normal" fill="#231f20" >0</text>
<line x1="308.45" y1="875.70" x2="308.45" y2="879.70" stroke="#231f20" stroke-width="1" />
<text x="308.45" y="893.70" font-size="11.3" text-anchor="middle" font-weight="normal" font-style="normal" fill="#231f20" >10</text>
<line x1="342.32" y1="875.70" x2="342.32" y2="879.70" stroke="#231f20" stroke-width="1" />
<text x="342.32" y="893.70" font-size="11.3" text-anchor="middle" font-weight="normal" font-style="normal" fill="#231f20" >20</text>
<line x1="376.20" y1="875.70" x2="376.20" y2="879.70" stroke="#231f20" stroke-width="1" />
<text x="376.20" y="893.70" font-size="11.3" text-anchor="middle" font-weight="normal" font-style="normal" fill="#231f20" >30</text>
<text x="310.60" y="769.50" font-size="11" text-anchor="middle" font-weight="bold" font-style="normal" fill="#231f20" >Ctrl +CRLi</text>
<text x="308.45" y="908.70" font-size="11.3" text-anchor="middle" font-weight="normal" font-style="normal" fill="#231f20" >Distance from TSS (kb)</text>
<text transform="translate(212.5,838.5) rotate(-90)" font-size="11.3" text-anchor="middle" fill="#231f20">Fraction CPDs remaining</text>
<line x1="145.60" y1="928.50" x2="161.90" y2="928.50" stroke="#222d8c" stroke-width="3" />
<text x="167.00" y="931.30" font-size="11" text-anchor="start" font-weight="normal" font-style="normal" fill="#231f20" >TS</text>
<line x1="195.10" y1="928.50" x2="211.60" y2="928.50" stroke="#8ec3ea" stroke-width="3" />
<text x="216.90" y="931.30" font-size="11" text-anchor="start" font-weight="normal" font-style="normal" fill="#231f20" >NTS</text>
<text x="406.00" y="779.00" font-size="22" text-anchor="start" font-weight="bold" font-style="normal" fill="#000" >f</text>
<line x1="473.30" y1="795.60" x2="473.30" y2="909.60" stroke="#555" stroke-width="1.1" />
<line x1="473.30" y1="909.60" x2="615.60" y2="909.60" stroke="#555" stroke-width="1.1" />
<line x1="469.80" y1="796.40" x2="473.30" y2="796.40" stroke="#555" stroke-width="1" />
<text x="469.50" y="800.20" font-size="11" text-anchor="end" font-weight="normal" font-style="normal" fill="#231f20" >1.0</text>
<line x1="471.30" y1="806.48" x2="473.30" y2="806.48" stroke="#555" stroke-width="1" />
<line x1="469.80" y1="816.55" x2="473.30" y2="816.55" stroke="#555" stroke-width="1" />
<text x="469.50" y="820.35" font-size="11" text-anchor="end" font-weight="normal" font-style="normal" fill="#231f20" >0.5</text>
<line x1="471.30" y1="826.62" x2="473.30" y2="826.62" stroke="#555" stroke-width="1" />
<line x1="469.80" y1="836.70" x2="473.30" y2="836.70" stroke="#555" stroke-width="1" />
<text x="469.50" y="840.50" font-size="11" text-anchor="end" font-weight="normal" font-style="normal" fill="#231f20" >0.0</text>
<line x1="471.30" y1="846.78" x2="473.30" y2="846.78" stroke="#555" stroke-width="1" />
<line x1="469.80" y1="856.85" x2="473.30" y2="856.85" stroke="#555" stroke-width="1" />
<text x="469.50" y="860.65" font-size="11" text-anchor="end" font-weight="normal" font-style="normal" fill="#231f20" >−0.5</text>
<line x1="471.30" y1="866.93" x2="473.30" y2="866.93" stroke="#555" stroke-width="1" />
<line x1="469.80" y1="877.00" x2="473.30" y2="877.00" stroke="#555" stroke-width="1" />
<text x="469.50" y="880.80" font-size="11" text-anchor="end" font-weight="normal" font-style="normal" fill="#231f20" >−1.0</text>
<line x1="471.30" y1="887.08" x2="473.30" y2="887.08" stroke="#555" stroke-width="1" />
<line x1="469.80" y1="897.15" x2="473.30" y2="897.15" stroke="#555" stroke-width="1" />
<text x="469.50" y="900.95" font-size="11" text-anchor="end" font-weight="normal" font-style="normal" fill="#231f20" >−1.5</text>
<line x1="471.30" y1="907.23" x2="473.30" y2="907.23" stroke="#555" stroke-width="1" />
<path d="M511.70,796.40 L511.10,806.48 L510.00,816.55 L508.50,822.60 L505.50,828.64 L501.00,833.48 L498.00,836.70 L496.50,840.73 L497.80,846.78 L501.50,856.85 L505.50,866.93 L508.20,877.00 L509.60,887.08 L510.50,897.15 L511.70,909.24 L512.30,909.24 L513.50,897.15 L514.40,887.08 L515.80,877.00 L518.50,866.93 L522.50,856.85 L526.20,846.78 L527.50,840.73 L526.00,836.70 L523.00,833.48 L518.50,828.64 L515.50,822.60 L514.00,816.55 L512.90,806.48 L512.30,796.40 Z" fill="#a6c8e2" stroke="#a6c8e2" stroke-width="0.5"/>
<linearGradient id="fv2" gradientUnits="userSpaceOnUse" x1="0" y1="850" x2="0" y2="904"><stop offset="0" stop-color="#a6c8e2"/><stop offset="1" stop-color="#f4f8fb"/></linearGradient>
<path d="M588.70,796.40 L588.10,806.48 L586.80,816.55 L584.50,824.61 L580.00,830.66 L575.00,834.69 L573.10,836.70 L576.00,839.92 L582.00,844.76 L585.50,850.81 L587.40,860.88 L588.10,877.00 L588.60,903.20 L589.40,903.20 L589.90,877.00 L590.60,860.88 L592.50,850.81 L596.00,844.76 L602.00,839.92 L604.90,836.70 L603.00,834.69 L598.00,830.66 L593.50,824.61 L591.20,816.55 L589.90,806.48 L589.30,796.40 Z" fill="url(#fv2)" stroke="none" stroke-width="0.5"/>
<line x1="474.50" y1="836.70" x2="627.70" y2="836.70" stroke="#111" stroke-width="1.3" stroke-dasharray="2.7 4.9"/>
<rect x="510" y="838.1" width="4" height="21.6" fill="#000"/><circle cx="512" cy="846.6" r="1.6" fill="#fff"/>
<rect x="587" y="829" width="4" height="12" fill="#000"/><circle cx="589" cy="835.7" r="1.6" fill="#fff"/>
<text x="516.00" y="850.00" font-size="11" text-anchor="start" font-weight="normal" font-style="normal" fill="#231f20" >-0.239</text>
<text x="593.50" y="833.70" font-size="11" text-anchor="start" font-weight="normal" font-style="normal" fill="#231f20" >0.025</text>
<path d="M512,792.5 L512,789.5 L589,789.5 L589,792.5" fill="none" stroke="#555" stroke-width="1"/>
<text x="548.00" y="783.10" font-size="11" text-anchor="middle" font-weight="normal" font-style="normal" fill="#231f20" >1.9E-259</text>
<text x="511.00" y="924.80" font-size="11" text-anchor="middle" font-weight="normal" font-style="normal" fill="#231f20" >Ctrl</text>
<text x="577.70" y="924.80" font-size="11" text-anchor="middle" font-weight="normal" font-style="normal" fill="#231f20" >Ctrl +CRLi</text>
<text transform="translate(437.3,845.5) rotate(-90)" font-size="11" text-anchor="middle" fill="#231f20">Log<tspan font-size="7.5" dy="2.5">2</tspan><tspan dy="-2.5">(TS/NTS)</tspan></text>
</svg></body></html>
